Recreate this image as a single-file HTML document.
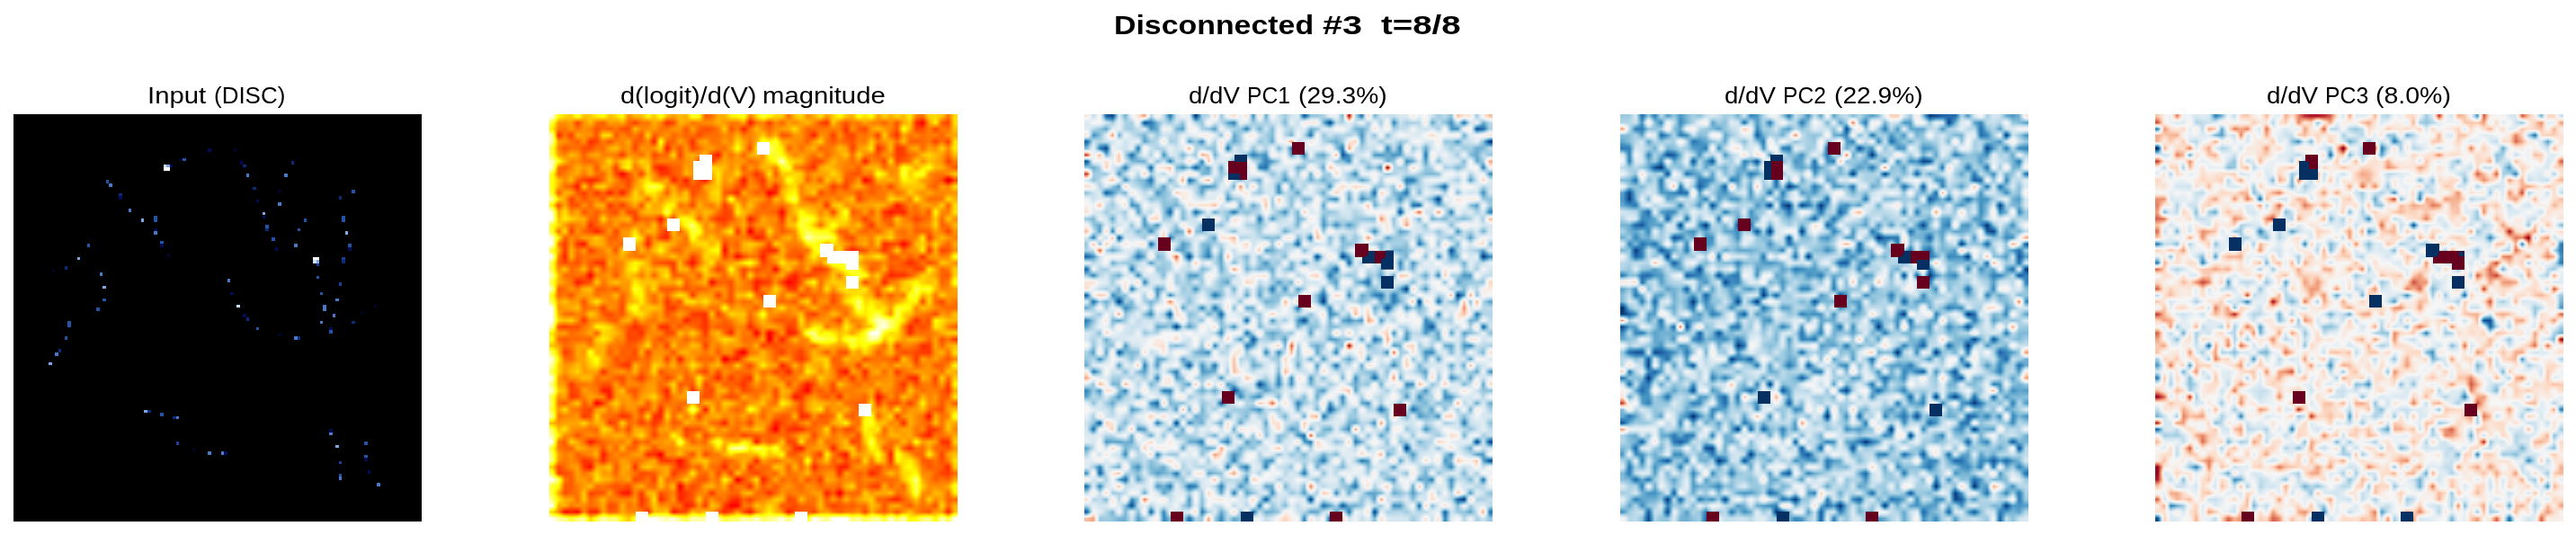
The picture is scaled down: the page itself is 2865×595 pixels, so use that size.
<!DOCTYPE html>
<html><head><meta charset="utf-8"><title>Disconnected #3 t=8/8</title>
<style>
html,body{margin:0;padding:0;background:#fff}
body{width:2865px;height:595px;position:relative;overflow:hidden;font-family:"Liberation Sans",sans-serif;color:#000}
.t{position:absolute;white-space:nowrap;text-align:center;line-height:1}
.t span{display:inline-block;transform-origin:50% 50%}
.w{top:13px;font-size:30px;font-weight:bold;text-align:left}
.w span{transform-origin:0 50%}
.v{top:93px;font-size:26px;text-align:left}
.v span{transform-origin:0 50%}
.p{position:absolute;top:127px;width:454px;height:453px;overflow:hidden}
.g{position:absolute;left:-3.5469px;top:-8.0938px;width:461.0938px}
.g i{display:block;height:7.0938px}
.o{position:absolute;border-radius:0px}
#p1{left:15px;background:#000}
#p1 i{position:absolute;width:3.5469px;height:3.5469px}
</style></head><body>
<svg width="0" height="0" style="position:absolute"><defs><filter id="c1" x="0" y="0" width="100%" height="100%" color-interpolation-filters="sRGB"><feConvolveMatrix order="1 7" kernelMatrix="1 1 1 1 1 1 1" divisor="7" edgeMode="duplicate" preserveAlpha="true"/><feComponentTransfer><feFuncR type="linear" slope="2.6252" intercept="0.0416"/><feFuncG type="linear" slope="2.62499" intercept="-0.958325"/><feFuncB type="linear" slope="3.9375" intercept="-2.9375"/></feComponentTransfer></filter><filter id="c2" x="0" y="0" width="100%" height="100%" color-interpolation-filters="sRGB"><feConvolveMatrix order="1 7" kernelMatrix="1 1 1 1 1 1 1" divisor="7" edgeMode="duplicate" preserveAlpha="true"/><feComponentTransfer><feFuncR type="table" tableValues="0.4039 0.6923 0.8392 0.9546 0.9922 0.9657 0.8196 0.5665 0.2627 0.1273 0.0196"/><feFuncG type="table" tableValues="0 0.0923 0.3765 0.6418 0.8588 0.9672 0.898 0.7687 0.5765 0.3958 0.1882"/><feFuncB type="table" tableValues="0.1216 0.1677 0.302 0.5057 0.7804 0.9681 0.9412 0.8685 0.7647 0.6687 0.3804"/></feComponentTransfer></filter><filter id="c3" x="0" y="0" width="100%" height="100%" color-interpolation-filters="sRGB"><feConvolveMatrix order="1 7" kernelMatrix="1 1 1 1 1 1 1" divisor="7" edgeMode="duplicate" preserveAlpha="true"/><feComponentTransfer><feFuncR type="table" tableValues="0.4039 0.6923 0.8392 0.9546 0.9922 0.9657 0.8196 0.5665 0.2627 0.1273 0.0196"/><feFuncG type="table" tableValues="0 0.0923 0.3765 0.6418 0.8588 0.9672 0.898 0.7687 0.5765 0.3958 0.1882"/><feFuncB type="table" tableValues="0.1216 0.1677 0.302 0.5057 0.7804 0.9681 0.9412 0.8685 0.7647 0.6687 0.3804"/></feComponentTransfer></filter><filter id="c4" x="0" y="0" width="100%" height="100%" color-interpolation-filters="sRGB"><feConvolveMatrix order="1 7" kernelMatrix="1 1 1 1 1 1 1" divisor="7" edgeMode="duplicate" preserveAlpha="true"/><feComponentTransfer><feFuncR type="table" tableValues="0.4039 0.6923 0.8392 0.9546 0.9922 0.9657 0.8196 0.5665 0.2627 0.1273 0.0196"/><feFuncG type="table" tableValues="0 0.0923 0.3765 0.6418 0.8588 0.9672 0.898 0.7687 0.5765 0.3958 0.1882"/><feFuncB type="table" tableValues="0.1216 0.1677 0.302 0.5057 0.7804 0.9681 0.9412 0.8685 0.7647 0.6687 0.3804"/></feComponentTransfer></filter></defs></svg>
<div class="t w" style="left:1238.5px"><span style="transform:scaleX(1.129)">Disconnected</span></div><div class="t w" style="left:1471.4px"><span style="transform:scaleX(1.319)">#3</span></div><div class="t w" style="left:1536.4px"><span style="transform:scaleX(1.279)">t=8/8</span></div>
<div class="t v" style="left:164.3px"><span style="transform:scaleX(1.127)">Input</span></div><div class="t v" style="left:237.8px"><span style="transform:scaleX(0.999)">(DISC)</span></div><div class="t v" style="left:689.8px"><span style="transform:scaleX(1.115)">d(logit)/d(V)</span></div><div class="t v" style="left:848.3px"><span style="transform:scaleX(1.126)">magnitude</span></div><div class="t v" style="left:1322.0px"><span style="transform:scaleX(1.062)">d/dV</span></div><div class="t v" style="left:1387.2px"><span style="transform:scaleX(0.947)">PC1</span></div><div class="t v" style="left:1443.5px"><span style="transform:scaleX(1.084)">(29.3%)</span></div><div class="t v" style="left:1918.0px"><span style="transform:scaleX(1.062)">d/dV</span></div><div class="t v" style="left:1983.2px"><span style="transform:scaleX(0.947)">PC2</span></div><div class="t v" style="left:2039.5px"><span style="transform:scaleX(1.084)">(22.9%)</span></div><div class="t v" style="left:2520.8px"><span style="transform:scaleX(1.067)">d/dV</span></div><div class="t v" style="left:2586.3px"><span style="transform:scaleX(0.953)">PC3</span></div><div class="t v" style="left:2642.3px"><span style="transform:scaleX(1.096)">(8.0%)</span></div>
<div class="p" id="p1"><i style="left:216.36px;top:38.02px;background:#000c55"></i><i style="left:187.98px;top:48.66px;background:#2454a8"></i><i style="left:184.44px;top:48.66px;background:#00062a"></i><i style="left:166.70px;top:55.75px;background:#c4e2fb"></i><i style="left:170.25px;top:55.75px;background:#7ea6e4"></i><i style="left:173.80px;top:55.75px;background:#000c55"></i><i style="left:166.70px;top:59.30px;background:#ffffff"></i><i style="left:170.25px;top:59.30px;background:#ffffff"></i><i style="left:102.86px;top:73.48px;background:#2454a8"></i><i style="left:106.41px;top:77.03px;background:#4a78c8"></i><i style="left:117.05px;top:87.67px;background:#0c2a7a"></i><i style="left:117.05px;top:91.22px;background:#000c55"></i><i style="left:127.69px;top:105.41px;background:#4a78c8"></i><i style="left:141.88px;top:116.05px;background:#7ea6e4"></i><i style="left:156.06px;top:112.50px;background:#2454a8"></i><i style="left:156.06px;top:116.05px;background:#2454a8"></i><i style="left:156.06px;top:126.69px;background:#000c55"></i><i style="left:156.06px;top:130.23px;background:#4a78c8"></i><i style="left:163.16px;top:140.88px;background:#2454a8"></i><i style="left:163.16px;top:144.42px;background:#000c55"></i><i style="left:170.25px;top:155.06px;background:#00062a"></i><i style="left:81.58px;top:144.42px;background:#2454a8"></i><i style="left:70.94px;top:158.61px;background:#7ea6e4"></i><i style="left:56.75px;top:169.25px;background:#0c2a7a"></i><i style="left:42.56px;top:172.80px;background:#00062a"></i><i style="left:95.77px;top:176.34px;background:#4a78c8"></i><i style="left:99.31px;top:190.53px;background:#7ea6e4"></i><i style="left:99.31px;top:204.72px;background:#2454a8"></i><i style="left:92.22px;top:215.36px;background:#2454a8"></i><i style="left:244.73px;top:38.02px;background:#00062a"></i><i style="left:251.83px;top:52.20px;background:#000c55"></i><i style="left:255.38px;top:55.75px;background:#0c2a7a"></i><i style="left:258.92px;top:66.39px;background:#4a78c8"></i><i style="left:266.02px;top:80.58px;background:#0c2a7a"></i><i style="left:269.56px;top:94.77px;background:#000c55"></i><i style="left:276.66px;top:108.95px;background:#7ea6e4"></i><i style="left:276.66px;top:112.50px;background:#000c55"></i><i style="left:280.20px;top:123.14px;background:#2454a8"></i><i style="left:280.20px;top:126.69px;background:#0c2a7a"></i><i style="left:287.30px;top:137.33px;background:#2454a8"></i><i style="left:290.84px;top:147.97px;background:#000c55"></i><i style="left:308.58px;top:52.20px;background:#0c2a7a"></i><i style="left:301.48px;top:66.39px;background:#4a78c8"></i><i style="left:294.39px;top:84.12px;background:#00062a"></i><i style="left:294.39px;top:98.31px;background:#4a78c8"></i><i style="left:322.77px;top:116.05px;background:#2454a8"></i><i style="left:315.67px;top:126.69px;background:#2454a8"></i><i style="left:312.12px;top:144.42px;background:#4a78c8"></i><i style="left:375.97px;top:84.12px;background:#2454a8"></i><i style="left:361.78px;top:91.22px;background:#0c2a7a"></i><i style="left:365.33px;top:112.50px;background:#2454a8"></i><i style="left:365.33px;top:116.05px;background:#2454a8"></i><i style="left:368.88px;top:130.23px;background:#7ea6e4"></i><i style="left:372.42px;top:144.42px;background:#2454a8"></i><i style="left:372.42px;top:147.97px;background:#000c55"></i><i style="left:365.33px;top:158.61px;background:#18409a"></i><i style="left:365.33px;top:162.16px;background:#0c2a7a"></i><i style="left:333.41px;top:158.61px;background:#ffffff"></i><i style="left:336.95px;top:158.61px;background:#ffffff"></i><i style="left:333.41px;top:162.16px;background:#c4e2fb"></i><i style="left:336.95px;top:162.16px;background:#7ea6e4"></i><i style="left:336.95px;top:165.70px;background:#18409a"></i><i style="left:336.95px;top:179.89px;background:#2454a8"></i><i style="left:361.78px;top:186.98px;background:#18409a"></i><i style="left:340.50px;top:197.62px;background:#2454a8"></i><i style="left:358.23px;top:204.72px;background:#4a78c8"></i><i style="left:344.05px;top:211.81px;background:#4a78c8"></i><i style="left:344.05px;top:215.36px;background:#4a78c8"></i><i style="left:354.69px;top:222.45px;background:#4a78c8"></i><i style="left:237.64px;top:183.44px;background:#4a78c8"></i><i style="left:241.19px;top:197.62px;background:#000c55"></i><i style="left:248.28px;top:211.81px;background:#c4e2fb"></i><i style="left:255.38px;top:222.45px;background:#000c55"></i><i style="left:258.92px;top:226.00px;background:#0c2a7a"></i><i style="left:400.80px;top:211.81px;background:#00062a"></i><i style="left:386.61px;top:218.91px;background:#00062a"></i><i style="left:60.30px;top:229.55px;background:#2454a8"></i><i style="left:60.30px;top:233.09px;background:#2454a8"></i><i style="left:56.75px;top:247.28px;background:#2454a8"></i><i style="left:49.66px;top:261.47px;background:#0c2a7a"></i><i style="left:46.11px;top:265.02px;background:#4a78c8"></i><i style="left:39.02px;top:275.66px;background:#7ea6e4"></i><i style="left:145.42px;top:328.86px;background:#7ea6e4"></i><i style="left:148.97px;top:328.86px;background:#0c2a7a"></i><i style="left:163.16px;top:332.41px;background:#2454a8"></i><i style="left:177.34px;top:335.95px;background:#0c2a7a"></i><i style="left:180.89px;top:335.95px;background:#4a78c8"></i><i style="left:180.89px;top:364.33px;background:#18409a"></i><i style="left:216.36px;top:374.97px;background:#4a78c8"></i><i style="left:198.62px;top:371.42px;background:#00062a"></i><i style="left:269.56px;top:236.64px;background:#2454a8"></i><i style="left:294.39px;top:243.73px;background:#00062a"></i><i style="left:312.12px;top:247.28px;background:#4a78c8"></i><i style="left:315.67px;top:247.28px;background:#0c2a7a"></i><i style="left:340.50px;top:229.55px;background:#4a78c8"></i><i style="left:351.14px;top:236.64px;background:#000c55"></i><i style="left:351.14px;top:240.19px;background:#2454a8"></i><i style="left:375.97px;top:229.55px;background:#0c2a7a"></i><i style="left:351.14px;top:350.14px;background:#000c55"></i><i style="left:351.14px;top:353.69px;background:#4a78c8"></i><i style="left:358.23px;top:367.88px;background:#7ea6e4"></i><i style="left:390.16px;top:364.33px;background:#2454a8"></i><i style="left:390.16px;top:378.52px;background:#2454a8"></i><i style="left:390.16px;top:382.06px;background:#000c55"></i><i style="left:361.78px;top:385.61px;background:#18409a"></i><i style="left:361.78px;top:399.80px;background:#2454a8"></i><i style="left:361.78px;top:403.34px;background:#4a78c8"></i><i style="left:393.70px;top:396.25px;background:#000c55"></i><i style="left:404.34px;top:410.44px;background:#4a78c8"></i><i style="left:230.55px;top:374.97px;background:#4a78c8"></i><i style="left:234.09px;top:374.97px;background:#000c55"></i></div>
<div class="p" style="left:611px"><div class="g" style="filter:url(#c1)"><i style="background:linear-gradient(90deg,#fefefe,#fefefe,#bfbfbf,#b1b1b1,#aaaaaa,#cbcbcb,#a6a6a6,#ababab,#b8b8b8,#c3c3c3,#a6a6a6,#b1b1b1,#c2c2c2,#919191,#a5a5a5,#a4a4a4,#bebebe,#a9a9a9,#c9c9c9,#a4a4a4,#999999,#a6a6a6,#9f9f9f,#cbcbcb,#c2c2c2,#808080,#888888,#a0a0a0,#a0a0a0,#b9b9b9,#bfbfbf,#c8c8c8,#8f8f8f,#b0b0b0,#cfcfcf,#bdbdbd,#afafaf,#adadad,#878787,#a7a7a7,#b3b3b3,#929292,#a0a0a0,#b6b6b6,#969696,#acacac,#c1c1c1,#a9a9a9,#a0a0a0,#c4c4c4,#b2b2b2,#c2c2c2,#9b9b9b,#afafaf,#a0a0a0,#b1b1b1,#a4a4a4,#b9b9b9,#909090,#878787,#afafaf,#b0b0b0,#a9a9a9,#898989,#b2b2b2,#b2b2b2)"></i><i style="background:linear-gradient(90deg,#fefefe,#fefefe,#bfbfbf,#b1b1b1,#aaaaaa,#cbcbcb,#a6a6a6,#ababab,#b8b8b8,#c3c3c3,#a6a6a6,#b1b1b1,#c2c2c2,#919191,#a5a5a5,#a4a4a4,#bebebe,#a9a9a9,#c9c9c9,#a4a4a4,#999999,#a6a6a6,#9f9f9f,#cbcbcb,#c2c2c2,#808080,#888888,#a0a0a0,#a0a0a0,#b9b9b9,#bfbfbf,#c8c8c8,#8f8f8f,#b0b0b0,#cfcfcf,#bdbdbd,#afafaf,#adadad,#878787,#a7a7a7,#b3b3b3,#929292,#a0a0a0,#b6b6b6,#969696,#acacac,#c1c1c1,#a9a9a9,#a0a0a0,#c4c4c4,#b2b2b2,#c2c2c2,#9b9b9b,#afafaf,#a0a0a0,#b1b1b1,#a4a4a4,#b9b9b9,#909090,#878787,#afafaf,#b0b0b0,#a9a9a9,#898989,#b2b2b2,#b2b2b2)"></i><i style="background:linear-gradient(90deg,#cfcfcf,#cfcfcf,#959595,#949494,#9a9a9a,#737373,#949494,#a5a5a5,#898989,#808080,#9b9b9b,#969696,#9f9f9f,#858585,#747474,#8a8a8a,#898989,#9f9f9f,#919191,#6e6e6e,#797979,#a1a1a1,#9c9c9c,#898989,#909090,#939393,#969696,#a0a0a0,#979797,#8c8c8c,#8c8c8c,#9e9e9e,#646464,#898989,#909090,#747474,#929292,#838383,#9b9b9b,#909090,#9c9c9c,#a3a3a3,#939393,#7a7a7a,#707070,#ababab,#8d8d8d,#7d7d7d,#8e8e8e,#8b8b8b,#9c9c9c,#909090,#8d8d8d,#828282,#939393,#7c7c7c,#9e9e9e,#acacac,#6e6e6e,#5b5b5b,#9a9a9a,#bcbcbc,#7f7f7f,#757575,#b4b4b4,#b4b4b4)"></i><i style="background:linear-gradient(90deg,#bababa,#bababa,#8c8c8c,#898989,#979797,#888888,#949494,#8e8e8e,#7c7c7c,#888888,#818181,#8b8b8b,#7a7a7a,#7a7a7a,#a6a6a6,#8f8f8f,#929292,#999999,#898989,#8a8a8a,#969696,#969696,#7d7d7d,#9c9c9c,#838383,#7a7a7a,#7d7d7d,#8a8a8a,#acacac,#7c7c7c,#8e8e8e,#686868,#8a8a8a,#a3a3a3,#929292,#848484,#949494,#999999,#9e9e9e,#b4b4b4,#959595,#838383,#878787,#8a8a8a,#8d8d8d,#8d8d8d,#8e8e8e,#6d6d6d,#979797,#818181,#787878,#999999,#a5a5a5,#9a9a9a,#8f8f8f,#7d7d7d,#c6c6c6,#a3a3a3,#777777,#7a7a7a,#8e8e8e,#777777,#8d8d8d,#888888,#a8a8a8,#a8a8a8)"></i><i style="background:linear-gradient(90deg,#ececec,#ececec,#6a6a6a,#8a8a8a,#737373,#a0a0a0,#969696,#959595,#7c7c7c,#b2b2b2,#b3b3b3,#7e7e7e,#929292,#838383,#8d8d8d,#7a7a7a,#b0b0b0,#7e7e7e,#8e8e8e,#979797,#848484,#8c8c8c,#838383,#898989,#797979,#858585,#888888,#888888,#939393,#8c8c8c,#a2a2a2,#8a8a8a,#8f8f8f,#999999,#ababab,#909090,#a1a1a1,#7c7c7c,#818181,#979797,#959595,#818181,#686868,#959595,#909090,#737373,#979797,#7b7b7b,#767676,#8b8b8b,#888888,#919191,#747474,#adadad,#848484,#6f6f6f,#9d9d9d,#8a8a8a,#909090,#878787,#8d8d8d,#8e8e8e,#828282,#979797,#9c9c9c,#9c9c9c)"></i><i style="background:linear-gradient(90deg,#eeeeee,#eeeeee,#989898,#969696,#888888,#818181,#969696,#6d6d6d,#777777,#8e8e8e,#7b7b7b,#8e8e8e,#909090,#9e9e9e,#7d7d7d,#828282,#949494,#676767,#c8c8c8,#848484,#828282,#9d9d9d,#8e8e8e,#6d6d6d,#979797,#9f9f9f,#888888,#8a8a8a,#9a9a9a,#909090,#b1b1b1,#9e9e9e,#898989,#9e9e9e,#cbcbcb,#bbbbbb,#c9c9c9,#a0a0a0,#9b9b9b,#929292,#919191,#808080,#999999,#aeaeae,#898989,#7f7f7f,#8b8b8b,#828282,#7b7b7b,#8e8e8e,#8b8b8b,#ababab,#8b8b8b,#969696,#a0a0a0,#878787,#a6a6a6,#848484,#808080,#858585,#8b8b8b,#757575,#8b8b8b,#737373,#b5b5b5,#b5b5b5)"></i><i style="background:linear-gradient(90deg,#cfcfcf,#cfcfcf,#8f8f8f,#7e7e7e,#888888,#898989,#7a7a7a,#7a7a7a,#898989,#868686,#9f9f9f,#a6a6a6,#909090,#989898,#777777,#979797,#929292,#969696,#afafaf,#676767,#929292,#7c7c7c,#989898,#767676,#868686,#969696,#999999,#8c8c8c,#888888,#9c9c9c,#c3c3c3,#9e9e9e,#797979,#b5b5b5,#c6c6c6,#dcdcdc,#c7c7c7,#b7b7b7,#848484,#969696,#878787,#999999,#a0a0a0,#848484,#898989,#8e8e8e,#a4a4a4,#9b9b9b,#767676,#979797,#9f9f9f,#b5b5b5,#6f6f6f,#848484,#a5a5a5,#727272,#767676,#969696,#a0a0a0,#868686,#9a9a9a,#949494,#acacac,#909090,#b7b7b7,#b7b7b7)"></i><i style="background:linear-gradient(90deg,#d4d4d4,#d4d4d4,#9a9a9a,#909090,#a5a5a5,#9b9b9b,#818181,#9a9a9a,#9e9e9e,#8e8e8e,#8f8f8f,#8b8b8b,#727272,#959595,#929292,#858585,#9c9c9c,#777777,#868686,#868686,#b2b2b2,#747474,#9a9a9a,#a1a1a1,#979797,#a4a4a4,#797979,#646464,#9b9b9b,#878787,#9a9a9a,#838383,#a0a0a0,#a5a5a5,#939393,#c4c4c4,#cccccc,#bfbfbf,#a1a1a1,#919191,#9a9a9a,#949494,#888888,#9b9b9b,#838383,#939393,#9a9a9a,#a9a9a9,#868686,#aeaeae,#909090,#8b8b8b,#7e7e7e,#949494,#939393,#747474,#757575,#848484,#8b8b8b,#a6a6a6,#afafaf,#a4a4a4,#999999,#868686,#a6a6a6,#a6a6a6)"></i><i style="background:linear-gradient(90deg,#f1f1f1,#f1f1f1,#c6c6c6,#a3a3a3,#8e8e8e,#929292,#858585,#828282,#8b8b8b,#979797,#b3b3b3,#939393,#acacac,#b7b7b7,#979797,#b0b0b0,#a4a4a4,#868686,#909090,#8e8e8e,#8d8d8d,#898989,#959595,#989898,#7e7e7e,#8d8d8d,#737373,#909090,#9d9d9d,#939393,#999999,#979797,#848484,#8b8b8b,#9c9c9c,#b3b3b3,#c3c3c3,#f6f6f6,#b9b9b9,#acacac,#a7a7a7,#8a8a8a,#787878,#787878,#919191,#a4a4a4,#959595,#929292,#868686,#959595,#676767,#8f8f8f,#8c8c8c,#777777,#b3b3b3,#777777,#818181,#888888,#afafaf,#919191,#a6a6a6,#a0a0a0,#959595,#757575,#8d8d8d,#8d8d8d)"></i><i style="background:linear-gradient(90deg,#f6f6f6,#f6f6f6,#888888,#808080,#8e8e8e,#a1a1a1,#969696,#9d9d9d,#7e7e7e,#a1a1a1,#9e9e9e,#747474,#acacac,#bebebe,#898989,#9b9b9b,#b4b4b4,#767676,#656565,#717171,#818181,#848484,#9d9d9d,#949494,#747474,#989898,#b3b3b3,#acacac,#a4a4a4,#929292,#a2a2a2,#7f7f7f,#989898,#8c8c8c,#a4a4a4,#a0a0a0,#8e8e8e,#c1c1c1,#d0d0d0,#919191,#888888,#7b7b7b,#707070,#9d9d9d,#a9a9a9,#a2a2a2,#949494,#8c8c8c,#8e8e8e,#808080,#9b9b9b,#a3a3a3,#a4a4a4,#868686,#939393,#949494,#c8c8c8,#b6b6b6,#9a9a9a,#b6b6b6,#c2c2c2,#a4a4a4,#a1a1a1,#8d8d8d,#7e7e7e,#7e7e7e)"></i><i style="background:linear-gradient(90deg,#c9c9c9,#c9c9c9,#828282,#8c8c8c,#999999,#9e9e9e,#8b8b8b,#9f9f9f,#878787,#848484,#a0a0a0,#7a7a7a,#5b5b5b,#7b7b7b,#949494,#757575,#a9a9a9,#929292,#727272,#707070,#7f7f7f,#858585,#a4a4a4,#969696,#6c6c6c,#7a7a7a,#a0a0a0,#b8b8b8,#9a9a9a,#989898,#b1b1b1,#8a8a8a,#868686,#707070,#848484,#b7b7b7,#7f7f7f,#aaaaaa,#aaaaaa,#b2b2b2,#ababab,#8a8a8a,#999999,#9c9c9c,#9d9d9d,#b1b1b1,#a0a0a0,#858585,#7d7d7d,#7c7c7c,#919191,#8c8c8c,#c6c6c6,#b5b5b5,#919191,#979797,#d2d2d2,#a9a9a9,#c2c2c2,#cbcbcb,#959595,#8a8a8a,#898989,#959595,#ababab,#ababab)"></i><i style="background:linear-gradient(90deg,#c3c3c3,#c3c3c3,#a8a8a8,#939393,#a4a4a4,#808080,#747474,#6a6a6a,#717171,#878787,#a5a5a5,#929292,#7f7f7f,#787878,#909090,#a7a7a7,#b6b6b6,#989898,#929292,#9e9e9e,#696969,#828282,#676767,#8d8d8d,#797979,#656565,#919191,#b5b5b5,#949494,#a4a4a4,#8c8c8c,#636363,#929292,#818181,#707070,#9e9e9e,#929292,#999999,#cacaca,#b2b2b2,#a9a9a9,#818181,#969696,#7e7e7e,#a8a8a8,#979797,#a7a7a7,#7c7c7c,#838383,#989898,#5a5a5a,#757575,#a4a4a4,#9d9d9d,#a1a1a1,#979797,#bcbcbc,#b6b6b6,#afafaf,#9a9a9a,#929292,#858585,#7d7d7d,#494949,#787878,#787878)"></i><i style="background:linear-gradient(90deg,#c6c6c6,#c6c6c6,#a0a0a0,#878787,#7f7f7f,#656565,#acacac,#7e7e7e,#ababab,#afafaf,#959595,#858585,#8b8b8b,#7a7a7a,#9b9b9b,#a8a8a8,#cccccc,#d4d4d4,#c8c8c8,#929292,#a0a0a0,#808080,#7a7a7a,#7d7d7d,#7a7a7a,#9c9c9c,#a4a4a4,#acacac,#8e8e8e,#909090,#7d7d7d,#757575,#949494,#8f8f8f,#777777,#909090,#6c6c6c,#949494,#acacac,#b3b3b3,#8f8f8f,#a1a1a1,#9e9e9e,#a1a1a1,#919191,#747474,#848484,#757575,#949494,#a4a4a4,#8f8f8f,#7f7f7f,#878787,#8f8f8f,#777777,#959595,#a6a6a6,#a8a8a8,#aaaaaa,#a7a7a7,#8a8a8a,#818181,#9a9a9a,#909090,#b2b2b2,#b2b2b2)"></i><i style="background:linear-gradient(90deg,#cccccc,#cccccc,#7e7e7e,#a1a1a1,#9f9f9f,#7e7e7e,#757575,#888888,#717171,#848484,#686868,#838383,#686868,#898989,#afafaf,#999999,#b9b9b9,#b6b6b6,#a3a3a3,#818181,#a6a6a6,#929292,#aaaaaa,#777777,#858585,#919191,#adadad,#b3b3b3,#808080,#787878,#6a6a6a,#9f9f9f,#8d8d8d,#818181,#858585,#595959,#6a6a6a,#a4a4a4,#b6b6b6,#bebebe,#909090,#9d9d9d,#acacac,#797979,#898989,#828282,#909090,#8c8c8c,#8b8b8b,#7b7b7b,#8a8a8a,#808080,#888888,#8c8c8c,#999999,#888888,#919191,#adadad,#9c9c9c,#949494,#9f9f9f,#929292,#909090,#929292,#959595,#959595)"></i><i style="background:linear-gradient(90deg,#e8e8e8,#e8e8e8,#b2b2b2,#9d9d9d,#747474,#8e8e8e,#7d7d7d,#898989,#8e8e8e,#7c7c7c,#a0a0a0,#8f8f8f,#989898,#9d9d9d,#aeaeae,#a5a5a5,#858585,#adadad,#959595,#a1a1a1,#adadad,#a5a5a5,#aaaaaa,#848484,#939393,#919191,#a8a8a8,#afafaf,#8a8a8a,#cfcfcf,#919191,#888888,#9a9a9a,#9c9c9c,#959595,#7f7f7f,#a5a5a5,#9a9a9a,#c5c5c5,#d6d6d6,#929292,#7f7f7f,#7c7c7c,#8f8f8f,#8c8c8c,#959595,#8a8a8a,#9c9c9c,#a8a8a8,#767676,#888888,#929292,#8c8c8c,#8e8e8e,#b2b2b2,#a6a6a6,#9f9f9f,#8a8a8a,#bababa,#9a9a9a,#868686,#868686,#898989,#b3b3b3,#a1a1a1,#a1a1a1)"></i><i style="background:linear-gradient(90deg,#bbbbbb,#bbbbbb,#7a7a7a,#9f9f9f,#7b7b7b,#7c7c7c,#969696,#828282,#9f9f9f,#a1a1a1,#707070,#868686,#737373,#8c8c8c,#9e9e9e,#7d7d7d,#b1b1b1,#9c9c9c,#9f9f9f,#bcbcbc,#bbbbbb,#878787,#919191,#777777,#a2a2a2,#929292,#898989,#9f9f9f,#737373,#8a8a8a,#b2b2b2,#909090,#a8a8a8,#929292,#808080,#868686,#8f8f8f,#868686,#939393,#aaaaaa,#999999,#9b9b9b,#979797,#999999,#707070,#a6a6a6,#b1b1b1,#959595,#959595,#9b9b9b,#9a9a9a,#9d9d9d,#a3a3a3,#9e9e9e,#8b8b8b,#656565,#7b7b7b,#929292,#8a8a8a,#9c9c9c,#9b9b9b,#959595,#aeaeae,#818181,#b3b3b3,#b3b3b3)"></i><i style="background:linear-gradient(90deg,#f6f6f6,#f6f6f6,#999999,#b4b4b4,#919191,#9e9e9e,#7e7e7e,#8c8c8c,#808080,#8e8e8e,#838383,#7a7a7a,#969696,#787878,#7a7a7a,#9c9c9c,#a5a5a5,#a0a0a0,#a4a4a4,#d7d7d7,#9e9e9e,#9f9f9f,#939393,#a4a4a4,#969696,#a4a4a4,#9d9d9d,#878787,#767676,#797979,#b9b9b9,#a4a4a4,#979797,#868686,#888888,#868686,#838383,#5f5f5f,#949494,#a7a7a7,#bfbfbf,#afafaf,#a7a7a7,#929292,#9d9d9d,#797979,#a9a9a9,#cacaca,#808080,#898989,#989898,#818181,#9b9b9b,#727272,#656565,#6e6e6e,#6c6c6c,#8a8a8a,#858585,#919191,#7f7f7f,#bdbdbd,#909090,#8d8d8d,#b4b4b4,#b4b4b4)"></i><i style="background:linear-gradient(90deg,#ffffff,#ffffff,#a4a4a4,#b7b7b7,#afafaf,#a2a2a2,#a1a1a1,#838383,#818181,#b3b3b3,#8d8d8d,#989898,#9f9f9f,#a5a5a5,#747474,#848484,#858585,#878787,#636363,#969696,#727272,#bbbbbb,#c4c4c4,#b3b3b3,#818181,#9e9e9e,#7f7f7f,#717171,#737373,#7a7a7a,#939393,#9c9c9c,#666666,#818181,#9e9e9e,#939393,#949494,#6f6f6f,#a3a3a3,#929292,#c8c8c8,#d0d0d0,#c0c0c0,#9d9d9d,#adadad,#a5a5a5,#b0b0b0,#b8b8b8,#919191,#8b8b8b,#747474,#8c8c8c,#9b9b9b,#7d7d7d,#818181,#aaaaaa,#919191,#878787,#767676,#808080,#898989,#ababab,#858585,#ababab,#929292,#929292)"></i><i style="background:linear-gradient(90deg,#c8c8c8,#c8c8c8,#afafaf,#9a9a9a,#848484,#909090,#969696,#6e6e6e,#848484,#8e8e8e,#898989,#999999,#868686,#898989,#909090,#999999,#8d8d8d,#a8a8a8,#7c7c7c,#a3a3a3,#8a8a8a,#a7a7a7,#c4c4c4,#dfdfdf,#b5b5b5,#909090,#a3a3a3,#868686,#7e7e7e,#969696,#8e8e8e,#a0a0a0,#7d7d7d,#939393,#9a9a9a,#979797,#8d8d8d,#7f7f7f,#a3a3a3,#aaaaaa,#d1d1d1,#c1c1c1,#a9a9a9,#878787,#aaaaaa,#c9c9c9,#adadad,#a6a6a6,#999999,#a7a7a7,#878787,#707070,#959595,#8e8e8e,#808080,#9c9c9c,#959595,#969696,#858585,#8e8e8e,#939393,#b0b0b0,#818181,#8b8b8b,#a3a3a3,#a3a3a3)"></i><i style="background:linear-gradient(90deg,#cbcbcb,#cbcbcb,#858585,#b3b3b3,#737373,#979797,#828282,#7b7b7b,#696969,#7d7d7d,#989898,#767676,#979797,#989898,#b7b7b7,#8d8d8d,#a3a3a3,#a1a1a1,#828282,#6f6f6f,#a8a8a8,#838383,#9f9f9f,#cecece,#c9c9c9,#949494,#959595,#8a8a8a,#a4a4a4,#bbbbbb,#707070,#989898,#575757,#848484,#7a7a7a,#b2b2b2,#919191,#7f7f7f,#888888,#949494,#c3c3c3,#d2d2d2,#c8c8c8,#c2c2c2,#c3c3c3,#adadad,#828282,#818181,#9f9f9f,#8b8b8b,#828282,#8c8c8c,#828282,#969696,#a5a5a5,#8b8b8b,#868686,#939393,#818181,#828282,#828282,#9a9a9a,#8d8d8d,#767676,#959595,#959595)"></i><i style="background:linear-gradient(90deg,#f6f6f6,#f6f6f6,#bcbcbc,#7f7f7f,#939393,#8b8b8b,#9b9b9b,#9b9b9b,#ababab,#9a9a9a,#848484,#818181,#949494,#9c9c9c,#c2c2c2,#aeaeae,#787878,#919191,#737373,#6b6b6b,#9c9c9c,#989898,#888888,#c9c9c9,#a6a6a6,#9b9b9b,#a7a7a7,#969696,#8a8a8a,#8f8f8f,#8d8d8d,#8d8d8d,#848484,#696969,#717171,#979797,#858585,#989898,#a4a4a4,#8f8f8f,#b2b2b2,#f1f1f1,#d7d7d7,#d6d6d6,#d9d9d9,#cccccc,#989898,#7d7d7d,#797979,#969696,#989898,#8e8e8e,#ababab,#a1a1a1,#afafaf,#909090,#898989,#8c8c8c,#909090,#bababa,#727272,#929292,#a5a5a5,#979797,#8d8d8d,#8d8d8d)"></i><i style="background:linear-gradient(90deg,#ffffff,#ffffff,#8d8d8d,#737373,#989898,#717171,#646464,#9c9c9c,#a1a1a1,#9e9e9e,#878787,#8c8c8c,#818181,#afafaf,#a3a3a3,#9d9d9d,#686868,#9c9c9c,#acacac,#a5a5a5,#9d9d9d,#8d8d8d,#8a8a8a,#a8a8a8,#b1b1b1,#b3b3b3,#a2a2a2,#b3b3b3,#757575,#8a8a8a,#838383,#a2a2a2,#acacac,#a5a5a5,#979797,#757575,#afafaf,#9c9c9c,#8e8e8e,#8d8d8d,#939393,#bbbbbb,#c8c8c8,#b6b6b6,#959595,#b3b3b3,#a5a5a5,#969696,#878787,#969696,#a0a0a0,#898989,#a9a9a9,#6d6d6d,#767676,#7b7b7b,#5c5c5c,#7a7a7a,#a6a6a6,#aeaeae,#8e8e8e,#aeaeae,#929292,#838383,#9e9e9e,#9e9e9e)"></i><i style="background:linear-gradient(90deg,#c8c8c8,#c8c8c8,#a5a5a5,#717171,#a2a2a2,#868686,#989898,#747474,#868686,#919191,#9d9d9d,#7b7b7b,#acacac,#9b9b9b,#878787,#a3a3a3,#8f8f8f,#a6a6a6,#bebebe,#a0a0a0,#868686,#848484,#989898,#989898,#969696,#aaaaaa,#bcbcbc,#c3c3c3,#5d5d5d,#959595,#868686,#9c9c9c,#a0a0a0,#8f8f8f,#767676,#6c6c6c,#6e6e6e,#a3a3a3,#898989,#818181,#868686,#888888,#bababa,#d2d2d2,#c8c8c8,#939393,#b3b3b3,#7e7e7e,#676767,#767676,#7d7d7d,#919191,#8a8a8a,#717171,#868686,#aeaeae,#818181,#939393,#969696,#bbbbbb,#707070,#a0a0a0,#757575,#7d7d7d,#939393,#939393)"></i><i style="background:linear-gradient(90deg,#ffffff,#ffffff,#8f8f8f,#696969,#a4a4a4,#7f7f7f,#8a8a8a,#8a8a8a,#8c8c8c,#898989,#969696,#959595,#a2a2a2,#919191,#8c8c8c,#868686,#999999,#8e8e8e,#999999,#989898,#a9a9a9,#949494,#989898,#767676,#888888,#b0b0b0,#aaaaaa,#aaaaaa,#747474,#898989,#5e5e5e,#787878,#8b8b8b,#878787,#676767,#8a8a8a,#9e9e9e,#9f9f9f,#828282,#808080,#767676,#9d9d9d,#bbbbbb,#a2a2a2,#989898,#b8b8b8,#bcbcbc,#727272,#979797,#b7b7b7,#a0a0a0,#a8a8a8,#b7b7b7,#a3a3a3,#7c7c7c,#7f7f7f,#919191,#808080,#8d8d8d,#6e6e6e,#949494,#9d9d9d,#8e8e8e,#929292,#c4c4c4,#c4c4c4)"></i><i style="background:linear-gradient(90deg,#d1d1d1,#d1d1d1,#868686,#787878,#858585,#7a7a7a,#8e8e8e,#7f7f7f,#717171,#6f6f6f,#a2a2a2,#8e8e8e,#929292,#adadad,#bdbdbd,#b4b4b4,#a0a0a0,#828282,#7c7c7c,#777777,#757575,#a5a5a5,#7c7c7c,#626262,#868686,#a4a4a4,#b5b5b5,#8b8b8b,#959595,#9a9a9a,#a5a5a5,#b8b8b8,#c6c6c6,#a6a6a6,#757575,#848484,#929292,#b7b7b7,#a0a0a0,#a3a3a3,#898989,#9b9b9b,#9f9f9f,#919191,#b4b4b4,#d0d0d0,#c7c7c7,#d4d4d4,#d1d1d1,#a3a3a3,#919191,#888888,#878787,#939393,#838383,#848484,#7c7c7c,#6c6c6c,#787878,#8b8b8b,#7b7b7b,#848484,#aaaaaa,#a2a2a2,#929292,#929292)"></i><i style="background:linear-gradient(90deg,#d1d1d1,#d1d1d1,#929292,#a9a9a9,#858585,#8f8f8f,#a6a6a6,#7e7e7e,#a1a1a1,#7f7f7f,#929292,#878787,#949494,#b4b4b4,#c0c0c0,#9e9e9e,#a8a8a8,#9c9c9c,#a7a7a7,#a7a7a7,#737373,#a4a4a4,#a3a3a3,#838383,#a2a2a2,#b5b5b5,#909090,#757575,#888888,#c3c3c3,#979797,#787878,#8c8c8c,#7b7b7b,#828282,#888888,#5f5f5f,#979797,#a8a8a8,#898989,#858585,#9d9d9d,#747474,#727272,#7b7b7b,#a1a1a1,#b6b6b6,#c6c6c6,#d5d5d5,#bfbfbf,#a0a0a0,#7f7f7f,#8a8a8a,#a2a2a2,#787878,#838383,#818181,#848484,#767676,#7a7a7a,#bcbcbc,#a1a1a1,#828282,#8b8b8b,#acacac,#acacac)"></i><i style="background:linear-gradient(90deg,#eaeaea,#eaeaea,#a5a5a5,#868686,#858585,#888888,#818181,#5d5d5d,#8f8f8f,#929292,#979797,#7e7e7e,#989898,#aaaaaa,#9f9f9f,#8b8b8b,#a2a2a2,#828282,#a4a4a4,#b8b8b8,#828282,#838383,#8d8d8d,#969696,#7d7d7d,#a9a9a9,#9e9e9e,#969696,#838383,#a0a0a0,#9d9d9d,#797979,#b0b0b0,#868686,#8f8f8f,#828282,#919191,#a0a0a0,#7b7b7b,#686868,#7d7d7d,#767676,#7d7d7d,#858585,#8c8c8c,#a9a9a9,#8b8b8b,#b0b0b0,#bdbdbd,#cccccc,#c5c5c5,#999999,#acacac,#828282,#6a6a6a,#707070,#6e6e6e,#7e7e7e,#929292,#aeaeae,#a8a8a8,#9b9b9b,#828282,#7d7d7d,#aeaeae,#aeaeae)"></i><i style="background:linear-gradient(90deg,#d0d0d0,#d0d0d0,#9f9f9f,#949494,#898989,#676767,#757575,#7d7d7d,#aaaaaa,#898989,#9c9c9c,#a7a7a7,#999999,#999999,#b8b8b8,#a9a9a9,#a7a7a7,#a9a9a9,#9b9b9b,#9f9f9f,#9c9c9c,#b0b0b0,#818181,#8f8f8f,#989898,#a2a2a2,#616161,#808080,#858585,#7a7a7a,#9c9c9c,#8f8f8f,#858585,#686868,#717171,#787878,#959595,#767676,#5e5e5e,#686868,#818181,#ababab,#bcbcbc,#878787,#a1a1a1,#acacac,#aaaaaa,#a4a4a4,#a7a7a7,#a9a9a9,#7c7c7c,#929292,#9a9a9a,#6b6b6b,#8b8b8b,#939393,#a9a9a9,#b3b3b3,#bdbdbd,#aeaeae,#a6a6a6,#ababab,#838383,#8c8c8c,#c7c7c7,#c7c7c7)"></i><i style="background:linear-gradient(90deg,#efefef,#efefef,#7f7f7f,#878787,#979797,#8a8a8a,#a4a4a4,#a6a6a6,#848484,#828282,#8a8a8a,#7c7c7c,#939393,#989898,#cccccc,#b8b8b8,#979797,#b2b2b2,#818181,#7f7f7f,#808080,#8a8a8a,#7b7b7b,#868686,#808080,#868686,#909090,#979797,#959595,#7c7c7c,#959595,#8d8d8d,#8b8b8b,#696969,#919191,#8e8e8e,#b0b0b0,#979797,#757575,#717171,#9b9b9b,#808080,#999999,#898989,#b4b4b4,#939393,#aeaeae,#b8b8b8,#aeaeae,#b1b1b1,#b6b6b6,#929292,#7e7e7e,#a3a3a3,#bebebe,#959595,#afafaf,#aaaaaa,#d6d6d6,#c4c4c4,#cfcfcf,#a7a7a7,#8f8f8f,#919191,#9b9b9b,#9b9b9b)"></i><i style="background:linear-gradient(90deg,#c5c5c5,#c5c5c5,#838383,#8b8b8b,#7c7c7c,#969696,#9a9a9a,#9b9b9b,#888888,#8f8f8f,#909090,#a5a5a5,#828282,#949494,#b7b7b7,#bdbdbd,#949494,#888888,#9f9f9f,#828282,#a0a0a0,#b5b5b5,#a8a8a8,#727272,#9b9b9b,#9b9b9b,#989898,#737373,#979797,#7a7a7a,#a6a6a6,#a7a7a7,#bebebe,#878787,#737373,#9e9e9e,#a2a2a2,#8a8a8a,#a5a5a5,#979797,#797979,#858585,#838383,#8a8a8a,#929292,#7d7d7d,#8c8c8c,#a7a7a7,#b1b1b1,#b7b7b7,#a8a8a8,#9f9f9f,#757575,#919191,#808080,#929292,#8a8a8a,#c7c7c7,#cacaca,#a1a1a1,#afafaf,#8b8b8b,#aeaeae,#999999,#989898,#989898)"></i><i style="background:linear-gradient(90deg,#d4d4d4,#d4d4d4,#9a9a9a,#a6a6a6,#979797,#999999,#7b7b7b,#9f9f9f,#b7b7b7,#9c9c9c,#909090,#929292,#7c7c7c,#9e9e9e,#a4a4a4,#b9b9b9,#9a9a9a,#848484,#999999,#717171,#888888,#7b7b7b,#b3b3b3,#b5b5b5,#a5a5a5,#b5b5b5,#9c9c9c,#969696,#8a8a8a,#7b7b7b,#919191,#868686,#8a8a8a,#999999,#898989,#727272,#8a8a8a,#828282,#888888,#7d7d7d,#a2a2a2,#b0b0b0,#7d7d7d,#979797,#959595,#777777,#8e8e8e,#b2b2b2,#c2c2c2,#dfdfdf,#b0b0b0,#b7b7b7,#acacac,#9d9d9d,#919191,#9a9a9a,#acacac,#bcbcbc,#bcbcbc,#787878,#b3b3b3,#868686,#767676,#939393,#8a8a8a,#8a8a8a)"></i><i style="background:linear-gradient(90deg,#ffffff,#ffffff,#949494,#9a9a9a,#9f9f9f,#a7a7a7,#848484,#8b8b8b,#8f8f8f,#747474,#959595,#8f8f8f,#777777,#b4b4b4,#cdcdcd,#a3a3a3,#aaaaaa,#a9a9a9,#a0a0a0,#777777,#717171,#888888,#878787,#8e8e8e,#8c8c8c,#979797,#878787,#8c8c8c,#c3c3c3,#929292,#9d9d9d,#959595,#8f8f8f,#808080,#9a9a9a,#8d8d8d,#a0a0a0,#b4b4b4,#949494,#999999,#7f7f7f,#919191,#a5a5a5,#8c8c8c,#808080,#8e8e8e,#898989,#8d8d8d,#a3a3a3,#dbdbdb,#b7b7b7,#c2c2c2,#afafaf,#b4b4b4,#989898,#cacaca,#c8c8c8,#bdbdbd,#909090,#a9a9a9,#9f9f9f,#939393,#898989,#848484,#848484,#848484)"></i><i style="background:linear-gradient(90deg,#ffffff,#ffffff,#a0a0a0,#888888,#858585,#909090,#8a8a8a,#acacac,#9d9d9d,#7f7f7f,#777777,#858585,#7d7d7d,#9c9c9c,#b2b2b2,#b4b4b4,#a2a2a2,#909090,#9a9a9a,#7c7c7c,#898989,#9d9d9d,#8e8e8e,#737373,#727272,#6e6e6e,#a9a9a9,#737373,#8e8e8e,#b1b1b1,#a9a9a9,#a9a9a9,#868686,#9f9f9f,#cbcbcb,#939393,#959595,#8a8a8a,#8d8d8d,#969696,#a8a8a8,#7b7b7b,#737373,#8a8a8a,#919191,#a6a6a6,#979797,#858585,#a0a0a0,#b9b9b9,#b6b6b6,#c1c1c1,#d6d6d6,#b0b0b0,#919191,#d7d7d7,#aeaeae,#a8a8a8,#919191,#8c8c8c,#868686,#787878,#989898,#909090,#a6a6a6,#a6a6a6)"></i><i style="background:linear-gradient(90deg,#ffffff,#ffffff,#afafaf,#a7a7a7,#afafaf,#939393,#707070,#929292,#949494,#929292,#838383,#7e7e7e,#9c9c9c,#a2a2a2,#828282,#9d9d9d,#8e8e8e,#898989,#999999,#8a8a8a,#848484,#8b8b8b,#686868,#7c7c7c,#7e7e7e,#6e6e6e,#919191,#8e8e8e,#808080,#8c8c8c,#9d9d9d,#a3a3a3,#7e7e7e,#959595,#a7a7a7,#909090,#808080,#7d7d7d,#828282,#7c7c7c,#b6b6b6,#888888,#969696,#959595,#979797,#868686,#757575,#aaaaaa,#909090,#959595,#a3a3a3,#d0d0d0,#eeeeee,#ededed,#d8d8d8,#cacaca,#b4b4b4,#8b8b8b,#6b6b6b,#838383,#7b7b7b,#c0c0c0,#b3b3b3,#a4a4a4,#a3a3a3,#a3a3a3)"></i><i style="background:linear-gradient(90deg,#ececec,#ececec,#7b7b7b,#747474,#7c7c7c,#797979,#8b8b8b,#969696,#bbbbbb,#b9b9b9,#b0b0b0,#999999,#8c8c8c,#7e7e7e,#6d6d6d,#7a7a7a,#878787,#999999,#6f6f6f,#707070,#8b8b8b,#7d7d7d,#8f8f8f,#868686,#7c7c7c,#6e6e6e,#898989,#808080,#7d7d7d,#7d7d7d,#929292,#8f8f8f,#6c6c6c,#858585,#989898,#9e9e9e,#9b9b9b,#909090,#737373,#7b7b7b,#a7a7a7,#999999,#b8b8b8,#b5b5b5,#898989,#999999,#919191,#bababa,#a1a1a1,#8b8b8b,#a3a3a3,#aeaeae,#ececec,#fbfbfb,#dadada,#c0c0c0,#8f8f8f,#6a6a6a,#808080,#7a7a7a,#818181,#bababa,#ababab,#8e8e8e,#818181,#818181)"></i><i style="background:linear-gradient(90deg,#b6b6b6,#b6b6b6,#999999,#9b9b9b,#858585,#8b8b8b,#919191,#9f9f9f,#818181,#b0b0b0,#ababab,#a4a4a4,#959595,#767676,#7b7b7b,#6e6e6e,#909090,#939393,#929292,#787878,#7a7a7a,#a7a7a7,#959595,#aeaeae,#949494,#717171,#9b9b9b,#a5a5a5,#858585,#6b6b6b,#989898,#8b8b8b,#8b8b8b,#5b5b5b,#909090,#575757,#7b7b7b,#979797,#686868,#6b6b6b,#979797,#d8d8d8,#e1e1e1,#b5b5b5,#c5c5c5,#b7b7b7,#a7a7a7,#adadad,#989898,#afafaf,#c8c8c8,#ffffff,#ffffff,#c0c0c0,#b0b0b0,#b3b3b3,#969696,#6b6b6b,#888888,#868686,#8a8a8a,#919191,#a1a1a1,#aaaaaa,#afafaf,#afafaf)"></i><i style="background:linear-gradient(90deg,#c4c4c4,#c4c4c4,#858585,#7e7e7e,#878787,#848484,#868686,#7f7f7f,#adadad,#b9b9b9,#acacac,#919191,#949494,#797979,#777777,#818181,#9b9b9b,#8a8a8a,#7a7a7a,#8b8b8b,#969696,#929292,#828282,#929292,#878787,#828282,#8e8e8e,#a0a0a0,#b3b3b3,#acacac,#9d9d9d,#878787,#878787,#878787,#9c9c9c,#565656,#888888,#696969,#898989,#a5a5a5,#8d8d8d,#949494,#d6d6d6,#dadada,#cccccc,#cfcfcf,#a7a7a7,#cacaca,#d3d3d3,#c0c0c0,#cbcbcb,#e9e9e9,#dfdfdf,#a8a8a8,#bebebe,#a8a8a8,#989898,#a5a5a5,#a1a1a1,#999999,#848484,#9c9c9c,#7a7a7a,#8a8a8a,#717171,#717171)"></i><i style="background:linear-gradient(90deg,#a8a8a8,#a8a8a8,#9b9b9b,#868686,#8c8c8c,#9a9a9a,#9d9d9d,#8b8b8b,#a2a2a2,#a4a4a4,#8c8c8c,#8b8b8b,#858585,#7e7e7e,#848484,#969696,#b3b3b3,#838383,#939393,#767676,#a8a8a8,#8c8c8c,#929292,#a7a7a7,#9f9f9f,#737373,#969696,#8b8b8b,#9d9d9d,#969696,#9b9b9b,#8f8f8f,#8c8c8c,#a1a1a1,#757575,#7e7e7e,#7a7a7a,#838383,#858585,#8b8b8b,#888888,#909090,#858585,#a2a2a2,#ababab,#a0a0a0,#999999,#9f9f9f,#cecece,#b6b6b6,#c1c1c1,#adadad,#999999,#878787,#aeaeae,#737373,#8f8f8f,#8e8e8e,#868686,#6d6d6d,#727272,#9e9e9e,#838383,#9d9d9d,#a6a6a6,#a6a6a6)"></i><i style="background:linear-gradient(90deg,#d5d5d5,#d5d5d5,#a7a7a7,#737373,#818181,#9e9e9e,#959595,#c8c8c8,#a0a0a0,#a1a1a1,#818181,#909090,#7f7f7f,#848484,#787878,#a0a0a0,#747474,#949494,#959595,#909090,#808080,#9d9d9d,#a2a2a2,#959595,#949494,#898989,#979797,#808080,#939393,#929292,#6e6e6e,#5b5b5b,#898989,#909090,#a4a4a4,#909090,#808080,#757575,#898989,#7f7f7f,#757575,#8b8b8b,#a3a3a3,#959595,#838383,#969696,#7f7f7f,#7c7c7c,#a4a4a4,#989898,#b2b2b2,#9d9d9d,#818181,#919191,#a7a7a7,#858585,#7b7b7b,#7e7e7e,#787878,#737373,#727272,#979797,#a1a1a1,#898989,#b2b2b2,#b2b2b2)"></i><i style="background:linear-gradient(90deg,#f6f6f6,#f6f6f6,#b9b9b9,#878787,#848484,#999999,#9d9d9d,#b5b5b5,#c5c5c5,#9e9e9e,#939393,#7b7b7b,#858585,#7c7c7c,#7e7e7e,#8a8a8a,#838383,#999999,#9d9d9d,#757575,#9b9b9b,#676767,#929292,#9d9d9d,#848484,#868686,#828282,#999999,#525252,#737373,#686868,#8c8c8c,#a6a6a6,#a8a8a8,#a3a3a3,#949494,#828282,#9f9f9f,#999999,#7d7d7d,#717171,#838383,#a5a5a5,#aaaaaa,#adadad,#808080,#858585,#a6a6a6,#989898,#9a9a9a,#7b7b7b,#868686,#8a8a8a,#878787,#848484,#727272,#a8a8a8,#909090,#717171,#9d9d9d,#909090,#9a9a9a,#8a8a8a,#7d7d7d,#909090,#909090)"></i><i style="background:linear-gradient(90deg,#e8e8e8,#e8e8e8,#ababab,#969696,#9a9a9a,#a7a7a7,#989898,#acacac,#b8b8b8,#9f9f9f,#8f8f8f,#838383,#757575,#707070,#a5a5a5,#8e8e8e,#868686,#b0b0b0,#a3a3a3,#909090,#a2a2a2,#898989,#979797,#b5b5b5,#a2a2a2,#898989,#9c9c9c,#a5a5a5,#898989,#888888,#adadad,#8a8a8a,#787878,#969696,#bcbcbc,#a0a0a0,#9c9c9c,#696969,#828282,#a3a3a3,#898989,#ababab,#9f9f9f,#9c9c9c,#b2b2b2,#868686,#828282,#8f8f8f,#939393,#737373,#9f9f9f,#959595,#8f8f8f,#999999,#8b8b8b,#a1a1a1,#969696,#9d9d9d,#808080,#8d8d8d,#969696,#808080,#818181,#919191,#bcbcbc,#bcbcbc)"></i><i style="background:linear-gradient(90deg,#d1d1d1,#d1d1d1,#adadad,#969696,#a3a3a3,#afafaf,#979797,#9c9c9c,#9b9b9b,#6e6e6e,#8c8c8c,#969696,#9a9a9a,#8b8b8b,#a2a2a2,#838383,#8e8e8e,#b0b0b0,#7b7b7b,#8a8a8a,#8d8d8d,#8f8f8f,#868686,#9c9c9c,#808080,#767676,#959595,#797979,#959595,#8d8d8d,#858585,#868686,#898989,#9a9a9a,#888888,#8b8b8b,#767676,#808080,#696969,#8c8c8c,#8b8b8b,#bababa,#aaaaaa,#929292,#a3a3a3,#929292,#727272,#606060,#9d9d9d,#919191,#6b6b6b,#989898,#9e9e9e,#858585,#999999,#717171,#888888,#8e8e8e,#999999,#999999,#959595,#949494,#878787,#a8a8a8,#9e9e9e,#9e9e9e)"></i><i style="background:linear-gradient(90deg,#fafafa,#fafafa,#9a9a9a,#888888,#959595,#999999,#a7a7a7,#a2a2a2,#858585,#919191,#8d8d8d,#7f7f7f,#787878,#919191,#848484,#727272,#8b8b8b,#969696,#8c8c8c,#777777,#868686,#a4a4a4,#7f7f7f,#8a8a8a,#bababa,#939393,#828282,#686868,#8d8d8d,#737373,#878787,#787878,#6f6f6f,#ababab,#8e8e8e,#a0a0a0,#9b9b9b,#828282,#898989,#898989,#9e9e9e,#969696,#8a8a8a,#adadad,#9b9b9b,#939393,#7f7f7f,#8d8d8d,#737373,#919191,#7a7a7a,#8f8f8f,#8c8c8c,#919191,#969696,#898989,#878787,#6f6f6f,#696969,#a4a4a4,#989898,#757575,#aeaeae,#848484,#ababab,#ababab)"></i><i style="background:linear-gradient(90deg,#e0e0e0,#e0e0e0,#9c9c9c,#959595,#717171,#878787,#8a8a8a,#8e8e8e,#858585,#7c7c7c,#7c7c7c,#9a9a9a,#808080,#929292,#929292,#8b8b8b,#979797,#999999,#848484,#919191,#b1b1b1,#7d7d7d,#858585,#7e7e7e,#b3b3b3,#757575,#898989,#9b9b9b,#808080,#858585,#7d7d7d,#6f6f6f,#868686,#979797,#868686,#939393,#9c9c9c,#a3a3a3,#7a7a7a,#959595,#7e7e7e,#646464,#7b7b7b,#999999,#929292,#7a7a7a,#a8a8a8,#979797,#898989,#848484,#929292,#8a8a8a,#a1a1a1,#979797,#9a9a9a,#858585,#707070,#939393,#797979,#8b8b8b,#8d8d8d,#7e7e7e,#9c9c9c,#737373,#bebebe,#bebebe)"></i><i style="background:linear-gradient(90deg,#f6f6f6,#f6f6f6,#aaaaaa,#a4a4a4,#767676,#7b7b7b,#9b9b9b,#929292,#8b8b8b,#676767,#676767,#989898,#a7a7a7,#828282,#7c7c7c,#919191,#9a9a9a,#9b9b9b,#828282,#696969,#a7a7a7,#878787,#a1a1a1,#6c6c6c,#929292,#7e7e7e,#787878,#a1a1a1,#a3a3a3,#828282,#939393,#787878,#7f7f7f,#878787,#878787,#979797,#797979,#a2a2a2,#9f9f9f,#868686,#6f6f6f,#5b5b5b,#868686,#808080,#8b8b8b,#777777,#8b8b8b,#8d8d8d,#8d8d8d,#929292,#949494,#9f9f9f,#7f7f7f,#999999,#929292,#838383,#7c7c7c,#a9a9a9,#919191,#868686,#8e8e8e,#8d8d8d,#828282,#707070,#a0a0a0,#a0a0a0)"></i><i style="background:linear-gradient(90deg,#d1d1d1,#d1d1d1,#939393,#9b9b9b,#727272,#797979,#8e8e8e,#9d9d9d,#959595,#929292,#646464,#979797,#999999,#999999,#828282,#999999,#a3a3a3,#afafaf,#919191,#717171,#8f8f8f,#999999,#9b9b9b,#aeaeae,#898989,#7a7a7a,#808080,#979797,#818181,#787878,#7f7f7f,#9f9f9f,#919191,#888888,#9f9f9f,#9a9a9a,#7b7b7b,#a0a0a0,#949494,#656565,#717171,#8e8e8e,#989898,#878787,#7c7c7c,#8c8c8c,#6e6e6e,#949494,#8b8b8b,#8b8b8b,#838383,#9d9d9d,#5f5f5f,#7c7c7c,#959595,#818181,#a7a7a7,#979797,#838383,#a4a4a4,#8f8f8f,#989898,#818181,#818181,#b5b5b5,#b5b5b5)"></i><i style="background:linear-gradient(90deg,#d6d6d6,#d6d6d6,#888888,#7f7f7f,#979797,#aaaaaa,#7f7f7f,#939393,#585858,#737373,#979797,#aeaeae,#939393,#9a9a9a,#959595,#9e9e9e,#7d7d7d,#9c9c9c,#848484,#858585,#8c8c8c,#888888,#868686,#a2a2a2,#848484,#a3a3a3,#9d9d9d,#898989,#acacac,#a6a6a6,#959595,#868686,#979797,#9d9d9d,#a9a9a9,#8d8d8d,#878787,#bcbcbc,#acacac,#919191,#7a7a7a,#999999,#a8a8a8,#a2a2a2,#9d9d9d,#939393,#a0a0a0,#878787,#848484,#828282,#828282,#b2b2b2,#707070,#8f8f8f,#7b7b7b,#797979,#8e8e8e,#737373,#8e8e8e,#bdbdbd,#919191,#959595,#7e7e7e,#949494,#808080,#808080)"></i><i style="background:linear-gradient(90deg,#cecece,#cecece,#979797,#b3b3b3,#8e8e8e,#888888,#7c7c7c,#757575,#999999,#a5a5a5,#8a8a8a,#9b9b9b,#868686,#949494,#959595,#737373,#808080,#999999,#6b6b6b,#9d9d9d,#8a8a8a,#7d7d7d,#9e9e9e,#dfdfdf,#a2a2a2,#626262,#a9a9a9,#898989,#a1a1a1,#8d8d8d,#828282,#8f8f8f,#cacaca,#b0b0b0,#8a8a8a,#929292,#a2a2a2,#9c9c9c,#909090,#8a8a8a,#767676,#999999,#a9a9a9,#b8b8b8,#888888,#989898,#959595,#a3a3a3,#8b8b8b,#818181,#797979,#a8a8a8,#939393,#a3a3a3,#8b8b8b,#b8b8b8,#868686,#969696,#989898,#a6a6a6,#888888,#7d7d7d,#7a7a7a,#9c9c9c,#a6a6a6,#a6a6a6)"></i><i style="background:linear-gradient(90deg,#e6e6e6,#e6e6e6,#898989,#919191,#929292,#969696,#727272,#7d7d7d,#aeaeae,#8b8b8b,#878787,#828282,#717171,#777777,#929292,#808080,#aeaeae,#707070,#6a6a6a,#b1b1b1,#858585,#a2a2a2,#8d8d8d,#a3a3a3,#787878,#959595,#9c9c9c,#a2a2a2,#909090,#969696,#8f8f8f,#9c9c9c,#898989,#989898,#838383,#989898,#868686,#7e7e7e,#818181,#a3a3a3,#6e6e6e,#727272,#969696,#7d7d7d,#808080,#898989,#b8b8b8,#898989,#7f7f7f,#8d8d8d,#b9b9b9,#c5c5c5,#838383,#9c9c9c,#b0b0b0,#757575,#939393,#9f9f9f,#939393,#888888,#626262,#a1a1a1,#878787,#8f8f8f,#c8c8c8,#c8c8c8)"></i><i style="background:linear-gradient(90deg,#a2a2a2,#a2a2a2,#949494,#9b9b9b,#9c9c9c,#9d9d9d,#b1b1b1,#949494,#a3a3a3,#9d9d9d,#737373,#7d7d7d,#b0b0b0,#878787,#8b8b8b,#747474,#868686,#6f6f6f,#808080,#9c9c9c,#7d7d7d,#858585,#a3a3a3,#979797,#949494,#9f9f9f,#868686,#828282,#676767,#969696,#888888,#8c8c8c,#787878,#999999,#999999,#8d8d8d,#686868,#787878,#868686,#7d7d7d,#8f8f8f,#9b9b9b,#808080,#868686,#848484,#9f9f9f,#a7a7a7,#bebebe,#8f8f8f,#878787,#c3c3c3,#c6c6c6,#a7a7a7,#a7a7a7,#909090,#959595,#6b6b6b,#a1a1a1,#929292,#898989,#818181,#a7a7a7,#888888,#a7a7a7,#9d9d9d,#9d9d9d)"></i><i style="background:linear-gradient(90deg,#d7d7d7,#d7d7d7,#a5a5a5,#b5b5b5,#969696,#919191,#8e8e8e,#878787,#858585,#b3b3b3,#a9a9a9,#838383,#929292,#797979,#a0a0a0,#9d9d9d,#8f8f8f,#7c7c7c,#9b9b9b,#9b9b9b,#8f8f8f,#999999,#747474,#7e7e7e,#7d7d7d,#8f8f8f,#aaaaaa,#909090,#9d9d9d,#8c8c8c,#858585,#9c9c9c,#969696,#a8a8a8,#9f9f9f,#797979,#585858,#878787,#737373,#6d6d6d,#707070,#818181,#868686,#909090,#b2b2b2,#7b7b7b,#8c8c8c,#797979,#7b7b7b,#949494,#bdbdbd,#b3b3b3,#b8b8b8,#848484,#a0a0a0,#939393,#9d9d9d,#9c9c9c,#8a8a8a,#929292,#707070,#757575,#878787,#a9a9a9,#8f8f8f,#8f8f8f)"></i><i style="background:linear-gradient(90deg,#e7e7e7,#e7e7e7,#b7b7b7,#929292,#8f8f8f,#7b7b7b,#8c8c8c,#949494,#8b8b8b,#9e9e9e,#989898,#a2a2a2,#9e9e9e,#8d8d8d,#a0a0a0,#b2b2b2,#939393,#777777,#909090,#909090,#bfbfbf,#a4a4a4,#787878,#878787,#a4a4a4,#777777,#898989,#989898,#8c8c8c,#828282,#8b8b8b,#757575,#808080,#7d7d7d,#858585,#828282,#868686,#878787,#808080,#8f8f8f,#a0a0a0,#9c9c9c,#787878,#939393,#9e9e9e,#898989,#969696,#8b8b8b,#8f8f8f,#797979,#b5b5b5,#bababa,#9a9a9a,#8c8c8c,#a2a2a2,#a1a1a1,#999999,#9f9f9f,#8a8a8a,#747474,#686868,#898989,#888888,#8e8e8e,#9e9e9e,#9e9e9e)"></i><i style="background:linear-gradient(90deg,#ffffff,#ffffff,#8a8a8a,#7f7f7f,#afafaf,#9d9d9d,#868686,#656565,#797979,#848484,#8c8c8c,#909090,#8e8e8e,#9f9f9f,#797979,#898989,#828282,#979797,#949494,#9c9c9c,#999999,#d7d7d7,#9e9e9e,#808080,#8d8d8d,#848484,#aeaeae,#d2d2d2,#a1a1a1,#a1a1a1,#9a9a9a,#bcbcbc,#aaaaaa,#626262,#8f8f8f,#7f7f7f,#8b8b8b,#a9a9a9,#777777,#797979,#b6b6b6,#898989,#888888,#a3a3a3,#878787,#8a8a8a,#969696,#a8a8a8,#747474,#7e7e7e,#a9a9a9,#d5d5d5,#a3a3a3,#989898,#868686,#8c8c8c,#a4a4a4,#8f8f8f,#c5c5c5,#989898,#a3a3a3,#9a9a9a,#6f6f6f,#6e6e6e,#aeaeae,#aeaeae)"></i><i style="background:linear-gradient(90deg,#cacaca,#cacaca,#8c8c8c,#838383,#818181,#a3a3a3,#9d9d9d,#909090,#969696,#7b7b7b,#9a9a9a,#828282,#a7a7a7,#848484,#838383,#a4a4a4,#969696,#7c7c7c,#939393,#919191,#909090,#a2a2a2,#9d9d9d,#9f9f9f,#999999,#919191,#939393,#b5b5b5,#979797,#e1e1e1,#ebebeb,#e6e6e6,#b9b9b9,#d7d7d7,#cacaca,#b5b5b5,#d0d0d0,#9d9d9d,#929292,#707070,#666666,#909090,#969696,#9b9b9b,#959595,#6a6a6a,#929292,#a5a5a5,#acacac,#818181,#999999,#c1c1c1,#b1b1b1,#818181,#818181,#afafaf,#818181,#6d6d6d,#8a8a8a,#868686,#9f9f9f,#838383,#848484,#7b7b7b,#969696,#969696)"></i><i style="background:linear-gradient(90deg,#dbdbdb,#dbdbdb,#9c9c9c,#8d8d8d,#959595,#808080,#8c8c8c,#929292,#a2a2a2,#676767,#858585,#939393,#878787,#8f8f8f,#9a9a9a,#979797,#6e6e6e,#707070,#575757,#939393,#939393,#a5a5a5,#8e8e8e,#7c7c7c,#a0a0a0,#787878,#8a8a8a,#8c8c8c,#a0a0a0,#b2b2b2,#9f9f9f,#9b9b9b,#a4a4a4,#a4a4a4,#c4c4c4,#a8a8a8,#b1b1b1,#bfbfbf,#818181,#7e7e7e,#919191,#9a9a9a,#858585,#727272,#bdbdbd,#8d8d8d,#757575,#626262,#a8a8a8,#979797,#9f9f9f,#a6a6a6,#c4c4c4,#a1a1a1,#666666,#cbcbcb,#aeaeae,#9c9c9c,#848484,#848484,#bbbbbb,#959595,#757575,#9c9c9c,#a7a7a7,#a7a7a7)"></i><i style="background:linear-gradient(90deg,#e1e1e1,#e1e1e1,#969696,#8a8a8a,#939393,#888888,#6f6f6f,#757575,#8c8c8c,#6e6e6e,#8a8a8a,#888888,#9c9c9c,#939393,#878787,#8b8b8b,#979797,#9e9e9e,#757575,#707070,#7a7a7a,#5f5f5f,#7b7b7b,#9b9b9b,#a4a4a4,#ababab,#909090,#8e8e8e,#7f7f7f,#858585,#939393,#a2a2a2,#939393,#6c6c6c,#9a9a9a,#909090,#868686,#949494,#9b9b9b,#909090,#848484,#cbcbcb,#838383,#939393,#a8a8a8,#808080,#909090,#777777,#888888,#848484,#b0b0b0,#888888,#b5b5b5,#a1a1a1,#6e6e6e,#bebebe,#b3b3b3,#b9b9b9,#a3a3a3,#7d7d7d,#7f7f7f,#8a8a8a,#7a7a7a,#8e8e8e,#b5b5b5,#b5b5b5)"></i><i style="background:linear-gradient(90deg,#acacac,#acacac,#777777,#878787,#969696,#9a9a9a,#737373,#606060,#9e9e9e,#9d9d9d,#aaaaaa,#7e7e7e,#9b9b9b,#a0a0a0,#6e6e6e,#9f9f9f,#ababab,#9d9d9d,#999999,#9c9c9c,#848484,#6c6c6c,#787878,#8c8c8c,#808080,#a0a0a0,#888888,#868686,#6b6b6b,#8d8d8d,#858585,#a6a6a6,#6e6e6e,#898989,#848484,#878787,#aaaaaa,#a1a1a1,#808080,#a4a4a4,#838383,#9f9f9f,#6b6b6b,#848484,#898989,#848484,#6a6a6a,#686868,#8b8b8b,#979797,#929292,#838383,#767676,#8b8b8b,#848484,#909090,#b5b5b5,#c0c0c0,#aeaeae,#8b8b8b,#7c7c7c,#868686,#808080,#6b6b6b,#acacac,#acacac)"></i><i style="background:linear-gradient(90deg,#d1d1d1,#d1d1d1,#747474,#7a7a7a,#818181,#9c9c9c,#898989,#969696,#afafaf,#979797,#999999,#828282,#9e9e9e,#949494,#898989,#787878,#7c7c7c,#808080,#959595,#a1a1a1,#727272,#838383,#8c8c8c,#b8b8b8,#8a8a8a,#848484,#989898,#797979,#949494,#737373,#aaaaaa,#8e8e8e,#808080,#767676,#838383,#8a8a8a,#848484,#a1a1a1,#868686,#8e8e8e,#939393,#a5a5a5,#848484,#8b8b8b,#949494,#969696,#6b6b6b,#9d9d9d,#8c8c8c,#808080,#898989,#686868,#7a7a7a,#909090,#a6a6a6,#959595,#b0b0b0,#b6b6b6,#bfbfbf,#909090,#939393,#838383,#767676,#737373,#868686,#868686)"></i><i style="background:linear-gradient(90deg,#ffffff,#ffffff,#d8d8d8,#8c8c8c,#7f7f7f,#999999,#989898,#8c8c8c,#b5b5b5,#a4a4a4,#a1a1a1,#8f8f8f,#939393,#9e9e9e,#767676,#7e7e7e,#8b8b8b,#747474,#adadad,#878787,#868686,#929292,#ababab,#919191,#7e7e7e,#7d7d7d,#939393,#868686,#bebebe,#a0a0a0,#555555,#777777,#929292,#b4b4b4,#686868,#838383,#9f9f9f,#838383,#8c8c8c,#848484,#969696,#7c7c7c,#898989,#727272,#9f9f9f,#9b9b9b,#8b8b8b,#929292,#909090,#858585,#909090,#909090,#888888,#838383,#858585,#8a8a8a,#a9a9a9,#c0c0c0,#e2e2e2,#9d9d9d,#8f8f8f,#808080,#8a8a8a,#818181,#9e9e9e,#9e9e9e)"></i><i style="background:linear-gradient(90deg,#cbcbcb,#cbcbcb,#bebebe,#7f7f7f,#808080,#8e8e8e,#999999,#a5a5a5,#878787,#8b8b8b,#828282,#7c7c7c,#808080,#787878,#959595,#9f9f9f,#888888,#838383,#a7a7a7,#8e8e8e,#a5a5a5,#595959,#868686,#797979,#838383,#9d9d9d,#a1a1a1,#8e8e8e,#a1a1a1,#7c7c7c,#8b8b8b,#888888,#717171,#9c9c9c,#7e7e7e,#8e8e8e,#7f7f7f,#8e8e8e,#979797,#8b8b8b,#848484,#959595,#919191,#848484,#8b8b8b,#8b8b8b,#838383,#a0a0a0,#adadad,#848484,#8b8b8b,#7a7a7a,#757575,#9f9f9f,#848484,#919191,#838383,#b0b0b0,#d5d5d5,#ababab,#939393,#949494,#929292,#9e9e9e,#c6c6c6,#c6c6c6)"></i><i style="background:linear-gradient(90deg,#d0d0d0,#d0d0d0,#9e9e9e,#7b7b7b,#848484,#8a8a8a,#aaaaaa,#757575,#7c7c7c,#7e7e7e,#9b9b9b,#808080,#686868,#656565,#919191,#727272,#a2a2a2,#a5a5a5,#7a7a7a,#868686,#909090,#6a6a6a,#727272,#7e7e7e,#8f8f8f,#919191,#6f6f6f,#8f8f8f,#8d8d8d,#848484,#838383,#a0a0a0,#a6a6a6,#868686,#848484,#6e6e6e,#838383,#999999,#8a8a8a,#909090,#8b8b8b,#8f8f8f,#999999,#999999,#676767,#828282,#555555,#8b8b8b,#848484,#848484,#ababab,#989898,#a0a0a0,#9d9d9d,#a8a8a8,#878787,#8c8c8c,#a6a6a6,#d7d7d7,#929292,#919191,#a6a6a6,#9e9e9e,#858585,#bbbbbb,#bbbbbb)"></i><i style="background:linear-gradient(90deg,#dfdfdf,#dfdfdf,#b9b9b9,#9f9f9f,#9d9d9d,#868686,#ababab,#838383,#919191,#a4a4a4,#8b8b8b,#8f8f8f,#8f8f8f,#909090,#999999,#6f6f6f,#888888,#b6b6b6,#6c6c6c,#828282,#9a9a9a,#6a6a6a,#767676,#7e7e7e,#ababab,#808080,#989898,#868686,#8a8a8a,#737373,#6b6b6b,#838383,#757575,#898989,#909090,#979797,#acacac,#a7a7a7,#777777,#7e7e7e,#a9a9a9,#8c8c8c,#878787,#a2a2a2,#808080,#9a9a9a,#848484,#a3a3a3,#8b8b8b,#9c9c9c,#a6a6a6,#aeaeae,#828282,#818181,#717171,#6a6a6a,#808080,#929292,#ababab,#898989,#aeaeae,#929292,#9e9e9e,#828282,#848484,#848484)"></i><i style="background:linear-gradient(90deg,#ffffff,#ffffff,#9e9e9e,#a2a2a2,#8b8b8b,#969696,#919191,#868686,#8c8c8c,#9f9f9f,#787878,#7e7e7e,#a2a2a2,#868686,#929292,#757575,#888888,#a9a9a9,#939393,#959595,#878787,#8a8a8a,#696969,#707070,#969696,#737373,#a8a8a8,#9d9d9d,#747474,#5d5d5d,#5d5d5d,#8d8d8d,#898989,#a7a7a7,#9d9d9d,#b0b0b0,#a2a2a2,#7e7e7e,#808080,#787878,#858585,#818181,#878787,#a7a7a7,#838383,#757575,#7d7d7d,#838383,#808080,#898989,#868686,#a6a6a6,#9c9c9c,#7e7e7e,#9c9c9c,#a2a2a2,#8b8b8b,#7e7e7e,#939393,#888888,#8f8f8f,#7b7b7b,#b0b0b0,#858585,#a2a2a2,#a2a2a2)"></i><i style="background:linear-gradient(90deg,#aeaeae,#aeaeae,#929292,#5d5d5d,#676767,#5c5c5c,#939393,#6b6b6b,#6a6a6a,#9c9c9c,#808080,#848484,#9e9e9e,#919191,#909090,#8f8f8f,#6a6a6a,#a5a5a5,#a6a6a6,#ababab,#636363,#747474,#7c7c7c,#a7a7a7,#999999,#a9a9a9,#959595,#7f7f7f,#6c6c6c,#7a7a7a,#9c9c9c,#787878,#646464,#8c8c8c,#a4a4a4,#bababa,#a4a4a4,#949494,#646464,#7c7c7c,#7e7e7e,#828282,#767676,#979797,#9c9c9c,#898989,#7f7f7f,#898989,#8c8c8c,#949494,#777777,#a1a1a1,#898989,#7f7f7f,#919191,#7b7b7b,#959595,#a8a8a8,#8e8e8e,#848484,#7c7c7c,#9b9b9b,#9a9a9a,#676767,#a7a7a7,#a7a7a7)"></i><i style="background:linear-gradient(90deg,#ffffff,#ffffff,#e8e8e8,#e3e3e3,#cacaca,#dedede,#e6e6e6,#acacac,#d1d1d1,#ececec,#dcdcdc,#e0e0e0,#bbbbbb,#a9a9a9,#c9c9c9,#c7c7c7,#ffffff,#fdfdfd,#f4f4f4,#ebebeb,#f8f8f8,#dfdfdf,#d0d0d0,#eeeeee,#e7e7e7,#e7e7e7,#ffffff,#ededed,#cacaca,#d7d7d7,#d7d7d7,#ededed,#e0e0e0,#f4f4f4,#d6d6d6,#dfdfdf,#e7e7e7,#fbfbfb,#dddddd,#ffffff,#f7f7f7,#c9c9c9,#ffffff,#eeeeee,#dfdfdf,#ffffff,#fefefe,#ffffff,#dddddd,#e8e8e8,#d2d2d2,#e1e1e1,#e7e7e7,#cbcbcb,#f2f2f2,#d5d5d5,#f0f0f0,#bababa,#c3c3c3,#dddddd,#e3e3e3,#bebebe,#eeeeee,#d0d0d0,#ffffff,#ffffff)"></i><i style="background:linear-gradient(90deg,#ffffff,#ffffff,#e8e8e8,#e3e3e3,#cacaca,#dedede,#e6e6e6,#acacac,#d1d1d1,#ececec,#dcdcdc,#e0e0e0,#bbbbbb,#a9a9a9,#c9c9c9,#c7c7c7,#ffffff,#fdfdfd,#f4f4f4,#ebebeb,#f8f8f8,#dfdfdf,#d0d0d0,#eeeeee,#e7e7e7,#e7e7e7,#ffffff,#ededed,#cacaca,#d7d7d7,#d7d7d7,#ededed,#e0e0e0,#f4f4f4,#d6d6d6,#dfdfdf,#e7e7e7,#fbfbfb,#dddddd,#ffffff,#f7f7f7,#c9c9c9,#ffffff,#eeeeee,#dfdfdf,#ffffff,#fefefe,#ffffff,#dddddd,#e8e8e8,#d2d2d2,#e1e1e1,#e7e7e7,#cbcbcb,#f2f2f2,#d5d5d5,#f0f0f0,#bababa,#c3c3c3,#dddddd,#e3e3e3,#bebebe,#eeeeee,#d0d0d0,#ffffff,#ffffff)"></i></div><div class="o" style="left:160px;top:52px;width:21px;height:21px;background:#fff"></div><div class="o" style="left:167px;top:45px;width:14px;height:11px;background:#fff"></div><div class="o" style="left:301px;top:144px;width:15px;height:15px;background:#fff"></div><div class="o" style="left:309px;top:152px;width:35px;height:14px;background:#fff"></div><div class="o" style="left:330px;top:162px;width:14px;height:11px;background:#fff"></div><div class="o" style="left:231px;top:31px;width:14px;height:14px;background:#fff"></div><div class="o" style="left:131px;top:116px;width:14px;height:14px;background:#fff"></div><div class="o" style="left:82px;top:137px;width:14px;height:15px;background:#fff"></div><div class="o" style="left:238px;top:201px;width:14px;height:14px;background:#fff"></div><div class="o" style="left:330px;top:180px;width:14px;height:14px;background:#fff"></div><div class="o" style="left:153px;top:308px;width:14px;height:14px;background:#fff"></div><div class="o" style="left:344px;top:322px;width:14px;height:14px;background:#fff"></div><div class="o" style="left:96px;top:442px;width:14px;height:12px;background:#fff"></div><div class="o" style="left:174px;top:442px;width:14px;height:12px;background:#fff"></div><div class="o" style="left:273px;top:442px;width:14px;height:12px;background:#fff"></div></div>
<div class="p" style="left:1206px"><div class="g" style="filter:url(#c2)"><i style="background:linear-gradient(90deg,#737373,#737373,#a0a0a0,#797979,#e6e6e6,#f3f3f3,#919191,#bcbcbc,#858585,#6e6e6e,#4c4c4c,#a8a8a8,#777777,#9f9f9f,#dadada,#969696,#848484,#8a8a8a,#ffffff,#a9a9a9,#a3a3a3,#656565,#b0b0b0,#7e7e7e,#6a6a6a,#8a8a8a,#6d6d6d,#cfcfcf,#696969,#c1c1c1,#797979,#9a9a9a,#acacac,#999999,#8f8f8f,#ebebeb,#b1b1b1,#aeaeae,#a8a8a8,#898989,#868686,#bababa,#171717,#a3a3a3,#dbdbdb,#636363,#bbbbbb,#979797,#9a9a9a,#9e9e9e,#939393,#929292,#757575,#8a8a8a,#7d7d7d,#9a9a9a,#ababab,#a1a1a1,#b5b5b5,#595959,#717171,#717171,#aeaeae,#777777,#595959,#595959)"></i><i style="background:linear-gradient(90deg,#737373,#737373,#a0a0a0,#797979,#e6e6e6,#f3f3f3,#919191,#bcbcbc,#858585,#6e6e6e,#4c4c4c,#a8a8a8,#777777,#9f9f9f,#dadada,#969696,#848484,#8a8a8a,#ffffff,#a9a9a9,#a3a3a3,#656565,#b0b0b0,#7e7e7e,#6a6a6a,#8a8a8a,#6d6d6d,#cfcfcf,#696969,#c1c1c1,#797979,#9a9a9a,#acacac,#999999,#8f8f8f,#ebebeb,#b1b1b1,#aeaeae,#a8a8a8,#898989,#868686,#bababa,#171717,#a3a3a3,#dbdbdb,#636363,#bbbbbb,#979797,#9a9a9a,#9e9e9e,#939393,#929292,#757575,#8a8a8a,#7d7d7d,#9a9a9a,#ababab,#a1a1a1,#b5b5b5,#595959,#717171,#717171,#aeaeae,#777777,#595959,#595959)"></i><i style="background:linear-gradient(90deg,#949494,#949494,#7e7e7e,#808080,#959595,#acacac,#878787,#a7a7a7,#aaaaaa,#7a7a7a,#f3f3f3,#dcdcdc,#b9b9b9,#a0a0a0,#aeaeae,#989898,#b0b0b0,#808080,#a6a6a6,#b1b1b1,#727272,#979797,#a0a0a0,#c2c2c2,#d7d7d7,#868686,#8f8f8f,#b0b0b0,#9e9e9e,#ababab,#9a9a9a,#989898,#bababa,#888888,#9f9f9f,#727272,#727272,#727272,#bebebe,#f8f8f8,#9f9f9f,#a8a8a8,#878787,#9d9d9d,#828282,#adadad,#838383,#aeaeae,#727272,#d6d6d6,#9b9b9b,#ababab,#a8a8a8,#a5a5a5,#707070,#c4c4c4,#9e9e9e,#b4b4b4,#cdcdcd,#9a9a9a,#e0e0e0,#969696,#858585,#c0c0c0,#a3a3a3,#a3a3a3)"></i><i style="background:linear-gradient(90deg,#8c8c8c,#8c8c8c,#a4a4a4,#b1b1b1,#c4c4c4,#8f8f8f,#898989,#aaaaaa,#acacac,#9d9d9d,#8f8f8f,#cccccc,#bfbfbf,#808080,#878787,#bababa,#c7c7c7,#787878,#7c7c7c,#a9a9a9,#b2b2b2,#c8c8c8,#828282,#9d9d9d,#a7a7a7,#aeaeae,#d9d9d9,#989898,#bfbfbf,#979797,#b9b9b9,#828282,#9f9f9f,#a8a8a8,#8f8f8f,#8f8f8f,#bebebe,#b2b2b2,#8b8b8b,#939393,#7c7c7c,#7c7c7c,#979797,#bababa,#c0c0c0,#aaaaaa,#6c6c6c,#939393,#757575,#ababab,#9e9e9e,#9e9e9e,#828282,#999999,#9c9c9c,#949494,#ababab,#7d7d7d,#c9c9c9,#cccccc,#7d7d7d,#767676,#f3f3f3,#e2e2e2,#a7a7a7,#a7a7a7)"></i><i style="background:linear-gradient(90deg,#6e6e6e,#6e6e6e,#cfcfcf,#b7b7b7,#8c8c8c,#4a4a4a,#c1c1c1,#838383,#9b9b9b,#ababab,#bcbcbc,#939393,#afafaf,#9a9a9a,#9f9f9f,#a3a3a3,#8a8a8a,#909090,#898989,#737373,#747474,#8a8a8a,#b7b7b7,#656565,#c2c2c2,#ababab,#7b7b7b,#727272,#989898,#ababab,#b8b8b8,#767676,#a4a4a4,#bdbdbd,#7c7c7c,#a4a4a4,#dfdfdf,#7c7c7c,#b2b2b2,#9a9a9a,#aaaaaa,#a3a3a3,#aaaaaa,#9c9c9c,#cbcbcb,#959595,#b5b5b5,#7b7b7b,#b7b7b7,#959595,#7c7c7c,#858585,#919191,#929292,#7b7b7b,#686868,#7e7e7e,#7e7e7e,#7f7f7f,#707070,#c0c0c0,#8d8d8d,#838383,#767676,#6b6b6b,#6b6b6b)"></i><i style="background:linear-gradient(90deg,#e7e7e7,#e7e7e7,#9b9b9b,#a5a5a5,#9b9b9b,#9a9a9a,#828282,#9b9b9b,#8c8c8c,#878787,#c8c8c8,#adadad,#a2a2a2,#6a6a6a,#adadad,#a6a6a6,#797979,#cbcbcb,#adadad,#d3d3d3,#848484,#a7a7a7,#6d6d6d,#a0a0a0,#c4c4c4,#aeaeae,#888888,#898989,#b3b3b3,#a4a4a4,#c2c2c2,#7e7e7e,#838383,#4b4b4b,#9e9e9e,#929292,#717171,#848484,#a4a4a4,#b6b6b6,#c0c0c0,#ababab,#737373,#5f5f5f,#c2c2c2,#939393,#959595,#afafaf,#959595,#989898,#afafaf,#a7a7a7,#818181,#808080,#959595,#959595,#747474,#b2b2b2,#aeaeae,#cccccc,#9e9e9e,#999999,#898989,#b5b5b5,#ffffff,#ffffff)"></i><i style="background:linear-gradient(90deg,#b7b7b7,#b7b7b7,#878787,#d7d7d7,#f3f3f3,#848484,#919191,#9b9b9b,#878787,#dadada,#757575,#9b9b9b,#a6a6a6,#a5a5a5,#888888,#9a9a9a,#909090,#595959,#a7a7a7,#a0a0a0,#afafaf,#b3b3b3,#6d6d6d,#dbdbdb,#969696,#a1a1a1,#868686,#b3b3b3,#8f8f8f,#a9a9a9,#838383,#b9b9b9,#929292,#d5d5d5,#b1b1b1,#8e8e8e,#8c8c8c,#8a8a8a,#8f8f8f,#717171,#b1b1b1,#dadada,#4c4c4c,#969696,#aaaaaa,#9a9a9a,#9b9b9b,#7d7d7d,#d4d4d4,#9f9f9f,#d4d4d4,#6e6e6e,#aeaeae,#959595,#c2c2c2,#949494,#808080,#9a9a9a,#aaaaaa,#9c9c9c,#adadad,#aaaaaa,#bebebe,#b9b9b9,#a0a0a0,#a0a0a0)"></i><i style="background:linear-gradient(90deg,#262626,#262626,#8e8e8e,#545454,#bdbdbd,#929292,#5d5d5d,#acacac,#e2e2e2,#aaaaaa,#888888,#a9a9a9,#737373,#cecece,#929292,#999999,#bdbdbd,#9a9a9a,#b0b0b0,#4f4f4f,#636363,#c0c0c0,#8e8e8e,#7e7e7e,#969696,#9e9e9e,#b9b9b9,#d6d6d6,#c4c4c4,#cecece,#737373,#8b8b8b,#7f7f7f,#c8c8c8,#a0a0a0,#d7d7d7,#848484,#b9b9b9,#c3c3c3,#a1a1a1,#535353,#f0f0f0,#c8c8c8,#9c9c9c,#929292,#858585,#c8c8c8,#cbcbcb,#bcbcbc,#cbcbcb,#c6c6c6,#999999,#969696,#737373,#dedede,#717171,#959595,#838383,#979797,#acacac,#838383,#b7b7b7,#c1c1c1,#9f9f9f,#b2b2b2,#b2b2b2)"></i><i style="background:linear-gradient(90deg,#f0f0f0,#f0f0f0,#838383,#858585,#6a6a6a,#888888,#616161,#969696,#b8b8b8,#bebebe,#bebebe,#848484,#b5b5b5,#999999,#d8d8d8,#9a9a9a,#9b9b9b,#696969,#878787,#d8d8d8,#5a5a5a,#989898,#8f8f8f,#9a9a9a,#c1c1c1,#939393,#707070,#9e9e9e,#b3b3b3,#d7d7d7,#c6c6c6,#a9a9a9,#7c7c7c,#828282,#848484,#a7a7a7,#acacac,#a4a4a4,#a9a9a9,#888888,#b1b1b1,#b5b5b5,#d1d1d1,#858585,#afafaf,#a3a3a3,#8a8a8a,#909090,#bfbfbf,#b1b1b1,#6c6c6c,#d1d1d1,#c1c1c1,#8d8d8d,#c8c8c8,#828282,#b9b9b9,#8f8f8f,#909090,#939393,#b8b8b8,#7d7d7d,#c3c3c3,#adadad,#4d4d4d,#4d4d4d)"></i><i style="background:linear-gradient(90deg,#acacac,#acacac,#c1c1c1,#a9a9a9,#606060,#959595,#a5a5a5,#dadada,#979797,#828282,#909090,#e9e9e9,#747474,#6e6e6e,#585858,#b7b7b7,#cecece,#b0b0b0,#ececec,#b4b4b4,#c7c7c7,#898989,#c2c2c2,#818181,#939393,#929292,#a2a2a2,#6b6b6b,#d9d9d9,#dfdfdf,#959595,#8c8c8c,#979797,#909090,#c0c0c0,#b5b5b5,#6b6b6b,#959595,#c3c3c3,#585858,#818181,#8b8b8b,#818181,#999999,#8c8c8c,#bcbcbc,#ababab,#cfcfcf,#050505,#a3a3a3,#aaaaaa,#aaaaaa,#636363,#8a8a8a,#b0b0b0,#a6a6a6,#6e6e6e,#ababab,#a4a4a4,#bbbbbb,#a7a7a7,#7f7f7f,#7a7a7a,#dadada,#7d7d7d,#7d7d7d)"></i><i style="background:linear-gradient(90deg,#262626,#262626,#acacac,#ababab,#b0b0b0,#838383,#cccccc,#9d9d9d,#7c7c7c,#a6a6a6,#5e5e5e,#acacac,#919191,#a5a5a5,#7c7c7c,#9c9c9c,#808080,#6d6d6d,#757575,#b9b9b9,#bbbbbb,#898989,#b2b2b2,#9d9d9d,#7d7d7d,#bbbbbb,#8f8f8f,#888888,#7a7a7a,#989898,#b3b3b3,#9d9d9d,#bababa,#828282,#acacac,#6d6d6d,#c2c2c2,#676767,#a9a9a9,#acacac,#656565,#969696,#adadad,#d3d3d3,#888888,#858585,#797979,#989898,#b4b4b4,#a7a7a7,#9a9a9a,#a3a3a3,#9c9c9c,#aaaaaa,#b7b7b7,#bababa,#b6b6b6,#838383,#7f7f7f,#909090,#7c7c7c,#a8a8a8,#8a8a8a,#828282,#d0d0d0,#d0d0d0)"></i><i style="background:linear-gradient(90deg,#969696,#969696,#b4b4b4,#a0a0a0,#787878,#5d5d5d,#878787,#d1d1d1,#a1a1a1,#b4b4b4,#b9b9b9,#e0e0e0,#8f8f8f,#787878,#bdbdbd,#999999,#4c4c4c,#e6e6e6,#bababa,#777777,#515151,#a7a7a7,#a6a6a6,#6d6d6d,#9c9c9c,#bdbdbd,#989898,#aeaeae,#c2c2c2,#7f7f7f,#979797,#a5a5a5,#cbcbcb,#ababab,#9c9c9c,#9f9f9f,#bfbfbf,#a9a9a9,#bfbfbf,#ababab,#aaaaaa,#929292,#a6a6a6,#a3a3a3,#c6c6c6,#b2b2b2,#787878,#aaaaaa,#7a7a7a,#757575,#949494,#dadada,#dcdcdc,#adadad,#8b8b8b,#828282,#858585,#888888,#9c9c9c,#aaaaaa,#898989,#c8c8c8,#9a9a9a,#646464,#919191,#919191)"></i><i style="background:linear-gradient(90deg,#676767,#676767,#777777,#a9a9a9,#8f8f8f,#b1b1b1,#c9c9c9,#5e5e5e,#9b9b9b,#a4a4a4,#b9b9b9,#bdbdbd,#a0a0a0,#c8c8c8,#949494,#a9a9a9,#919191,#9f9f9f,#a1a1a1,#c8c8c8,#cecece,#c0c0c0,#8e8e8e,#8d8d8d,#bfbfbf,#404040,#adadad,#606060,#a9a9a9,#919191,#979797,#d0d0d0,#6e6e6e,#c5c5c5,#969696,#a7a7a7,#848484,#9b9b9b,#999999,#cfcfcf,#828282,#696969,#797979,#666666,#6e6e6e,#7b7b7b,#b2b2b2,#afafaf,#9b9b9b,#b0b0b0,#595959,#bcbcbc,#a1a1a1,#a9a9a9,#979797,#a7a7a7,#bfbfbf,#e6e6e6,#898989,#8f8f8f,#7d7d7d,#7d7d7d,#8a8a8a,#a8a8a8,#989898,#989898)"></i><i style="background:linear-gradient(90deg,#b3b3b3,#b3b3b3,#9c9c9c,#919191,#ececec,#cbcbcb,#ababab,#bebebe,#6c6c6c,#8a8a8a,#a1a1a1,#8d8d8d,#cdcdcd,#b7b7b7,#a8a8a8,#5e5e5e,#777777,#797979,#a2a2a2,#c3c3c3,#898989,#919191,#8a8a8a,#b5b5b5,#898989,#7d7d7d,#717171,#a4a4a4,#b2b2b2,#989898,#929292,#cecece,#a0a0a0,#a8a8a8,#c6c6c6,#8d8d8d,#898989,#a2a2a2,#c2c2c2,#8a8a8a,#606060,#888888,#b8b8b8,#858585,#b0b0b0,#9f9f9f,#e4e4e4,#616161,#858585,#b9b9b9,#bebebe,#dedede,#8c8c8c,#b9b9b9,#838383,#909090,#888888,#aaaaaa,#757575,#bbbbbb,#8e8e8e,#999999,#969696,#d0d0d0,#959595,#959595)"></i><i style="background:linear-gradient(90deg,#848484,#848484,#9c9c9c,#8f8f8f,#8b8b8b,#a4a4a4,#747474,#888888,#b8b8b8,#7b7b7b,#969696,#b2b2b2,#aaaaaa,#b4b4b4,#a7a7a7,#b1b1b1,#717171,#7f7f7f,#8e8e8e,#9c9c9c,#8d8d8d,#8f8f8f,#6b6b6b,#cecece,#aeaeae,#a8a8a8,#808080,#828282,#797979,#676767,#acacac,#5b5b5b,#969696,#b4b4b4,#969696,#bcbcbc,#b4b4b4,#757575,#a4a4a4,#c5c5c5,#d3d3d3,#7b7b7b,#c6c6c6,#8d8d8d,#d2d2d2,#b8b8b8,#b6b6b6,#818181,#acacac,#a8a8a8,#d0d0d0,#a6a6a6,#a9a9a9,#858585,#a3a3a3,#bcbcbc,#fdfdfd,#828282,#8b8b8b,#6d6d6d,#7e7e7e,#737373,#767676,#afafaf,#b3b3b3,#b3b3b3)"></i><i style="background:linear-gradient(90deg,#7b7b7b,#7b7b7b,#888888,#585858,#9f9f9f,#aeaeae,#939393,#6b6b6b,#d0d0d0,#c3c3c3,#7a7a7a,#8f8f8f,#8d8d8d,#b3b3b3,#b5b5b5,#bbbbbb,#a2a2a2,#6e6e6e,#767676,#666666,#6f6f6f,#555555,#9a9a9a,#7f7f7f,#707070,#c3c3c3,#939393,#c3c3c3,#a4a4a4,#595959,#aeaeae,#7d7d7d,#919191,#b4b4b4,#767676,#a4a4a4,#8c8c8c,#757575,#c7c7c7,#757575,#818181,#8d8d8d,#9d9d9d,#939393,#898989,#595959,#c2c2c2,#9b9b9b,#a1a1a1,#919191,#aaaaaa,#7f7f7f,#dddddd,#e6e6e6,#7f7f7f,#969696,#c0c0c0,#a8a8a8,#868686,#878787,#828282,#b5b5b5,#c8c8c8,#7e7e7e,#adadad,#adadad)"></i><i style="background:linear-gradient(90deg,#6f6f6f,#6f6f6f,#8f8f8f,#949494,#ababab,#9c9c9c,#9d9d9d,#acacac,#757575,#c6c6c6,#949494,#a2a2a2,#787878,#b0b0b0,#e6e6e6,#7d7d7d,#b7b7b7,#929292,#dfdfdf,#b6b6b6,#8c8c8c,#bfbfbf,#a3a3a3,#b2b2b2,#d7d7d7,#acacac,#b4b4b4,#a7a7a7,#a2a2a2,#797979,#9b9b9b,#b2b2b2,#cccccc,#9a9a9a,#bbbbbb,#626262,#939393,#878787,#aeaeae,#b0b0b0,#a7a7a7,#959595,#979797,#a6a6a6,#9c9c9c,#7f7f7f,#7d7d7d,#7e7e7e,#818181,#7b7b7b,#efefef,#8c8c8c,#7c7c7c,#3d3d3d,#999999,#999999,#4e4e4e,#9b9b9b,#d4d4d4,#838383,#9a9a9a,#919191,#a8a8a8,#969696,#d3d3d3,#d3d3d3)"></i><i style="background:linear-gradient(90deg,#b0b0b0,#b0b0b0,#bbbbbb,#858585,#939393,#c4c4c4,#8b8b8b,#a1a1a1,#878787,#808080,#cacaca,#666666,#626262,#adadad,#a9a9a9,#7f7f7f,#bababa,#9a9a9a,#9a9a9a,#747474,#b2b2b2,#676767,#969696,#b4b4b4,#6d6d6d,#7a7a7a,#969696,#838383,#dfdfdf,#949494,#cbcbcb,#a3a3a3,#9b9b9b,#8d8d8d,#bdbdbd,#afafaf,#727272,#888888,#c4c4c4,#979797,#a3a3a3,#a2a2a2,#9b9b9b,#acacac,#b0b0b0,#b4b4b4,#b6b6b6,#434343,#7a7a7a,#b4b4b4,#7d7d7d,#626262,#949494,#bdbdbd,#6d6d6d,#bfbfbf,#b1b1b1,#bbbbbb,#9d9d9d,#b1b1b1,#b8b8b8,#a9a9a9,#898989,#adadad,#575757,#575757)"></i><i style="background:linear-gradient(90deg,#7d7d7d,#7d7d7d,#b2b2b2,#c3c3c3,#8b8b8b,#a0a0a0,#979797,#878787,#b2b2b2,#858585,#cbcbcb,#aeaeae,#cdcdcd,#8e8e8e,#959595,#afafaf,#6b6b6b,#8f8f8f,#989898,#c1c1c1,#b9b9b9,#a8a8a8,#b5b5b5,#8e8e8e,#7c7c7c,#888888,#a7a7a7,#a9a9a9,#b8b8b8,#a0a0a0,#727272,#979797,#979797,#9c9c9c,#bcbcbc,#787878,#8f8f8f,#848484,#cccccc,#aaaaaa,#d0d0d0,#afafaf,#c9c9c9,#b1b1b1,#929292,#909090,#989898,#888888,#6f6f6f,#acacac,#8b8b8b,#4b4b4b,#8c8c8c,#999999,#b1b1b1,#777777,#808080,#878787,#b7b7b7,#8c8c8c,#717171,#828282,#858585,#999999,#959595,#959595)"></i><i style="background:linear-gradient(90deg,#595959,#595959,#9a9a9a,#c9c9c9,#616161,#d9d9d9,#666666,#9b9b9b,#9d9d9d,#bcbcbc,#a7a7a7,#d2d2d2,#9d9d9d,#6e6e6e,#a1a1a1,#c3c3c3,#bababa,#343434,#b3b3b3,#bebebe,#a0a0a0,#8e8e8e,#848484,#9d9d9d,#b9b9b9,#8f8f8f,#919191,#9a9a9a,#aeaeae,#878787,#878787,#939393,#c2c2c2,#a5a5a5,#949494,#969696,#959595,#626262,#b4b4b4,#6e6e6e,#939393,#929292,#9d9d9d,#a0a0a0,#777777,#a1a1a1,#d3d3d3,#969696,#6f6f6f,#969696,#c4c4c4,#bcbcbc,#939393,#969696,#a1a1a1,#9b9b9b,#b3b3b3,#999999,#848484,#cfcfcf,#9c9c9c,#a9a9a9,#959595,#bfbfbf,#929292,#929292)"></i><i style="background:linear-gradient(90deg,#979797,#979797,#dadada,#808080,#a1a1a1,#595959,#f4f4f4,#929292,#969696,#999999,#afafaf,#797979,#a4a4a4,#595959,#d9d9d9,#a8a8a8,#a1a1a1,#979797,#959595,#838383,#a9a9a9,#c7c7c7,#6c6c6c,#6f6f6f,#535353,#a6a6a6,#a3a3a3,#9a9a9a,#a1a1a1,#b9b9b9,#b4b4b4,#b8b8b8,#727272,#727272,#b8b8b8,#999999,#dddddd,#565656,#7c7c7c,#b8b8b8,#909090,#c1c1c1,#9a9a9a,#b0b0b0,#9a9a9a,#474747,#929292,#8f8f8f,#c9c9c9,#aeaeae,#acacac,#9c9c9c,#969696,#bbbbbb,#878787,#7d7d7d,#a3a3a3,#a6a6a6,#b9b9b9,#959595,#9e9e9e,#c8c8c8,#989898,#7c7c7c,#8a8a8a,#8a8a8a)"></i><i style="background:linear-gradient(90deg,#aeaeae,#aeaeae,#575757,#b9b9b9,#5c5c5c,#939393,#909090,#707070,#828282,#747474,#6d6d6d,#e9e9e9,#9d9d9d,#8f8f8f,#818181,#9c9c9c,#c9c9c9,#b6b6b6,#868686,#b6b6b6,#bababa,#a8a8a8,#a5a5a5,#8c8c8c,#727272,#818181,#646464,#9c9c9c,#838383,#6c6c6c,#b0b0b0,#646464,#a5a5a5,#a6a6a6,#e9e9e9,#7f7f7f,#989898,#9e9e9e,#909090,#ababab,#878787,#b5b5b5,#b4b4b4,#aaaaaa,#909090,#9c9c9c,#a4a4a4,#bdbdbd,#a0a0a0,#aaaaaa,#a8a8a8,#b4b4b4,#7a7a7a,#dedede,#adadad,#767676,#b5b5b5,#696969,#929292,#bcbcbc,#7a7a7a,#999999,#767676,#676767,#b2b2b2,#b2b2b2)"></i><i style="background:linear-gradient(90deg,#a5a5a5,#a5a5a5,#9f9f9f,#323232,#a9a9a9,#c3c3c3,#acacac,#909090,#909090,#b5b5b5,#a6a6a6,#959595,#a2a2a2,#9e9e9e,#767676,#c1c1c1,#c6c6c6,#adadad,#8b8b8b,#b2b2b2,#cecece,#828282,#b9b9b9,#828282,#9e9e9e,#7e7e7e,#7f7f7f,#919191,#5e5e5e,#c9c9c9,#bfbfbf,#ababab,#a5a5a5,#999999,#808080,#b8b8b8,#959595,#707070,#7d7d7d,#8e8e8e,#9e9e9e,#b7b7b7,#939393,#7d7d7d,#969696,#6e6e6e,#6c6c6c,#b6b6b6,#969696,#b7b7b7,#bebebe,#b7b7b7,#a7a7a7,#6d6d6d,#9a9a9a,#979797,#909090,#898989,#f5f5f5,#aaaaaa,#959595,#a0a0a0,#adadad,#c4c4c4,#8b8b8b,#8b8b8b)"></i><i style="background:linear-gradient(90deg,#e6e6e6,#e6e6e6,#cecece,#9a9a9a,#7f7f7f,#7b7b7b,#7c7c7c,#888888,#acacac,#dcdcdc,#bfbfbf,#696969,#bababa,#acacac,#838383,#303030,#a5a5a5,#fafafa,#929292,#bababa,#d9d9d9,#a1a1a1,#c6c6c6,#585858,#9b9b9b,#a1a1a1,#bcbcbc,#8b8b8b,#b7b7b7,#8c8c8c,#a5a5a5,#9e9e9e,#b9b9b9,#7a7a7a,#818181,#848484,#848484,#f9f9f9,#9d9d9d,#707070,#858585,#f8f8f8,#c5c5c5,#969696,#7b7b7b,#696969,#b2b2b2,#b0b0b0,#8a8a8a,#8b8b8b,#a9a9a9,#bababa,#747474,#828282,#b6b6b6,#777777,#d6d6d6,#8d8d8d,#cbcbcb,#bebebe,#7d7d7d,#949494,#898989,#ffffff,#d1d1d1,#d1d1d1)"></i><i style="background:linear-gradient(90deg,#898989,#898989,#a3a3a3,#959595,#767676,#c0c0c0,#a8a8a8,#afafaf,#adadad,#a1a1a1,#939393,#cacaca,#a2a2a2,#adadad,#a7a7a7,#6e6e6e,#898989,#a7a7a7,#616161,#949494,#7f7f7f,#a5a5a5,#c0c0c0,#878787,#b8b8b8,#949494,#b1b1b1,#8b8b8b,#b1b1b1,#cdcdcd,#a8a8a8,#aeaeae,#7d7d7d,#bcbcbc,#989898,#d0d0d0,#9a9a9a,#a6a6a6,#878787,#a3a3a3,#9c9c9c,#777777,#e7e7e7,#8d8d8d,#ababab,#696969,#9e9e9e,#919191,#565656,#848484,#d4d4d4,#919191,#cdcdcd,#a3a3a3,#898989,#939393,#757575,#9d9d9d,#a2a2a2,#9c9c9c,#bebebe,#8c8c8c,#a1a1a1,#a0a0a0,#898989,#898989)"></i><i style="background:linear-gradient(90deg,#e4e4e4,#e4e4e4,#7f7f7f,#a6a6a6,#ababab,#8f8f8f,#919191,#7e7e7e,#dedede,#969696,#8d8d8d,#727272,#b3b3b3,#b2b2b2,#a6a6a6,#858585,#9d9d9d,#9d9d9d,#8a8a8a,#b9b9b9,#ababab,#848484,#c1c1c1,#9b9b9b,#4b4b4b,#838383,#bebebe,#a8a8a8,#bcbcbc,#b1b1b1,#c1c1c1,#8f8f8f,#acacac,#c0c0c0,#919191,#6f6f6f,#949494,#969696,#a7a7a7,#bbbbbb,#e8e8e8,#808080,#909090,#a1a1a1,#858585,#9d9d9d,#9b9b9b,#b5b5b5,#828282,#7c7c7c,#c6c6c6,#9d9d9d,#bababa,#878787,#979797,#8c8c8c,#9d9d9d,#757575,#808080,#797979,#afafaf,#949494,#ababab,#7e7e7e,#979797,#979797)"></i><i style="background:linear-gradient(90deg,#aeaeae,#aeaeae,#d5d5d5,#a5a5a5,#959595,#afafaf,#c0c0c0,#949494,#8d8d8d,#d5d5d5,#929292,#959595,#989898,#b7b7b7,#7c7c7c,#ababab,#9a9a9a,#c6c6c6,#cbcbcb,#a9a9a9,#727272,#868686,#aaaaaa,#a6a6a6,#a9a9a9,#838383,#929292,#7a7a7a,#727272,#6d6d6d,#b6b6b6,#898989,#989898,#777777,#a5a5a5,#9a9a9a,#6e6e6e,#616161,#959595,#dcdcdc,#b1b1b1,#a2a2a2,#b2b2b2,#a8a8a8,#7c7c7c,#b3b3b3,#a6a6a6,#c5c5c5,#979797,#c4c4c4,#5c5c5c,#646464,#919191,#a4a4a4,#c3c3c3,#929292,#d6d6d6,#5a5a5a,#a7a7a7,#acacac,#c9c9c9,#c9c9c9,#747474,#9e9e9e,#a0a0a0,#a0a0a0)"></i><i style="background:linear-gradient(90deg,#6f6f6f,#6f6f6f,#6e6e6e,#888888,#8f8f8f,#acacac,#878787,#737373,#8b8b8b,#686868,#d4d4d4,#969696,#8f8f8f,#979797,#767676,#adadad,#a2a2a2,#b1b1b1,#969696,#aeaeae,#7f7f7f,#a1a1a1,#b5b5b5,#c3c3c3,#8e8e8e,#919191,#646464,#737373,#a2a2a2,#8f8f8f,#ababab,#c6c6c6,#ababab,#bbbbbb,#686868,#9d9d9d,#949494,#949494,#838383,#b1b1b1,#c6c6c6,#7f7f7f,#7b7b7b,#b4b4b4,#c5c5c5,#dfdfdf,#929292,#b0b0b0,#d0d0d0,#8d8d8d,#939393,#9b9b9b,#b5b5b5,#909090,#a1a1a1,#848484,#7c7c7c,#b3b3b3,#747474,#c4c4c4,#b3b3b3,#b0b0b0,#ababab,#b2b2b2,#636363,#636363)"></i><i style="background:linear-gradient(90deg,#6e6e6e,#6e6e6e,#8b8b8b,#a1a1a1,#aaaaaa,#9a9a9a,#bebebe,#646464,#dbdbdb,#9b9b9b,#878787,#929292,#cccccc,#b5b5b5,#717171,#8c8c8c,#afafaf,#a3a3a3,#d0d0d0,#a1a1a1,#a8a8a8,#a5a5a5,#afafaf,#8e8e8e,#bebebe,#818181,#a9a9a9,#898989,#bababa,#a4a4a4,#dcdcdc,#9d9d9d,#cecece,#8f8f8f,#cacaca,#a5a5a5,#7c7c7c,#848484,#c0c0c0,#717171,#b3b3b3,#8d8d8d,#aaaaaa,#989898,#7e7e7e,#b1b1b1,#b8b8b8,#9e9e9e,#a3a3a3,#a0a0a0,#c1c1c1,#ffffff,#5f5f5f,#a5a5a5,#cccccc,#919191,#818181,#757575,#ababab,#989898,#b7b7b7,#8e8e8e,#a3a3a3,#787878,#767676,#767676)"></i><i style="background:linear-gradient(90deg,#e6e6e6,#e6e6e6,#7c7c7c,#5f5f5f,#686868,#d0d0d0,#b7b7b7,#b6b6b6,#7e7e7e,#7e7e7e,#aaaaaa,#696969,#cbcbcb,#818181,#d5d5d5,#9d9d9d,#a5a5a5,#a9a9a9,#9e9e9e,#8a8a8a,#a8a8a8,#dedede,#b9b9b9,#929292,#a0a0a0,#898989,#c7c7c7,#8b8b8b,#c6c6c6,#969696,#b3b3b3,#b4b4b4,#a7a7a7,#b0b0b0,#a2a2a2,#717171,#929292,#b8b8b8,#e1e1e1,#969696,#626262,#7a7a7a,#d2d2d2,#898989,#c1c1c1,#b4b4b4,#d3d3d3,#dfdfdf,#a8a8a8,#dddddd,#afafaf,#9e9e9e,#a9a9a9,#7b7b7b,#8c8c8c,#868686,#ababab,#9d9d9d,#545454,#ffffff,#cbcbcb,#4e4e4e,#b8b8b8,#777777,#808080,#808080)"></i><i style="background:linear-gradient(90deg,#919191,#919191,#e1e1e1,#a9a9a9,#bebebe,#a4a4a4,#ffffff,#aaaaaa,#b9b9b9,#848484,#aaaaaa,#bbbbbb,#aaaaaa,#898989,#404040,#8a8a8a,#989898,#b7b7b7,#999999,#7b7b7b,#979797,#959595,#979797,#7b7b7b,#8c8c8c,#b4b4b4,#787878,#777777,#9d9d9d,#bebebe,#b8b8b8,#afafaf,#555555,#8d8d8d,#5e5e5e,#737373,#939393,#b2b2b2,#ffffff,#8a8a8a,#969696,#969696,#9c9c9c,#a6a6a6,#b8b8b8,#a7a7a7,#888888,#c0c0c0,#ababab,#dbdbdb,#bcbcbc,#9b9b9b,#575757,#ffffff,#676767,#818181,#e2e2e2,#999999,#b2b2b2,#bfbfbf,#5b5b5b,#b7b7b7,#515151,#a8a8a8,#c5c5c5,#c5c5c5)"></i><i style="background:linear-gradient(90deg,#c0c0c0,#c0c0c0,#a9a9a9,#777777,#aeaeae,#898989,#9a9a9a,#d0d0d0,#bbbbbb,#a3a3a3,#838383,#b2b2b2,#7a7a7a,#7f7f7f,#959595,#646464,#c7c7c7,#999999,#a0a0a0,#d6d6d6,#9c9c9c,#dedede,#a9a9a9,#6b6b6b,#b9b9b9,#717171,#c2c2c2,#bfbfbf,#767676,#a2a2a2,#a8a8a8,#929292,#797979,#979797,#e1e1e1,#878787,#656565,#888888,#9a9a9a,#d2d2d2,#858585,#ababab,#757575,#666666,#909090,#707070,#c2c2c2,#a8a8a8,#f2f2f2,#afafaf,#8a8a8a,#cfcfcf,#ababab,#c0c0c0,#a5a5a5,#777777,#818181,#9b9b9b,#8d8d8d,#979797,#454545,#939393,#7a7a7a,#a3a3a3,#a0a0a0,#a0a0a0)"></i><i style="background:linear-gradient(90deg,#858585,#858585,#9e9e9e,#b0b0b0,#838383,#9d9d9d,#4f4f4f,#b4b4b4,#9d9d9d,#8a8a8a,#b5b5b5,#d2d2d2,#909090,#a8a8a8,#f2f2f2,#686868,#7d7d7d,#b6b6b6,#ababab,#8a8a8a,#c1c1c1,#a6a6a6,#e7e7e7,#898989,#8b8b8b,#9a9a9a,#8d8d8d,#a4a4a4,#b1b1b1,#828282,#606060,#878787,#858585,#949494,#a3a3a3,#989898,#b5b5b5,#8f8f8f,#6a6a6a,#d1d1d1,#c2c2c2,#949494,#b0b0b0,#545454,#909090,#5f5f5f,#acacac,#8d8d8d,#a9a9a9,#919191,#757575,#979797,#797979,#a9a9a9,#a1a1a1,#7b7b7b,#dbdbdb,#808080,#9c9c9c,#747474,#595959,#848484,#dddddd,#a6a6a6,#a6a6a6,#a6a6a6)"></i><i style="background:linear-gradient(90deg,#d6d6d6,#d6d6d6,#b4b4b4,#909090,#6f6f6f,#bababa,#c7c7c7,#acacac,#8d8d8d,#a0a0a0,#979797,#9a9a9a,#9c9c9c,#939393,#afafaf,#8b8b8b,#717171,#ababab,#a0a0a0,#b5b5b5,#747474,#9f9f9f,#b9b9b9,#898989,#808080,#8b8b8b,#e8e8e8,#797979,#b1b1b1,#828282,#cccccc,#9b9b9b,#adadad,#8c8c8c,#c8c8c8,#f6f6f6,#a5a5a5,#ababab,#7f7f7f,#bababa,#7f7f7f,#c2c2c2,#cfcfcf,#bdbdbd,#cccccc,#494949,#6b6b6b,#cccccc,#959595,#a4a4a4,#7e7e7e,#848484,#848484,#747474,#d4d4d4,#b5b5b5,#a3a3a3,#a4a4a4,#ababab,#747474,#8a8a8a,#bdbdbd,#b9b9b9,#808080,#9f9f9f,#9f9f9f)"></i><i style="background:linear-gradient(90deg,#c0c0c0,#c0c0c0,#a3a3a3,#878787,#878787,#a7a7a7,#707070,#939393,#9d9d9d,#9b9b9b,#969696,#8a8a8a,#c1c1c1,#bdbdbd,#b1b1b1,#ffffff,#a2a2a2,#c9c9c9,#acacac,#717171,#8e8e8e,#686868,#b5b5b5,#a8a8a8,#cecece,#929292,#858585,#737373,#bbbbbb,#9b9b9b,#969696,#a0a0a0,#7d7d7d,#7c7c7c,#bdbdbd,#9d9d9d,#b7b7b7,#b1b1b1,#969696,#b8b8b8,#b7b7b7,#a1a1a1,#a5a5a5,#a1a1a1,#919191,#8c8c8c,#959595,#969696,#767676,#7b7b7b,#a5a5a5,#a4a4a4,#878787,#8e8e8e,#d2d2d2,#efefef,#999999,#868686,#979797,#a2a2a2,#7a7a7a,#aaaaaa,#656565,#e9e9e9,#999999,#999999)"></i><i style="background:linear-gradient(90deg,#939393,#939393,#9c9c9c,#b6b6b6,#656565,#838383,#8f8f8f,#999999,#9c9c9c,#848484,#b1b1b1,#a3a3a3,#a6a6a6,#7e7e7e,#818181,#808080,#8a8a8a,#797979,#8e8e8e,#848484,#929292,#a4a4a4,#d4d4d4,#818181,#818181,#7d7d7d,#e2e2e2,#a5a5a5,#696969,#b7b7b7,#c2c2c2,#b6b6b6,#a7a7a7,#b2b2b2,#7f7f7f,#898989,#c7c7c7,#868686,#9d9d9d,#b0b0b0,#626262,#999999,#616161,#9b9b9b,#7e7e7e,#8f8f8f,#9b9b9b,#777777,#5f5f5f,#d1d1d1,#7b7b7b,#c7c7c7,#a2a2a2,#a1a1a1,#cccccc,#ababab,#c5c5c5,#696969,#c8c8c8,#8a8a8a,#c6c6c6,#b5b5b5,#a7a7a7,#898989,#b4b4b4,#b4b4b4)"></i><i style="background:linear-gradient(90deg,#969696,#969696,#a8a8a8,#959595,#c0c0c0,#9d9d9d,#989898,#929292,#8b8b8b,#8d8d8d,#8c8c8c,#818181,#737373,#7e7e7e,#838383,#656565,#8f8f8f,#9b9b9b,#787878,#9e9e9e,#909090,#747474,#a2a2a2,#636363,#a2a2a2,#cacaca,#8f8f8f,#f3f3f3,#a7a7a7,#a6a6a6,#b8b8b8,#a5a5a5,#c9c9c9,#7c7c7c,#808080,#939393,#9c9c9c,#989898,#9e9e9e,#c7c7c7,#c5c5c5,#aeaeae,#b5b5b5,#848484,#c9c9c9,#7a7a7a,#e0e0e0,#c2c2c2,#4f4f4f,#969696,#9c9c9c,#cccccc,#949494,#999999,#848484,#a3a3a3,#c0c0c0,#8a8a8a,#848484,#969696,#adadad,#6b6b6b,#737373,#989898,#8d8d8d,#8d8d8d)"></i><i style="background:linear-gradient(90deg,#7b7b7b,#7b7b7b,#b1b1b1,#8c8c8c,#afafaf,#b5b5b5,#6c6c6c,#cccccc,#9a9a9a,#969696,#878787,#7a7a7a,#727272,#686868,#aeaeae,#bbbbbb,#aeaeae,#989898,#7f7f7f,#b3b3b3,#5d5d5d,#dadada,#8c8c8c,#acacac,#949494,#787878,#dcdcdc,#c5c5c5,#8f8f8f,#999999,#7b7b7b,#636363,#bcbcbc,#303030,#acacac,#757575,#b1b1b1,#c0c0c0,#aeaeae,#6e6e6e,#ababab,#b7b7b7,#0d0d0d,#8e8e8e,#757575,#c1c1c1,#aaaaaa,#9c9c9c,#6f6f6f,#c8c8c8,#bdbdbd,#6a6a6a,#626262,#ababab,#949494,#a9a9a9,#757575,#bfbfbf,#c4c4c4,#929292,#c9c9c9,#d4d4d4,#9d9d9d,#a2a2a2,#a9a9a9,#a9a9a9)"></i><i style="background:linear-gradient(90deg,#a8a8a8,#a8a8a8,#c7c7c7,#6d6d6d,#c5c5c5,#717171,#ececec,#b6b6b6,#b8b8b8,#b3b3b3,#6a6a6a,#9e9e9e,#959595,#707070,#989898,#7a7a7a,#7d7d7d,#999999,#b9b9b9,#c1c1c1,#cdcdcd,#7c7c7c,#a5a5a5,#a0a0a0,#737373,#727272,#b1b1b1,#8a8a8a,#7c7c7c,#d2d2d2,#949494,#d0d0d0,#9c9c9c,#565656,#b6b6b6,#7a7a7a,#747474,#c3c3c3,#9a9a9a,#929292,#d5d5d5,#7a7a7a,#949494,#808080,#6f6f6f,#a0a0a0,#a5a5a5,#a2a2a2,#cecece,#3e3e3e,#adadad,#a4a4a4,#6d6d6d,#9d9d9d,#cccccc,#cfcfcf,#979797,#909090,#b9b9b9,#909090,#b4b4b4,#828282,#9f9f9f,#bababa,#6e6e6e,#6e6e6e)"></i><i style="background:linear-gradient(90deg,#afafaf,#afafaf,#a3a3a3,#d1d1d1,#a5a5a5,#7e7e7e,#8c8c8c,#9a9a9a,#b4b4b4,#999999,#aeaeae,#858585,#c3c3c3,#bebebe,#9a9a9a,#8c8c8c,#c8c8c8,#a6a6a6,#a3a3a3,#a0a0a0,#949494,#868686,#878787,#939393,#5a5a5a,#a6a6a6,#9f9f9f,#b4b4b4,#8b8b8b,#909090,#aaaaaa,#aeaeae,#626262,#949494,#aeaeae,#989898,#c1c1c1,#898989,#cccccc,#949494,#737373,#aaaaaa,#c4c4c4,#a1a1a1,#6e6e6e,#d1d1d1,#808080,#959595,#7e7e7e,#aaaaaa,#a6a6a6,#646464,#b3b3b3,#8c8c8c,#bfbfbf,#868686,#c8c8c8,#8a8a8a,#797979,#989898,#969696,#c8c8c8,#7d7d7d,#818181,#919191,#919191)"></i><i style="background:linear-gradient(90deg,#bfbfbf,#bfbfbf,#919191,#898989,#868686,#838383,#c9c9c9,#8b8b8b,#979797,#5f5f5f,#d7d7d7,#949494,#cacaca,#838383,#888888,#7c7c7c,#b0b0b0,#f2f2f2,#909090,#cdcdcd,#a4a4a4,#dfdfdf,#878787,#9d9d9d,#575757,#979797,#8a8a8a,#c1c1c1,#b6b6b6,#959595,#858585,#acacac,#757575,#848484,#c3c3c3,#8f8f8f,#747474,#cacaca,#7e7e7e,#a1a1a1,#e1e1e1,#969696,#a2a2a2,#7d7d7d,#c5c5c5,#686868,#7e7e7e,#a1a1a1,#a1a1a1,#d4d4d4,#a5a5a5,#616161,#878787,#bcbcbc,#999999,#989898,#8f8f8f,#919191,#c6c6c6,#949494,#c1c1c1,#545454,#a5a5a5,#999999,#838383,#838383)"></i><i style="background:linear-gradient(90deg,#767676,#767676,#dbdbdb,#b5b5b5,#777777,#9a9a9a,#949494,#b7b7b7,#919191,#b7b7b7,#c5c5c5,#939393,#a4a4a4,#8e8e8e,#b9b9b9,#d8d8d8,#898989,#909090,#717171,#c9c9c9,#c3c3c3,#bdbdbd,#787878,#adadad,#585858,#727272,#929292,#a1a1a1,#8d8d8d,#909090,#848484,#bababa,#545454,#828282,#989898,#9e9e9e,#8f8f8f,#afafaf,#676767,#8e8e8e,#a0a0a0,#a4a4a4,#7e7e7e,#9d9d9d,#adadad,#b3b3b3,#b7b7b7,#909090,#b5b5b5,#757575,#a5a5a5,#909090,#9d9d9d,#b3b3b3,#c6c6c6,#747474,#a0a0a0,#828282,#a7a7a7,#8b8b8b,#9e9e9e,#a9a9a9,#c3c3c3,#858585,#cccccc,#cccccc)"></i><i style="background:linear-gradient(90deg,#515151,#515151,#7e7e7e,#8f8f8f,#8d8d8d,#a9a9a9,#acacac,#989898,#a5a5a5,#979797,#acacac,#919191,#d6d6d6,#7b7b7b,#707070,#c8c8c8,#b4b4b4,#707070,#a4a4a4,#b1b1b1,#a5a5a5,#8f8f8f,#cfcfcf,#878787,#989898,#949494,#5a5a5a,#7d7d7d,#989898,#aaaaaa,#8d8d8d,#d0d0d0,#818181,#d0d0d0,#717171,#7e7e7e,#cdcdcd,#959595,#b5b5b5,#8f8f8f,#747474,#bcbcbc,#757575,#d0d0d0,#9e9e9e,#a7a7a7,#e4e4e4,#a1a1a1,#a3a3a3,#494949,#c2c2c2,#848484,#848484,#8b8b8b,#b5b5b5,#656565,#b2b2b2,#7c7c7c,#d2d2d2,#b6b6b6,#939393,#c5c5c5,#848484,#9e9e9e,#858585,#858585)"></i><i style="background:linear-gradient(90deg,#939393,#939393,#b1b1b1,#535353,#7c7c7c,#bbbbbb,#b9b9b9,#535353,#838383,#a4a4a4,#838383,#bdbdbd,#a0a0a0,#787878,#757575,#989898,#b3b3b3,#c7c7c7,#5b5b5b,#a8a8a8,#5d5d5d,#949494,#636363,#c9c9c9,#b8b8b8,#919191,#919191,#949494,#f8f8f8,#c3c3c3,#a0a0a0,#d5d5d5,#959595,#cdcdcd,#858585,#8f8f8f,#bdbdbd,#9d9d9d,#919191,#adadad,#9c9c9c,#7c7c7c,#a9a9a9,#c0c0c0,#a8a8a8,#b3b3b3,#737373,#c1c1c1,#818181,#8f8f8f,#6f6f6f,#d2d2d2,#cdcdcd,#555555,#828282,#b4b4b4,#9c9c9c,#5f5f5f,#929292,#8f8f8f,#bbbbbb,#9d9d9d,#686868,#c4c4c4,#676767,#676767)"></i><i style="background:linear-gradient(90deg,#d3d3d3,#d3d3d3,#acacac,#cfcfcf,#6d6d6d,#6f6f6f,#b2b2b2,#d7d7d7,#878787,#9a9a9a,#717171,#9a9a9a,#9c9c9c,#d8d8d8,#d7d7d7,#858585,#adadad,#7a7a7a,#a8a8a8,#c0c0c0,#ababab,#c1c1c1,#9c9c9c,#979797,#fafafa,#bfbfbf,#a6a6a6,#939393,#adadad,#c7c7c7,#b3b3b3,#a7a7a7,#909090,#959595,#7f7f7f,#8d8d8d,#808080,#b6b6b6,#cbcbcb,#949494,#7e7e7e,#707070,#575757,#c6c6c6,#919191,#838383,#828282,#999999,#ababab,#898989,#a9a9a9,#b1b1b1,#969696,#a6a6a6,#cccccc,#9a9a9a,#818181,#c2c2c2,#929292,#8d8d8d,#6d6d6d,#848484,#9b9b9b,#b2b2b2,#b5b5b5,#b5b5b5)"></i><i style="background:linear-gradient(90deg,#c2c2c2,#c2c2c2,#a2a2a2,#aeaeae,#919191,#adadad,#cbcbcb,#a8a8a8,#9a9a9a,#c6c6c6,#999999,#7e7e7e,#919191,#909090,#b5b5b5,#7e7e7e,#6d6d6d,#aeaeae,#9d9d9d,#a2a2a2,#8d8d8d,#9e9e9e,#8d8d8d,#f2f2f2,#979797,#d4d4d4,#aaaaaa,#c3c3c3,#cfcfcf,#8b8b8b,#939393,#bcbcbc,#808080,#a4a4a4,#999999,#b8b8b8,#838383,#c1c1c1,#919191,#727272,#8f8f8f,#d2d2d2,#7e7e7e,#878787,#ababab,#707070,#9c9c9c,#a4a4a4,#919191,#747474,#979797,#cacaca,#959595,#d1d1d1,#ababab,#a6a6a6,#6e6e6e,#d0d0d0,#cacaca,#a6a6a6,#909090,#979797,#858585,#a4a4a4,#7d7d7d,#7d7d7d)"></i><i style="background:linear-gradient(90deg,#8b8b8b,#8b8b8b,#b3b3b3,#939393,#acacac,#c1c1c1,#a0a0a0,#999999,#9a9a9a,#707070,#7d7d7d,#cecece,#e7e7e7,#5d5d5d,#bababa,#b3b3b3,#b5b5b5,#949494,#898989,#b0b0b0,#a4a4a4,#989898,#ebebeb,#aaaaaa,#949494,#797979,#a5a5a5,#a4a4a4,#595959,#7a7a7a,#363636,#8e8e8e,#707070,#969696,#d7d7d7,#afafaf,#9d9d9d,#a9a9a9,#6a6a6a,#cdcdcd,#8e8e8e,#c6c6c6,#929292,#747474,#c2c2c2,#d0d0d0,#848484,#aaaaaa,#808080,#989898,#b1b1b1,#808080,#aaaaaa,#b3b3b3,#bababa,#a0a0a0,#b7b7b7,#aeaeae,#b2b2b2,#525252,#a3a3a3,#919191,#c2c2c2,#939393,#bfbfbf,#bfbfbf)"></i><i style="background:linear-gradient(90deg,#7b7b7b,#7b7b7b,#8b8b8b,#979797,#9a9a9a,#a9a9a9,#7c7c7c,#7d7d7d,#cacaca,#bababa,#999999,#aaaaaa,#b4b4b4,#bbbbbb,#9d9d9d,#c7c7c7,#555555,#c3c3c3,#656565,#bdbdbd,#9b9b9b,#acacac,#8b8b8b,#9f9f9f,#adadad,#acacac,#afafaf,#c1c1c1,#cfcfcf,#9e9e9e,#a5a5a5,#aeaeae,#8f8f8f,#878787,#c1c1c1,#888888,#888888,#bcbcbc,#838383,#ededed,#bcbcbc,#9c9c9c,#9b9b9b,#b5b5b5,#787878,#a6a6a6,#a3a3a3,#e2e2e2,#b2b2b2,#6f6f6f,#9e9e9e,#999999,#e2e2e2,#bcbcbc,#a9a9a9,#c6c6c6,#7e7e7e,#b5b5b5,#868686,#acacac,#7d7d7d,#bfbfbf,#717171,#8b8b8b,#a8a8a8,#a8a8a8)"></i><i style="background:linear-gradient(90deg,#8a8a8a,#8a8a8a,#aaaaaa,#6b6b6b,#979797,#a0a0a0,#8e8e8e,#a2a2a2,#a7a7a7,#8a8a8a,#878787,#636363,#808080,#6c6c6c,#8b8b8b,#828282,#b6b6b6,#858585,#bfbfbf,#b7b7b7,#a5a5a5,#737373,#959595,#c8c8c8,#979797,#a9a9a9,#b9b9b9,#8b8b8b,#a6a6a6,#a4a4a4,#6d6d6d,#9e9e9e,#bababa,#8d8d8d,#838383,#c0c0c0,#646464,#585858,#dbdbdb,#ababab,#969696,#828282,#acacac,#aeaeae,#919191,#8f8f8f,#8f8f8f,#9e9e9e,#b4b4b4,#636363,#9e9e9e,#b9b9b9,#8f8f8f,#c8c8c8,#bbbbbb,#b2b2b2,#cdcdcd,#686868,#636363,#9c9c9c,#b5b5b5,#999999,#848484,#969696,#979797,#979797)"></i><i style="background:linear-gradient(90deg,#9a9a9a,#9a9a9a,#b0b0b0,#f2f2f2,#5f5f5f,#717171,#9e9e9e,#b8b8b8,#969696,#a2a2a2,#8f8f8f,#818181,#dbdbdb,#a7a7a7,#808080,#fafafa,#777777,#d3d3d3,#b1b1b1,#bfbfbf,#8f8f8f,#a7a7a7,#c1c1c1,#6a6a6a,#939393,#c5c5c5,#979797,#8e8e8e,#898989,#c5c5c5,#6c6c6c,#6a6a6a,#9a9a9a,#a2a2a2,#aeaeae,#5c5c5c,#929292,#9f9f9f,#9a9a9a,#969696,#8c8c8c,#979797,#bdbdbd,#c2c2c2,#a1a1a1,#a6a6a6,#d1d1d1,#464646,#b5b5b5,#949494,#8e8e8e,#969696,#989898,#7d7d7d,#a6a6a6,#9c9c9c,#808080,#acacac,#a5a5a5,#979797,#dadada,#9b9b9b,#969696,#8e8e8e,#b3b3b3,#b3b3b3)"></i><i style="background:linear-gradient(90deg,#979797,#979797,#e3e3e3,#7d7d7d,#858585,#626262,#bfbfbf,#9f9f9f,#5b5b5b,#cecece,#c8c8c8,#888888,#838383,#949494,#bebebe,#979797,#c3c3c3,#696969,#a2a2a2,#898989,#929292,#717171,#9b9b9b,#6e6e6e,#c3c3c3,#696969,#7c7c7c,#747474,#8c8c8c,#b3b3b3,#8c8c8c,#636363,#a4a4a4,#c9c9c9,#b8b8b8,#6b6b6b,#c0c0c0,#8d8d8d,#b9b9b9,#c1c1c1,#8e8e8e,#b9b9b9,#cfcfcf,#4a4a4a,#acacac,#7a7a7a,#9d9d9d,#929292,#c9c9c9,#787878,#777777,#b0b0b0,#9d9d9d,#969696,#cfcfcf,#adadad,#9b9b9b,#7c7c7c,#868686,#939393,#a3a3a3,#b2b2b2,#9e9e9e,#8b8b8b,#9f9f9f,#9f9f9f)"></i><i style="background:linear-gradient(90deg,#8e8e8e,#8e8e8e,#939393,#8b8b8b,#a6a6a6,#a3a3a3,#898989,#808080,#c1c1c1,#707070,#9c9c9c,#c3c3c3,#8a8a8a,#b1b1b1,#808080,#bbbbbb,#aeaeae,#a9a9a9,#a4a4a4,#919191,#a6a6a6,#bfbfbf,#898989,#ababab,#939393,#cccccc,#7a7a7a,#b4b4b4,#606060,#b7b7b7,#8c8c8c,#b8b8b8,#adadad,#919191,#c9c9c9,#e2e2e2,#2d2d2d,#b5b5b5,#afafaf,#939393,#8b8b8b,#818181,#9a9a9a,#b7b7b7,#828282,#b5b5b5,#898989,#c8c8c8,#a0a0a0,#878787,#9f9f9f,#878787,#afafaf,#838383,#8d8d8d,#a0a0a0,#aeaeae,#959595,#696969,#717171,#bebebe,#858585,#828282,#acacac,#9a9a9a,#9a9a9a)"></i><i style="background:linear-gradient(90deg,#8c8c8c,#8c8c8c,#959595,#7d7d7d,#cacaca,#c3c3c3,#c6c6c6,#bbbbbb,#c2c2c2,#8e8e8e,#868686,#636363,#929292,#8e8e8e,#737373,#8a8a8a,#9c9c9c,#bfbfbf,#c3c3c3,#dadada,#717171,#737373,#bebebe,#d7d7d7,#8f8f8f,#898989,#c8c8c8,#afafaf,#bebebe,#7e7e7e,#8e8e8e,#bbbbbb,#949494,#8f8f8f,#666666,#cacaca,#dadada,#646464,#818181,#969696,#b3b3b3,#a6a6a6,#626262,#dbdbdb,#bdbdbd,#8e8e8e,#777777,#8d8d8d,#b5b5b5,#737373,#b3b3b3,#acacac,#8f8f8f,#bcbcbc,#a8a8a8,#a3a3a3,#606060,#747474,#8a8a8a,#909090,#8b8b8b,#8c8c8c,#fbfbfb,#979797,#f5f5f5,#f5f5f5)"></i><i style="background:linear-gradient(90deg,#c3c3c3,#c3c3c3,#a1a1a1,#737373,#999999,#686868,#888888,#bcbcbc,#a9a9a9,#ababab,#5e5e5e,#979797,#737373,#777777,#818181,#808080,#c3c3c3,#898989,#909090,#b2b2b2,#c1c1c1,#b7b7b7,#4e4e4e,#8d8d8d,#939393,#bdbdbd,#a9a9a9,#b3b3b3,#909090,#9a9a9a,#7a7a7a,#595959,#9c9c9c,#858585,#c0c0c0,#747474,#ababab,#737373,#7a7a7a,#858585,#8f8f8f,#888888,#8e8e8e,#a0a0a0,#7b7b7b,#b2b2b2,#939393,#a0a0a0,#a1a1a1,#ababab,#828282,#ffffff,#999999,#9f9f9f,#a8a8a8,#929292,#b5b5b5,#898989,#6c6c6c,#919191,#a7a7a7,#c1c1c1,#777777,#9a9a9a,#989898,#989898)"></i><i style="background:linear-gradient(90deg,#a8a8a8,#a8a8a8,#7b7b7b,#9b9b9b,#6f6f6f,#959595,#999999,#d2d2d2,#7c7c7c,#a4a4a4,#9c9c9c,#656565,#d7d7d7,#9e9e9e,#afafaf,#b0b0b0,#808080,#909090,#808080,#b4b4b4,#8e8e8e,#4a4a4a,#686868,#a6a6a6,#cbcbcb,#b5b5b5,#848484,#767676,#a9a9a9,#868686,#949494,#b6b6b6,#969696,#b1b1b1,#a2a2a2,#bcbcbc,#949494,#9e9e9e,#bdbdbd,#a6a6a6,#bababa,#8d8d8d,#8f8f8f,#8e8e8e,#686868,#828282,#8d8d8d,#515151,#c3c3c3,#a7a7a7,#8a8a8a,#a5a5a5,#cbcbcb,#9c9c9c,#919191,#919191,#7d7d7d,#afafaf,#cfcfcf,#848484,#989898,#a2a2a2,#c7c7c7,#c8c8c8,#777777,#777777)"></i><i style="background:linear-gradient(90deg,#8d8d8d,#8d8d8d,#8d8d8d,#727272,#969696,#7a7a7a,#939393,#9a9a9a,#a9a9a9,#a9a9a9,#9d9d9d,#b4b4b4,#a4a4a4,#7d7d7d,#666666,#8a8a8a,#9d9d9d,#979797,#9e9e9e,#7f7f7f,#acacac,#777777,#898989,#a6a6a6,#d7d7d7,#a1a1a1,#7f7f7f,#8d8d8d,#a3a3a3,#c8c8c8,#cccccc,#797979,#919191,#959595,#a0a0a0,#a5a5a5,#9d9d9d,#b7b7b7,#dcdcdc,#a1a1a1,#6d6d6d,#acacac,#878787,#aaaaaa,#dcdcdc,#c8c8c8,#747474,#a1a1a1,#979797,#686868,#c5c5c5,#919191,#b0b0b0,#979797,#6a6a6a,#8d8d8d,#707070,#cccccc,#b7b7b7,#5e5e5e,#727272,#7b7b7b,#595959,#c4c4c4,#f2f2f2,#f2f2f2)"></i><i style="background:linear-gradient(90deg,#909090,#909090,#aaaaaa,#d8d8d8,#8d8d8d,#adadad,#c0c0c0,#6c6c6c,#b8b8b8,#cecece,#a0a0a0,#bababa,#b3b3b3,#c1c1c1,#9b9b9b,#696969,#a9a9a9,#969696,#a0a0a0,#a6a6a6,#9a9a9a,#a1a1a1,#848484,#dadada,#828282,#bfbfbf,#dbdbdb,#8b8b8b,#929292,#dadada,#7d7d7d,#9d9d9d,#9f9f9f,#b1b1b1,#6f6f6f,#b7b7b7,#7c7c7c,#bfbfbf,#949494,#939393,#a3a3a3,#bbbbbb,#969696,#888888,#858585,#b8b8b8,#969696,#8d8d8d,#9b9b9b,#cbcbcb,#8d8d8d,#828282,#7d7d7d,#a2a2a2,#b2b2b2,#ababab,#949494,#b5b5b5,#d4d4d4,#8e8e8e,#9e9e9e,#949494,#777777,#9c9c9c,#7c7c7c,#7c7c7c)"></i><i style="background:linear-gradient(90deg,#cccccc,#cccccc,#6f6f6f,#eaeaea,#9f9f9f,#747474,#585858,#a9a9a9,#a8a8a8,#b5b5b5,#929292,#b4b4b4,#c7c7c7,#bcbcbc,#b3b3b3,#dedede,#999999,#acacac,#727272,#6f6f6f,#c4c4c4,#b9b9b9,#b3b3b3,#757575,#4c4c4c,#8e8e8e,#afafaf,#8f8f8f,#a7a7a7,#7c7c7c,#858585,#7e7e7e,#a3a3a3,#929292,#a2a2a2,#dcdcdc,#8d8d8d,#818181,#b5b5b5,#8f8f8f,#a2a2a2,#7e7e7e,#898989,#858585,#8d8d8d,#ababab,#707070,#b2b2b2,#a9a9a9,#8e8e8e,#9e9e9e,#b4b4b4,#6e6e6e,#9f9f9f,#bdbdbd,#828282,#b1b1b1,#9c9c9c,#8f8f8f,#949494,#b9b9b9,#909090,#aaaaaa,#787878,#898989,#898989)"></i><i style="background:linear-gradient(90deg,#727272,#727272,#9c9c9c,#898989,#a9a9a9,#7f7f7f,#c5c5c5,#e6e6e6,#8e8e8e,#c8c8c8,#a5a5a5,#818181,#9f9f9f,#919191,#999999,#a7a7a7,#b0b0b0,#858585,#a0a0a0,#949494,#8b8b8b,#5a5a5a,#a1a1a1,#a2a2a2,#a0a0a0,#a1a1a1,#d4d4d4,#5d5d5d,#7c7c7c,#848484,#888888,#acacac,#969696,#969696,#7e7e7e,#878787,#9e9e9e,#b4b4b4,#929292,#8b8b8b,#8f8f8f,#bbbbbb,#717171,#bdbdbd,#7d7d7d,#7b7b7b,#8a8a8a,#979797,#bababa,#cbcbcb,#808080,#868686,#828282,#c6c6c6,#bcbcbc,#d9d9d9,#6e6e6e,#9a9a9a,#cdcdcd,#9d9d9d,#a0a0a0,#bababa,#8d8d8d,#dfdfdf,#767676,#767676)"></i><i style="background:linear-gradient(90deg,#dbdbdb,#dbdbdb,#919191,#d1d1d1,#989898,#888888,#606060,#9e9e9e,#989898,#8d8d8d,#989898,#878787,#c7c7c7,#bcbcbc,#d8d8d8,#8b8b8b,#a8a8a8,#dedede,#d1d1d1,#949494,#8c8c8c,#a1a1a1,#d5d5d5,#979797,#999999,#cacaca,#aeaeae,#969696,#8d8d8d,#c1c1c1,#bfbfbf,#666666,#bababa,#999999,#939393,#b8b8b8,#414141,#959595,#a2a2a2,#979797,#969696,#adadad,#b7b7b7,#dcdcdc,#8f8f8f,#6d6d6d,#a8a8a8,#858585,#636363,#a8a8a8,#9c9c9c,#757575,#bebebe,#606060,#bbbbbb,#979797,#919191,#8e8e8e,#c8c8c8,#808080,#989898,#959595,#a3a3a3,#a3a3a3,#878787,#878787)"></i><i style="background:linear-gradient(90deg,#a1a1a1,#a1a1a1,#6f6f6f,#a0a0a0,#646464,#aeaeae,#a9a9a9,#9f9f9f,#797979,#868686,#c2c2c2,#828282,#909090,#c5c5c5,#a5a5a5,#8c8c8c,#8e8e8e,#ababab,#808080,#afafaf,#656565,#8c8c8c,#c2c2c2,#848484,#dadada,#848484,#c6c6c6,#b2b2b2,#989898,#8d8d8d,#d0d0d0,#919191,#949494,#b1b1b1,#a2a2a2,#c8c8c8,#8d8d8d,#aaaaaa,#5c5c5c,#747474,#d5d5d5,#8a8a8a,#c1c1c1,#898989,#a1a1a1,#c4c4c4,#c2c2c2,#bababa,#898989,#c1c1c1,#b4b4b4,#a5a5a5,#c7c7c7,#a6a6a6,#989898,#6c6c6c,#a8a8a8,#7f7f7f,#a7a7a7,#5e5e5e,#898989,#cacaca,#8a8a8a,#9b9b9b,#b4b4b4,#b4b4b4)"></i><i style="background:linear-gradient(90deg,#686868,#686868,#a7a7a7,#9e9e9e,#bababa,#6d6d6d,#a5a5a5,#6c6c6c,#d0d0d0,#afafaf,#3c3c3c,#838383,#828282,#717171,#9e9e9e,#8c8c8c,#808080,#cacaca,#7c7c7c,#b5b5b5,#838383,#757575,#6e6e6e,#888888,#7e7e7e,#949494,#9a9a9a,#636363,#a2a2a2,#f1f1f1,#9e9e9e,#959595,#a1a1a1,#7d7d7d,#8d8d8d,#8d8d8d,#ffffff,#7b7b7b,#9e9e9e,#8c8c8c,#797979,#909090,#868686,#8c8c8c,#b2b2b2,#9c9c9c,#c6c6c6,#4a4a4a,#9a9a9a,#949494,#9f9f9f,#909090,#b5b5b5,#8e8e8e,#979797,#676767,#828282,#969696,#a0a0a0,#e5e5e5,#ffffff,#606060,#a8a8a8,#a8a8a8,#9d9d9d,#9d9d9d)"></i><i style="background:linear-gradient(90deg,#a3a3a3,#a3a3a3,#8a8a8a,#9a9a9a,#949494,#7b7b7b,#919191,#b8b8b8,#f6f6f6,#9b9b9b,#8a8a8a,#a7a7a7,#8a8a8a,#959595,#939393,#838383,#aaaaaa,#c3c3c3,#888888,#b8b8b8,#7c7c7c,#9c9c9c,#9d9d9d,#7b7b7b,#a3a3a3,#8a8a8a,#a4a4a4,#808080,#dcdcdc,#7b7b7b,#b0b0b0,#9a9a9a,#b9b9b9,#8a8a8a,#a1a1a1,#8a8a8a,#939393,#969696,#e1e1e1,#c6c6c6,#a7a7a7,#eeeeee,#bcbcbc,#bfbfbf,#b1b1b1,#848484,#9e9e9e,#afafaf,#818181,#cecece,#cbcbcb,#9e9e9e,#7b7b7b,#e4e4e4,#5f5f5f,#b9b9b9,#919191,#6b6b6b,#8b8b8b,#b6b6b6,#7f7f7f,#acacac,#929292,#8f8f8f,#a2a2a2,#a2a2a2)"></i><i style="background:linear-gradient(90deg,#eaeaea,#eaeaea,#808080,#8c8c8c,#a3a3a3,#bcbcbc,#7e7e7e,#bababa,#868686,#b6b6b6,#717171,#e8e8e8,#888888,#d3d3d3,#858585,#969696,#989898,#8a8a8a,#696969,#d9d9d9,#a9a9a9,#909090,#c1c1c1,#9e9e9e,#626262,#b4b4b4,#737373,#e3e3e3,#9a9a9a,#bfbfbf,#bbbbbb,#afafaf,#787878,#828282,#9b9b9b,#a5a5a5,#c4c4c4,#c2c2c2,#9d9d9d,#8e8e8e,#c5c5c5,#939393,#dbdbdb,#848484,#909090,#686868,#fcfcfc,#898989,#a8a8a8,#a5a5a5,#a2a2a2,#acacac,#9b9b9b,#a4a4a4,#a4a4a4,#8d8d8d,#858585,#e8e8e8,#989898,#aeaeae,#b2b2b2,#c4c4c4,#9a9a9a,#4d4d4d,#dedede,#dedede)"></i><i style="background:linear-gradient(90deg,#595959,#595959,#4c4c4c,#b0b0b0,#ababab,#b1b1b1,#bbbbbb,#bcbcbc,#979797,#c7c7c7,#acacac,#888888,#777777,#d4d4d4,#b5b5b5,#838383,#9e9e9e,#e3e3e3,#a5a5a5,#aeaeae,#4e4e4e,#aaaaaa,#d1d1d1,#a0a0a0,#c1c1c1,#b3b3b3,#c0c0c0,#868686,#868686,#9f9f9f,#929292,#777777,#616161,#787878,#808080,#d5d5d5,#6c6c6c,#939393,#7d7d7d,#e8e8e8,#cdcdcd,#636363,#989898,#848484,#9f9f9f,#8c8c8c,#b9b9b9,#6a6a6a,#919191,#979797,#959595,#969696,#adadad,#9b9b9b,#6f6f6f,#9c9c9c,#6c6c6c,#d6d6d6,#909090,#7a7a7a,#a5a5a5,#828282,#aaaaaa,#999999,#b0b0b0,#b0b0b0)"></i><i style="background:linear-gradient(90deg,#595959,#595959,#4c4c4c,#b0b0b0,#ababab,#b1b1b1,#bbbbbb,#bcbcbc,#979797,#c7c7c7,#acacac,#888888,#777777,#d4d4d4,#b5b5b5,#838383,#9e9e9e,#e3e3e3,#a5a5a5,#aeaeae,#4e4e4e,#aaaaaa,#d1d1d1,#a0a0a0,#c1c1c1,#b3b3b3,#c0c0c0,#868686,#868686,#9f9f9f,#929292,#777777,#616161,#787878,#808080,#d5d5d5,#6c6c6c,#939393,#7d7d7d,#e8e8e8,#cdcdcd,#636363,#989898,#848484,#9f9f9f,#8c8c8c,#b9b9b9,#6a6a6a,#919191,#979797,#959595,#969696,#adadad,#9b9b9b,#6f6f6f,#9c9c9c,#6c6c6c,#d6d6d6,#909090,#7a7a7a,#a5a5a5,#828282,#aaaaaa,#999999,#b0b0b0,#b0b0b0)"></i></div><div class="o" style="left:160px;top:52px;width:21px;height:14px;background:#67001f"></div><div class="o" style="left:173px;top:66px;width:8px;height:7px;background:#67001f"></div><div class="o" style="left:160px;top:66px;width:13px;height:7px;background:#053061"></div><div class="o" style="left:167px;top:45px;width:14px;height:8px;background:#053061"></div><div class="o" style="left:309px;top:152px;width:14px;height:14px;background:#053061"></div><div class="o" style="left:301px;top:144px;width:15px;height:15px;background:#67001f;border-radius:0 0 6px 0"></div><div class="o" style="left:323px;top:152px;width:13px;height:14px;background:#67001f"></div><div class="o" style="left:329px;top:151px;width:16px;height:22px;background:#053061;clip-path:polygon(6.0px 0.5px,15.0px 0.5px,15.0px 21.8px,0.9px 21.8px,0.9px 11.2px,6.0px 7.8px)"></div><div class="o" style="left:231px;top:31px;width:14px;height:14px;background:#67001f"></div><div class="o" style="left:131px;top:116px;width:14px;height:14px;background:#053061"></div><div class="o" style="left:82px;top:137px;width:14px;height:15px;background:#67001f"></div><div class="o" style="left:238px;top:201px;width:14px;height:14px;background:#67001f"></div><div class="o" style="left:330px;top:180px;width:14px;height:14px;background:#053061"></div><div class="o" style="left:153px;top:308px;width:14px;height:14px;background:#67001f"></div><div class="o" style="left:344px;top:322px;width:14px;height:14px;background:#67001f"></div><div class="o" style="left:96px;top:442px;width:14px;height:12px;background:#67001f"></div><div class="o" style="left:174px;top:442px;width:14px;height:12px;background:#053061"></div><div class="o" style="left:273px;top:442px;width:14px;height:12px;background:#67001f"></div></div>
<div class="p" style="left:1802px"><div class="g" style="filter:url(#c3)"><i style="background:linear-gradient(90deg,#aeaeae,#aeaeae,#acacac,#949494,#e1e1e1,#aeaeae,#d7d7d7,#a2a2a2,#c7c7c7,#b0b0b0,#cacaca,#b8b8b8,#aaaaaa,#b3b3b3,#9d9d9d,#959595,#9d9d9d,#ababab,#a6a6a6,#bcbcbc,#999999,#d1d1d1,#c9c9c9,#a5a5a5,#878787,#848484,#adadad,#d7d7d7,#9b9b9b,#adadad,#cdcdcd,#9d9d9d,#c2c2c2,#7e7e7e,#c4c4c4,#a5a5a5,#9d9d9d,#b6b6b6,#a4a4a4,#b9b9b9,#c4c4c4,#b4b4b4,#8a8a8a,#626262,#626262,#949494,#aeaeae,#707070,#b4b4b4,#f7f7f7,#eeeeee,#e5e5e5,#e1e1e1,#e2e2e2,#a5a5a5,#c8c8c8,#949494,#7b7b7b,#aaaaaa,#959595,#9c9c9c,#bebebe,#c7c7c7,#bcbcbc,#717171,#717171)"></i><i style="background:linear-gradient(90deg,#aeaeae,#aeaeae,#acacac,#949494,#e1e1e1,#aeaeae,#d7d7d7,#a2a2a2,#c7c7c7,#b0b0b0,#cacaca,#b8b8b8,#aaaaaa,#b3b3b3,#9d9d9d,#959595,#9d9d9d,#ababab,#a6a6a6,#bcbcbc,#999999,#d1d1d1,#c9c9c9,#a5a5a5,#878787,#848484,#adadad,#d7d7d7,#9b9b9b,#adadad,#cdcdcd,#9d9d9d,#c2c2c2,#7e7e7e,#c4c4c4,#a5a5a5,#9d9d9d,#b6b6b6,#a4a4a4,#b9b9b9,#c4c4c4,#b4b4b4,#8a8a8a,#626262,#626262,#949494,#aeaeae,#707070,#b4b4b4,#f7f7f7,#eeeeee,#e5e5e5,#e1e1e1,#e2e2e2,#a5a5a5,#c8c8c8,#949494,#7b7b7b,#aaaaaa,#959595,#9c9c9c,#bebebe,#c7c7c7,#bcbcbc,#717171,#717171)"></i><i style="background:linear-gradient(90deg,#a6a6a6,#a6a6a6,#a4a4a4,#9a9a9a,#cbcbcb,#6d6d6d,#b5b5b5,#d4d4d4,#7b7b7b,#9c9c9c,#d1d1d1,#bbbbbb,#a5a5a5,#858585,#747474,#c5c5c5,#ababab,#b4b4b4,#8e8e8e,#959595,#e4e4e4,#999999,#c7c7c7,#a8a8a8,#dbdbdb,#9a9a9a,#797979,#9b9b9b,#a4a4a4,#dadada,#b1b1b1,#7c7c7c,#8f8f8f,#bcbcbc,#898989,#c7c7c7,#a9a9a9,#3d3d3d,#b0b0b0,#dbdbdb,#767676,#7f7f7f,#bcbcbc,#969696,#9e9e9e,#cacaca,#c8c8c8,#7d7d7d,#818181,#b0b0b0,#8b8b8b,#929292,#f8f8f8,#bebebe,#909090,#818181,#c4c4c4,#d4d4d4,#9f9f9f,#9d9d9d,#a4a4a4,#7d7d7d,#b0b0b0,#b6b6b6,#c6c6c6,#c6c6c6)"></i><i style="background:linear-gradient(90deg,#4c4c4c,#4c4c4c,#9f9f9f,#d8d8d8,#d9d9d9,#b1b1b1,#b1b1b1,#aaaaaa,#727272,#b5b5b5,#c3c3c3,#7f7f7f,#787878,#a5a5a5,#afafaf,#b7b7b7,#c5c5c5,#b0b0b0,#9f9f9f,#999999,#5d5d5d,#7c7c7c,#d1d1d1,#aaaaaa,#acacac,#979797,#bababa,#c6c6c6,#a2a2a2,#b3b3b3,#a6a6a6,#8e8e8e,#989898,#999999,#b4b4b4,#838383,#f7f7f7,#9c9c9c,#686868,#b1b1b1,#858585,#aeaeae,#d7d7d7,#a4a4a4,#cacaca,#8d8d8d,#c2c2c2,#c3c3c3,#c2c2c2,#a0a0a0,#9f9f9f,#cbcbcb,#a8a8a8,#a0a0a0,#8c8c8c,#a3a3a3,#a0a0a0,#e0e0e0,#b5b5b5,#a5a5a5,#c8c8c8,#979797,#929292,#808080,#7c7c7c,#7c7c7c)"></i><i style="background:linear-gradient(90deg,#b6b6b6,#b6b6b6,#b5b5b5,#a5a5a5,#c4c4c4,#808080,#8c8c8c,#e5e5e5,#cbcbcb,#a4a4a4,#d9d9d9,#d0d0d0,#9b9b9b,#b7b7b7,#b2b2b2,#797979,#787878,#c4c4c4,#adadad,#9d9d9d,#898989,#8b8b8b,#ebebeb,#bdbdbd,#a9a9a9,#ababab,#bebebe,#959595,#454545,#9c9c9c,#adadad,#b2b2b2,#acacac,#757575,#bebebe,#c5c5c5,#d5d5d5,#7a7a7a,#b9b9b9,#979797,#dedede,#ababab,#a9a9a9,#cacaca,#b2b2b2,#cbcbcb,#8a8a8a,#bcbcbc,#afafaf,#777777,#a2a2a2,#969696,#ababab,#b9b9b9,#bcbcbc,#8a8a8a,#8b8b8b,#e1e1e1,#d3d3d3,#aaaaaa,#808080,#ffffff,#999999,#afafaf,#cacaca,#cacaca)"></i><i style="background:linear-gradient(90deg,#c1c1c1,#c1c1c1,#b5b5b5,#a4a4a4,#949494,#c7c7c7,#a3a3a3,#b0b0b0,#a2a2a2,#ababab,#707070,#a3a3a3,#dfdfdf,#cecece,#c1c1c1,#b3b3b3,#a5a5a5,#c1c1c1,#898989,#9f9f9f,#b6b6b6,#959595,#b3b3b3,#d9d9d9,#6e6e6e,#a4a4a4,#7d7d7d,#969696,#b2b2b2,#a4a4a4,#a8a8a8,#b0b0b0,#757575,#b6b6b6,#919191,#707070,#c5c5c5,#d6d6d6,#7b7b7b,#a1a1a1,#808080,#d6d6d6,#9a9a9a,#e3e3e3,#c1c1c1,#aeaeae,#c1c1c1,#a3a3a3,#b4b4b4,#adadad,#a6a6a6,#989898,#bababa,#6d6d6d,#b4b4b4,#787878,#a9a9a9,#a4a4a4,#b5b5b5,#bdbdbd,#cccccc,#939393,#6f6f6f,#9b9b9b,#adadad,#adadad)"></i><i style="background:linear-gradient(90deg,#d8d8d8,#d8d8d8,#d6d6d6,#959595,#999999,#a9a9a9,#bcbcbc,#8d8d8d,#bbbbbb,#b3b3b3,#a5a5a5,#acacac,#c5c5c5,#cacaca,#d7d7d7,#787878,#cecece,#a0a0a0,#7d7d7d,#6d6d6d,#a0a0a0,#949494,#838383,#cccccc,#828282,#808080,#d4d4d4,#dadada,#8b8b8b,#979797,#acacac,#a7a7a7,#7f7f7f,#e5e5e5,#c0c0c0,#939393,#bfbfbf,#a6a6a6,#efefef,#bfbfbf,#cccccc,#808080,#aeaeae,#9e9e9e,#cacaca,#c9c9c9,#858585,#9d9d9d,#cbcbcb,#c6c6c6,#b6b6b6,#8e8e8e,#939393,#aeaeae,#858585,#888888,#a9a9a9,#a1a1a1,#f6f6f6,#c6c6c6,#a9a9a9,#d7d7d7,#a3a3a3,#cecece,#d2d2d2,#d2d2d2)"></i><i style="background:linear-gradient(90deg,#8d8d8d,#8d8d8d,#d6d6d6,#7d7d7d,#979797,#d5d5d5,#a6a6a6,#bebebe,#f2f2f2,#eaeaea,#bcbcbc,#8c8c8c,#a0a0a0,#cecece,#989898,#a6a6a6,#898989,#cbcbcb,#a5a5a5,#969696,#656565,#999999,#6a6a6a,#7a7a7a,#cdcdcd,#8b8b8b,#9c9c9c,#b5b5b5,#b6b6b6,#cfcfcf,#a6a6a6,#878787,#a5a5a5,#dddddd,#a2a2a2,#bababa,#404040,#c2c2c2,#999999,#b5b5b5,#ffffff,#b0b0b0,#a3a3a3,#a3a3a3,#6b6b6b,#959595,#adadad,#8b8b8b,#bababa,#9a9a9a,#c5c5c5,#8b8b8b,#a4a4a4,#d8d8d8,#c2c2c2,#b0b0b0,#b5b5b5,#c0c0c0,#cccccc,#8a8a8a,#a6a6a6,#a2a2a2,#c2c2c2,#838383,#a8a8a8,#a8a8a8)"></i><i style="background:linear-gradient(90deg,#7e7e7e,#7e7e7e,#dadada,#8e8e8e,#929292,#bdbdbd,#aaaaaa,#d5d5d5,#7b7b7b,#c2c2c2,#adadad,#858585,#f2f2f2,#a2a2a2,#c4c4c4,#efefef,#8d8d8d,#a1a1a1,#ababab,#878787,#d7d7d7,#c2c2c2,#f5f5f5,#909090,#717171,#ebebeb,#bababa,#a3a3a3,#cccccc,#c2c2c2,#949494,#e0e0e0,#7e7e7e,#cbcbcb,#d9d9d9,#565656,#b5b5b5,#aeaeae,#b3b3b3,#c2c2c2,#9e9e9e,#aeaeae,#d2d2d2,#7c7c7c,#d0d0d0,#a3a3a3,#cfcfcf,#cbcbcb,#f7f7f7,#f0f0f0,#a6a6a6,#b0b0b0,#b0b0b0,#828282,#acacac,#b1b1b1,#aeaeae,#c6c6c6,#a8a8a8,#8c8c8c,#9c9c9c,#a6a6a6,#b9b9b9,#dddddd,#8e8e8e,#8e8e8e)"></i><i style="background:linear-gradient(90deg,#a1a1a1,#a1a1a1,#adadad,#a4a4a4,#aeaeae,#bfbfbf,#f0f0f0,#ffffff,#afafaf,#acacac,#b6b6b6,#a3a3a3,#bababa,#a1a1a1,#c1c1c1,#a6a6a6,#afafaf,#bdbdbd,#a2a2a2,#b9b9b9,#cacaca,#939393,#b3b3b3,#858585,#8e8e8e,#b9b9b9,#828282,#9a9a9a,#bebebe,#c4c4c4,#b4b4b4,#dbdbdb,#c1c1c1,#adadad,#909090,#bebebe,#979797,#b6b6b6,#c9c9c9,#b8b8b8,#dddddd,#acacac,#464646,#b6b6b6,#afafaf,#c7c7c7,#939393,#aaaaaa,#a1a1a1,#828282,#999999,#dcdcdc,#656565,#9e9e9e,#ababab,#dddddd,#a7a7a7,#afafaf,#dedede,#7e7e7e,#acacac,#707070,#bbbbbb,#bababa,#7a7a7a,#7a7a7a)"></i><i style="background:linear-gradient(90deg,#858585,#858585,#a1a1a1,#b0b0b0,#696969,#9f9f9f,#aaaaaa,#a1a1a1,#f5f5f5,#7c7c7c,#979797,#e0e0e0,#c8c8c8,#c0c0c0,#949494,#c3c3c3,#8f8f8f,#b4b4b4,#a7a7a7,#c5c5c5,#b5b5b5,#dbdbdb,#c9c9c9,#ababab,#c0c0c0,#ffffff,#b2b2b2,#929292,#989898,#a6a6a6,#717171,#cacaca,#a5a5a5,#b5b5b5,#ababab,#b8b8b8,#ababab,#ffffff,#9f9f9f,#a7a7a7,#a9a9a9,#a0a0a0,#fcfcfc,#afafaf,#a7a7a7,#b8b8b8,#a0a0a0,#ebebeb,#a5a5a5,#c2c2c2,#b1b1b1,#9a9a9a,#858585,#ababab,#c3c3c3,#a7a7a7,#d9d9d9,#9e9e9e,#b2b2b2,#d0d0d0,#909090,#bcbcbc,#b0b0b0,#8b8b8b,#dddddd,#dddddd)"></i><i style="background:linear-gradient(90deg,#b8b8b8,#b8b8b8,#bbbbbb,#e0e0e0,#868686,#b5b5b5,#a3a3a3,#dbdbdb,#8d8d8d,#999999,#9f9f9f,#818181,#9c9c9c,#d8d8d8,#d6d6d6,#cacaca,#9f9f9f,#8a8a8a,#dfdfdf,#cccccc,#989898,#bababa,#8b8b8b,#a8a8a8,#8d8d8d,#e8e8e8,#7a7a7a,#b1b1b1,#6b6b6b,#c0c0c0,#9f9f9f,#9c9c9c,#7c7c7c,#c6c6c6,#c0c0c0,#8f8f8f,#959595,#787878,#999999,#a7a7a7,#a6a6a6,#bababa,#7d7d7d,#969696,#c7c7c7,#929292,#888888,#7d7d7d,#959595,#909090,#c9c9c9,#cfcfcf,#959595,#a1a1a1,#a9a9a9,#a7a7a7,#ebebeb,#e3e3e3,#797979,#b3b3b3,#797979,#d3d3d3,#9c9c9c,#a3a3a3,#8c8c8c,#8c8c8c)"></i><i style="background:linear-gradient(90deg,#818181,#818181,#b0b0b0,#b1b1b1,#b9b9b9,#9f9f9f,#9e9e9e,#d7d7d7,#9a9a9a,#575757,#dedede,#8f8f8f,#acacac,#eaeaea,#cbcbcb,#a1a1a1,#b8b8b8,#ebebeb,#5a5a5a,#b9b9b9,#9f9f9f,#c6c6c6,#5c5c5c,#aeaeae,#a5a5a5,#dbdbdb,#a5a5a5,#ffffff,#dadada,#aeaeae,#aaaaaa,#dbdbdb,#bebebe,#868686,#cbcbcb,#c6c6c6,#b5b5b5,#dfdfdf,#8e8e8e,#8f8f8f,#c1c1c1,#b4b4b4,#999999,#b4b4b4,#a3a3a3,#e1e1e1,#b8b8b8,#929292,#ececec,#888888,#8a8a8a,#d7d7d7,#9f9f9f,#b0b0b0,#c7c7c7,#a6a6a6,#595959,#a6a6a6,#dddddd,#919191,#e1e1e1,#b4b4b4,#949494,#b6b6b6,#909090,#909090)"></i><i style="background:linear-gradient(90deg,#c5c5c5,#c5c5c5,#f5f5f5,#b7b7b7,#a4a4a4,#949494,#9d9d9d,#c9c9c9,#cacaca,#d0d0d0,#e3e3e3,#e0e0e0,#666666,#c8c8c8,#888888,#aaaaaa,#c3c3c3,#cdcdcd,#afafaf,#989898,#909090,#cccccc,#909090,#ababab,#e2e2e2,#919191,#d8d8d8,#a5a5a5,#878787,#c8c8c8,#bbbbbb,#cacaca,#acacac,#a3a3a3,#878787,#737373,#a5a5a5,#bdbdbd,#a6a6a6,#b5b5b5,#9d9d9d,#8f8f8f,#8e8e8e,#808080,#8c8c8c,#b1b1b1,#767676,#b1b1b1,#bebebe,#a4a4a4,#e4e4e4,#545454,#b3b3b3,#848484,#9a9a9a,#787878,#8e8e8e,#cccccc,#949494,#969696,#afafaf,#d1d1d1,#aaaaaa,#b5b5b5,#767676,#767676)"></i><i style="background:linear-gradient(90deg,#c8c8c8,#c8c8c8,#fafafa,#bebebe,#888888,#bbbbbb,#757575,#868686,#c4c4c4,#b9b9b9,#919191,#a1a1a1,#9a9a9a,#bcbcbc,#d7d7d7,#939393,#c6c6c6,#b1b1b1,#cbcbcb,#c9c9c9,#ababab,#c0c0c0,#b2b2b2,#bfbfbf,#7f7f7f,#b7b7b7,#c7c7c7,#a0a0a0,#868686,#949494,#c1c1c1,#9d9d9d,#aaaaaa,#e4e4e4,#808080,#9f9f9f,#999999,#a0a0a0,#a5a5a5,#dcdcdc,#919191,#898989,#b7b7b7,#b8b8b8,#b0b0b0,#ababab,#a8a8a8,#bdbdbd,#7f7f7f,#eeeeee,#d0d0d0,#b7b7b7,#e0e0e0,#9b9b9b,#b7b7b7,#e2e2e2,#bcbcbc,#cbcbcb,#cbcbcb,#ababab,#959595,#8a8a8a,#bdbdbd,#c8c8c8,#959595,#959595)"></i><i style="background:linear-gradient(90deg,#c1c1c1,#c1c1c1,#cfcfcf,#dcdcdc,#9c9c9c,#868686,#a5a5a5,#989898,#989898,#a6a6a6,#d5d5d5,#9d9d9d,#adadad,#cccccc,#909090,#f6f6f6,#b4b4b4,#7c7c7c,#919191,#a5a5a5,#a2a2a2,#9f9f9f,#cacaca,#b9b9b9,#fdfdfd,#868686,#eaeaea,#ffffff,#9c9c9c,#f8f8f8,#dcdcdc,#b8b8b8,#ffffff,#c2c2c2,#969696,#c6c6c6,#d0d0d0,#b9b9b9,#c7c7c7,#929292,#959595,#bebebe,#909090,#868686,#6d6d6d,#acacac,#939393,#a7a7a7,#b6b6b6,#bcbcbc,#a9a9a9,#b5b5b5,#8b8b8b,#bcbcbc,#cacaca,#afafaf,#9b9b9b,#cfcfcf,#b6b6b6,#909090,#fbfbfb,#a8a8a8,#b8b8b8,#bdbdbd,#919191,#919191)"></i><i style="background:linear-gradient(90deg,#989898,#989898,#9d9d9d,#a0a0a0,#c8c8c8,#e4e4e4,#8c8c8c,#c4c4c4,#d0d0d0,#cdcdcd,#a6a6a6,#acacac,#8a8a8a,#9b9b9b,#979797,#aeaeae,#a4a4a4,#d5d5d5,#b6b6b6,#b8b8b8,#8f8f8f,#cdcdcd,#b2b2b2,#ababab,#858585,#b7b7b7,#b7b7b7,#dddddd,#adadad,#7e7e7e,#8a8a8a,#b1b1b1,#dedede,#a8a8a8,#a2a2a2,#e6e6e6,#c2c2c2,#767676,#585858,#929292,#a3a3a3,#a3a3a3,#a2a2a2,#9d9d9d,#969696,#d5d5d5,#8b8b8b,#d8d8d8,#a8a8a8,#aaaaaa,#525252,#9c9c9c,#9a9a9a,#aeaeae,#676767,#a7a7a7,#959595,#cfcfcf,#b3b3b3,#707070,#d3d3d3,#bababa,#767676,#d2d2d2,#aeaeae,#aeaeae)"></i><i style="background:linear-gradient(90deg,#a6a6a6,#a6a6a6,#8d8d8d,#939393,#cfcfcf,#cccccc,#c3c3c3,#959595,#ececec,#9c9c9c,#8b8b8b,#e2e2e2,#919191,#b2b2b2,#8d8d8d,#878787,#dddddd,#777777,#999999,#c6c6c6,#9f9f9f,#c6c6c6,#c2c2c2,#8a8a8a,#979797,#8b8b8b,#aeaeae,#bababa,#a9a9a9,#a2a2a2,#bebebe,#e8e8e8,#9e9e9e,#ababab,#dcdcdc,#b7b7b7,#8d8d8d,#949494,#9e9e9e,#bcbcbc,#9d9d9d,#949494,#b1b1b1,#a6a6a6,#a1a1a1,#939393,#afafaf,#a5a5a5,#b5b5b5,#c1c1c1,#9d9d9d,#c1c1c1,#c7c7c7,#9a9a9a,#8f8f8f,#a0a0a0,#c7c7c7,#c7c7c7,#a1a1a1,#888888,#909090,#7f7f7f,#a7a7a7,#a2a2a2,#a7a7a7,#a7a7a7)"></i><i style="background:linear-gradient(90deg,#bbbbbb,#bbbbbb,#bfbfbf,#e5e5e5,#ededed,#c7c7c7,#c2c2c2,#cacaca,#909090,#979797,#fcfcfc,#868686,#8c8c8c,#d1d1d1,#ffffff,#a1a1a1,#aaaaaa,#b9b9b9,#959595,#f6f6f6,#a8a8a8,#e1e1e1,#959595,#8a8a8a,#c0c0c0,#919191,#9c9c9c,#aaaaaa,#9b9b9b,#bebebe,#a1a1a1,#6b6b6b,#7e7e7e,#e8e8e8,#bebebe,#858585,#a5a5a5,#b1b1b1,#b5b5b5,#c6c6c6,#989898,#cbcbcb,#a3a3a3,#c9c9c9,#9d9d9d,#bfbfbf,#9a9a9a,#c5c5c5,#f8f8f8,#b4b4b4,#828282,#c9c9c9,#d9d9d9,#696969,#c7c7c7,#cccccc,#a9a9a9,#cecece,#ffffff,#b4b4b4,#939393,#afafaf,#cecece,#9e9e9e,#7c7c7c,#7c7c7c)"></i><i style="background:linear-gradient(90deg,#a7a7a7,#a7a7a7,#bdbdbd,#c1c1c1,#b2b2b2,#d2d2d2,#888888,#b1b1b1,#999999,#989898,#b3b3b3,#c3c3c3,#cecece,#b0b0b0,#c4c4c4,#b1b1b1,#a3a3a3,#c2c2c2,#c4c4c4,#cfcfcf,#a6a6a6,#b1b1b1,#efefef,#a8a8a8,#ffffff,#999999,#898989,#767676,#818181,#ffffff,#9d9d9d,#7e7e7e,#959595,#a1a1a1,#d6d6d6,#b7b7b7,#808080,#cbcbcb,#959595,#8b8b8b,#dddddd,#b8b8b8,#858585,#858585,#8e8e8e,#8c8c8c,#e3e3e3,#b7b7b7,#bcbcbc,#bababa,#b6b6b6,#c6c6c6,#b2b2b2,#c4c4c4,#c1c1c1,#bababa,#a8a8a8,#7d7d7d,#ececec,#f8f8f8,#9f9f9f,#c3c3c3,#b2b2b2,#bcbcbc,#a0a0a0,#a0a0a0)"></i><i style="background:linear-gradient(90deg,#bfbfbf,#bfbfbf,#acacac,#d4d4d4,#b8b8b8,#bfbfbf,#a0a0a0,#aaaaaa,#9c9c9c,#f2f2f2,#dfdfdf,#b4b4b4,#bfbfbf,#8f8f8f,#cccccc,#cecece,#8b8b8b,#969696,#b1b1b1,#cfcfcf,#8f8f8f,#8a8a8a,#aeaeae,#b8b8b8,#b5b5b5,#8a8a8a,#9a9a9a,#f5f5f5,#888888,#b7b7b7,#b5b5b5,#9e9e9e,#c5c5c5,#cccccc,#b3b3b3,#969696,#c7c7c7,#c7c7c7,#828282,#aeaeae,#afafaf,#ffffff,#e0e0e0,#dddddd,#dcdcdc,#6b6b6b,#b9b9b9,#bababa,#bebebe,#ebebeb,#a8a8a8,#c2c2c2,#818181,#8d8d8d,#aaaaaa,#909090,#cccccc,#818181,#a0a0a0,#b3b3b3,#aeaeae,#cfcfcf,#cdcdcd,#888888,#4c4c4c,#4c4c4c)"></i><i style="background:linear-gradient(90deg,#8c8c8c,#8c8c8c,#d6d6d6,#b5b5b5,#dfdfdf,#cccccc,#dedede,#b1b1b1,#757575,#b6b6b6,#929292,#d3d3d3,#777777,#a9a9a9,#d0d0d0,#c6c6c6,#989898,#969696,#a9a9a9,#b7b7b7,#888888,#a0a0a0,#acacac,#acacac,#cdcdcd,#aeaeae,#9c9c9c,#dfdfdf,#bbbbbb,#a8a8a8,#a8a8a8,#a6a6a6,#b2b2b2,#b6b6b6,#a6a6a6,#7b7b7b,#505050,#818181,#e6e6e6,#a0a0a0,#757575,#b7b7b7,#cccccc,#919191,#dcdcdc,#626262,#bababa,#8f8f8f,#bbbbbb,#c1c1c1,#9c9c9c,#bababa,#a5a5a5,#979797,#ffffff,#acacac,#b2b2b2,#b1b1b1,#e7e7e7,#a0a0a0,#919191,#b1b1b1,#4d4d4d,#818181,#ebebeb,#ebebeb)"></i><i style="background:linear-gradient(90deg,#bbbbbb,#bbbbbb,#afafaf,#fbfbfb,#d4d4d4,#989898,#afafaf,#eeeeee,#d0d0d0,#bebebe,#a9a9a9,#dddddd,#979797,#bbbbbb,#bfbfbf,#a3a3a3,#a5a5a5,#c3c3c3,#b2b2b2,#c1c1c1,#c3c3c3,#bfbfbf,#b7b7b7,#adadad,#b6b6b6,#b9b9b9,#d7d7d7,#838383,#c2c2c2,#808080,#a1a1a1,#b6b6b6,#b8b8b8,#d0d0d0,#bdbdbd,#909090,#dbdbdb,#ababab,#e1e1e1,#b7b7b7,#b4b4b4,#6e6e6e,#a8a8a8,#b6b6b6,#aaaaaa,#b0b0b0,#e0e0e0,#909090,#cfcfcf,#e3e3e3,#aaaaaa,#bababa,#bababa,#c9c9c9,#595959,#979797,#797979,#979797,#a0a0a0,#b2b2b2,#848484,#b5b5b5,#c8c8c8,#e1e1e1,#a9a9a9,#a9a9a9)"></i><i style="background:linear-gradient(90deg,#828282,#828282,#aeaeae,#e8e8e8,#d5d5d5,#9c9c9c,#b0b0b0,#9c9c9c,#f8f8f8,#8c8c8c,#b7b7b7,#a8a8a8,#acacac,#888888,#a3a3a3,#676767,#e7e7e7,#686868,#909090,#949494,#959595,#ababab,#a5a5a5,#dcdcdc,#7e7e7e,#9b9b9b,#717171,#989898,#dfdfdf,#898989,#ffffff,#a2a2a2,#a7a7a7,#a1a1a1,#9a9a9a,#a5a5a5,#c1c1c1,#cecece,#b0b0b0,#a3a3a3,#cdcdcd,#aaaaaa,#bbbbbb,#a1a1a1,#9e9e9e,#aaaaaa,#e6e6e6,#8f8f8f,#cbcbcb,#dedede,#c7c7c7,#a0a0a0,#d4d4d4,#cdcdcd,#cbcbcb,#ffffff,#7c7c7c,#a4a4a4,#575757,#b5b5b5,#b7b7b7,#c8c8c8,#959595,#eeeeee,#c6c6c6,#c6c6c6)"></i><i style="background:linear-gradient(90deg,#a3a3a3,#a3a3a3,#a7a7a7,#a1a1a1,#a0a0a0,#a2a2a2,#595959,#888888,#afafaf,#ececec,#bfbfbf,#8c8c8c,#808080,#acacac,#b9b9b9,#a2a2a2,#b4b4b4,#b8b8b8,#b9b9b9,#d6d6d6,#b8b8b8,#b1b1b1,#b9b9b9,#c7c7c7,#cccccc,#c2c2c2,#b8b8b8,#8c8c8c,#969696,#999999,#8c8c8c,#bebebe,#939393,#888888,#b2b2b2,#e6e6e6,#ebebeb,#a2a2a2,#c5c5c5,#e6e6e6,#a5a5a5,#9b9b9b,#a2a2a2,#a5a5a5,#a6a6a6,#bababa,#a0a0a0,#787878,#878787,#aaaaaa,#5e5e5e,#9a9a9a,#b2b2b2,#b9b9b9,#b8b8b8,#b2b2b2,#c2c2c2,#9d9d9d,#e6e6e6,#545454,#8c8c8c,#adadad,#a1a1a1,#e1e1e1,#939393,#939393)"></i><i style="background:linear-gradient(90deg,#a6a6a6,#a6a6a6,#afafaf,#909090,#b0b0b0,#b5b5b5,#c6c6c6,#b6b6b6,#9e9e9e,#b8b8b8,#c3c3c3,#a8a8a8,#b7b7b7,#f7f7f7,#a1a1a1,#858585,#a5a5a5,#939393,#868686,#c2c2c2,#979797,#939393,#c9c9c9,#b4b4b4,#aeaeae,#aaaaaa,#c5c5c5,#b8b8b8,#d9d9d9,#d1d1d1,#c6c6c6,#c8c8c8,#b2b2b2,#b9b9b9,#848484,#b2b2b2,#aeaeae,#a1a1a1,#d3d3d3,#989898,#a4a4a4,#a5a5a5,#858585,#b2b2b2,#bfbfbf,#8f8f8f,#9d9d9d,#989898,#696969,#dfdfdf,#a2a2a2,#818181,#bababa,#ababab,#858585,#d6d6d6,#949494,#d0d0d0,#b6b6b6,#c0c0c0,#7e7e7e,#c3c3c3,#e1e1e1,#848484,#fafafa,#fafafa)"></i><i style="background:linear-gradient(90deg,#dadada,#dadada,#b6b6b6,#b5b5b5,#dfdfdf,#e3e3e3,#cacaca,#c8c8c8,#a9a9a9,#8d8d8d,#7e7e7e,#e9e9e9,#dedede,#d4d4d4,#bbbbbb,#a6a6a6,#f3f3f3,#bfbfbf,#d6d6d6,#dddddd,#7d7d7d,#8d8d8d,#cdcdcd,#828282,#7f7f7f,#c2c2c2,#bababa,#a0a0a0,#bababa,#b2b2b2,#cdcdcd,#c7c7c7,#dadada,#ababab,#c0c0c0,#bbbbbb,#a3a3a3,#868686,#a4a4a4,#cacaca,#c0c0c0,#8a8a8a,#838383,#bdbdbd,#868686,#f8f8f8,#7e7e7e,#eaeaea,#979797,#ffffff,#cecece,#b4b4b4,#c8c8c8,#d3d3d3,#a3a3a3,#9d9d9d,#9b9b9b,#b5b5b5,#b9b9b9,#d7d7d7,#d5d5d5,#bababa,#9f9f9f,#efefef,#d6d6d6,#d6d6d6)"></i><i style="background:linear-gradient(90deg,#727272,#727272,#777777,#6b6b6b,#e0e0e0,#a9a9a9,#9c9c9c,#c6c6c6,#aeaeae,#a3a3a3,#a2a2a2,#939393,#8d8d8d,#bdbdbd,#c9c9c9,#a9a9a9,#979797,#f3f3f3,#cecece,#d5d5d5,#a8a8a8,#8e8e8e,#959595,#777777,#b8b8b8,#b1b1b1,#cacaca,#afafaf,#a0a0a0,#b1b1b1,#b4b4b4,#9d9d9d,#b0b0b0,#828282,#d2d2d2,#858585,#b7b7b7,#5d5d5d,#bbbbbb,#acacac,#a9a9a9,#5d5d5d,#959595,#aeaeae,#8f8f8f,#a0a0a0,#818181,#949494,#c4c4c4,#dbdbdb,#979797,#9a9a9a,#b5b5b5,#afafaf,#a4a4a4,#ababab,#8f8f8f,#a0a0a0,#aaaaaa,#c6c6c6,#9a9a9a,#959595,#a3a3a3,#787878,#d4d4d4,#d4d4d4)"></i><i style="background:linear-gradient(90deg,#c3c3c3,#c3c3c3,#b0b0b0,#d0d0d0,#616161,#b7b7b7,#999999,#ababab,#c5c5c5,#bbbbbb,#b3b3b3,#ebebeb,#949494,#c3c3c3,#8e8e8e,#c4c4c4,#9e9e9e,#b1b1b1,#c5c5c5,#a3a3a3,#c3c3c3,#cacaca,#b1b1b1,#e2e2e2,#9f9f9f,#838383,#c7c7c7,#949494,#adadad,#d5d5d5,#d2d2d2,#a7a7a7,#878787,#909090,#d9d9d9,#9d9d9d,#b5b5b5,#b1b1b1,#adadad,#767676,#cdcdcd,#b0b0b0,#a7a7a7,#afafaf,#aeaeae,#8b8b8b,#727272,#9e9e9e,#979797,#afafaf,#d0d0d0,#747474,#b7b7b7,#a2a2a2,#acacac,#e4e4e4,#a6a6a6,#8d8d8d,#a3a3a3,#d3d3d3,#7a7a7a,#747474,#9b9b9b,#8e8e8e,#b3b3b3,#b3b3b3)"></i><i style="background:linear-gradient(90deg,#b5b5b5,#b5b5b5,#9e9e9e,#dddddd,#bebebe,#878787,#c2c2c2,#c4c4c4,#a6a6a6,#bfbfbf,#a8a8a8,#b6b6b6,#c9c9c9,#ababab,#e9e9e9,#b5b5b5,#a0a0a0,#a4a4a4,#c1c1c1,#c9c9c9,#a0a0a0,#919191,#979797,#fefefe,#b6b6b6,#e7e7e7,#a6a6a6,#aeaeae,#9a9a9a,#979797,#919191,#8d8d8d,#c9c9c9,#b7b7b7,#878787,#fafafa,#cbcbcb,#929292,#9b9b9b,#d3d3d3,#b1b1b1,#b0b0b0,#b0b0b0,#d9d9d9,#acacac,#b8b8b8,#a0a0a0,#979797,#d2d2d2,#a8a8a8,#b2b2b2,#a6a6a6,#989898,#b0b0b0,#a2a2a2,#c1c1c1,#aeaeae,#898989,#d8d8d8,#adadad,#c2c2c2,#afafaf,#969696,#b9b9b9,#b0b0b0,#b0b0b0)"></i><i style="background:linear-gradient(90deg,#b7b7b7,#b7b7b7,#959595,#9f9f9f,#d9d9d9,#9e9e9e,#e4e4e4,#999999,#8d8d8d,#bababa,#adadad,#bfbfbf,#fefefe,#b2b2b2,#d1d1d1,#b3b3b3,#b1b1b1,#999999,#b5b5b5,#f8f8f8,#9a9a9a,#c2c2c2,#fefefe,#929292,#787878,#8b8b8b,#a7a7a7,#a7a7a7,#a8a8a8,#bbbbbb,#aeaeae,#f0f0f0,#bababa,#b9b9b9,#bababa,#6a6a6a,#b2b2b2,#c3c3c3,#c8c8c8,#8b8b8b,#b9b9b9,#ababab,#a2a2a2,#c4c4c4,#a0a0a0,#e7e7e7,#aeaeae,#c5c5c5,#c3c3c3,#bbbbbb,#999999,#979797,#adadad,#bbbbbb,#8f8f8f,#9f9f9f,#a2a2a2,#a1a1a1,#a4a4a4,#939393,#b2b2b2,#b7b7b7,#a4a4a4,#3f3f3f,#d2d2d2,#d2d2d2)"></i><i style="background:linear-gradient(90deg,#ffffff,#ffffff,#b5b5b5,#a1a1a1,#a6a6a6,#969696,#cdcdcd,#989898,#b5b5b5,#bfbfbf,#a2a2a2,#bdbdbd,#dddddd,#818181,#c6c6c6,#c3c3c3,#9c9c9c,#aaaaaa,#cfcfcf,#acacac,#a1a1a1,#979797,#9c9c9c,#dedede,#bfbfbf,#9e9e9e,#c9c9c9,#c1c1c1,#a3a3a3,#a3a3a3,#b6b6b6,#b7b7b7,#6f6f6f,#adadad,#898989,#d0d0d0,#bbbbbb,#a5a5a5,#cfcfcf,#9f9f9f,#9d9d9d,#9e9e9e,#a6a6a6,#7d7d7d,#adadad,#ababab,#b4b4b4,#b2b2b2,#6e6e6e,#bebebe,#a1a1a1,#b7b7b7,#dadada,#cccccc,#d0d0d0,#8d8d8d,#a5a5a5,#a9a9a9,#686868,#6b6b6b,#848484,#c8c8c8,#b5b5b5,#999999,#979797,#979797)"></i><i style="background:linear-gradient(90deg,#f9f9f9,#f9f9f9,#e9e9e9,#cecece,#888888,#c7c7c7,#c6c6c6,#6e6e6e,#898989,#b8b8b8,#9a9a9a,#818181,#b9b9b9,#c7c7c7,#adadad,#d8d8d8,#cacaca,#a1a1a1,#858585,#c7c7c7,#eaeaea,#999999,#c7c7c7,#b9b9b9,#ababab,#858585,#9d9d9d,#b1b1b1,#aaaaaa,#d7d7d7,#c7c7c7,#cfcfcf,#cbcbcb,#989898,#cecece,#989898,#949494,#cacaca,#bbbbbb,#aaaaaa,#646464,#949494,#b2b2b2,#8d8d8d,#cbcbcb,#ffffff,#707070,#959595,#8a8a8a,#6a6a6a,#d8d8d8,#a9a9a9,#999999,#838383,#9e9e9e,#ffffff,#e3e3e3,#8a8a8a,#949494,#b8b8b8,#b0b0b0,#d4d4d4,#767676,#a3a3a3,#c3c3c3,#c3c3c3)"></i><i style="background:linear-gradient(90deg,#4c4c4c,#4c4c4c,#ababab,#909090,#a2a2a2,#c3c3c3,#a9a9a9,#e0e0e0,#848484,#838383,#c3c3c3,#d1d1d1,#c0c0c0,#bdbdbd,#a3a3a3,#a4a4a4,#9a9a9a,#9c9c9c,#848484,#bababa,#989898,#aaaaaa,#9a9a9a,#c6c6c6,#cecece,#9a9a9a,#a1a1a1,#9c9c9c,#8f8f8f,#8a8a8a,#c0c0c0,#8c8c8c,#c1c1c1,#bdbdbd,#bfbfbf,#9c9c9c,#a3a3a3,#acacac,#a5a5a5,#858585,#cbcbcb,#cbcbcb,#afafaf,#aeaeae,#cfcfcf,#969696,#e2e2e2,#8d8d8d,#a0a0a0,#c0c0c0,#c6c6c6,#626262,#afafaf,#a0a0a0,#737373,#9d9d9d,#dadada,#b1b1b1,#909090,#c8c8c8,#b4b4b4,#aaaaaa,#b5b5b5,#aaaaaa,#959595,#959595)"></i><i style="background:linear-gradient(90deg,#f4f4f4,#f4f4f4,#c5c5c5,#c5c5c5,#898989,#949494,#b2b2b2,#d1d1d1,#ababab,#e4e4e4,#373737,#f3f3f3,#9f9f9f,#676767,#b4b4b4,#a9a9a9,#8c8c8c,#939393,#d4d4d4,#e0e0e0,#a1a1a1,#aeaeae,#838383,#bdbdbd,#a3a3a3,#aeaeae,#d5d5d5,#bdbdbd,#868686,#cdcdcd,#707070,#8e8e8e,#cccccc,#737373,#b8b8b8,#e1e1e1,#8c8c8c,#d0d0d0,#929292,#969696,#a6a6a6,#ffffff,#aeaeae,#929292,#cfcfcf,#616161,#cbcbcb,#b6b6b6,#b1b1b1,#cdcdcd,#949494,#a5a5a5,#d3d3d3,#b9b9b9,#bebebe,#f3f3f3,#b0b0b0,#a2a2a2,#909090,#ababab,#717171,#a6a6a6,#4c4c4c,#aaaaaa,#adadad,#adadad)"></i><i style="background:linear-gradient(90deg,#cfcfcf,#cfcfcf,#9f9f9f,#d3d3d3,#d9d9d9,#b4b4b4,#c5c5c5,#bbbbbb,#bdbdbd,#bdbdbd,#bebebe,#b1b1b1,#a4a4a4,#e8e8e8,#a7a7a7,#b9b9b9,#f2f2f2,#b3b3b3,#b7b7b7,#a7a7a7,#afafaf,#9e9e9e,#979797,#aeaeae,#989898,#b8b8b8,#989898,#919191,#a6a6a6,#dedede,#9d9d9d,#b7b7b7,#d8d8d8,#888888,#bdbdbd,#b1b1b1,#b3b3b3,#c4c4c4,#acacac,#909090,#bcbcbc,#adadad,#d9d9d9,#b0b0b0,#a6a6a6,#bababa,#bababa,#959595,#979797,#c3c3c3,#a3a3a3,#a2a2a2,#bababa,#b5b5b5,#a5a5a5,#a4a4a4,#6c6c6c,#a1a1a1,#9c9c9c,#8f8f8f,#9d9d9d,#dbdbdb,#9f9f9f,#b8b8b8,#b8b8b8,#b8b8b8)"></i><i style="background:linear-gradient(90deg,#c0c0c0,#c0c0c0,#b4b4b4,#ababab,#808080,#969696,#c2c2c2,#bdbdbd,#b4b4b4,#cacaca,#767676,#7e7e7e,#d0d0d0,#dedede,#b9b9b9,#c0c0c0,#cacaca,#d0d0d0,#b7b7b7,#d6d6d6,#bfbfbf,#909090,#888888,#a4a4a4,#a7a7a7,#bababa,#8d8d8d,#cbcbcb,#9b9b9b,#d8d8d8,#d1d1d1,#dfdfdf,#969696,#bcbcbc,#b9b9b9,#9f9f9f,#828282,#aeaeae,#5e5e5e,#b8b8b8,#a2a2a2,#c7c7c7,#7f7f7f,#9b9b9b,#9b9b9b,#8d8d8d,#bababa,#b6b6b6,#cccccc,#a7a7a7,#9f9f9f,#646464,#9a9a9a,#b8b8b8,#bebebe,#c3c3c3,#fafafa,#c0c0c0,#9b9b9b,#f0f0f0,#b7b7b7,#a1a1a1,#b0b0b0,#b9b9b9,#ababab,#ababab)"></i><i style="background:linear-gradient(90deg,#7f7f7f,#7f7f7f,#a9a9a9,#989898,#a6a6a6,#b0b0b0,#bfbfbf,#cccccc,#9e9e9e,#9f9f9f,#cccccc,#c6c6c6,#9e9e9e,#afafaf,#b3b3b3,#858585,#bfbfbf,#9c9c9c,#9c9c9c,#fefefe,#e0e0e0,#767676,#898989,#acacac,#b7b7b7,#acacac,#929292,#bfbfbf,#989898,#848484,#8b8b8b,#757575,#c8c8c8,#c0c0c0,#c5c5c5,#b0b0b0,#dcdcdc,#a9a9a9,#bfbfbf,#ababab,#b4b4b4,#919191,#6d6d6d,#929292,#aaaaaa,#d6d6d6,#b5b5b5,#c6c6c6,#ececec,#9e9e9e,#9e9e9e,#979797,#e6e6e6,#bbbbbb,#b2b2b2,#ffffff,#aaaaaa,#949494,#cdcdcd,#adadad,#afafaf,#bababa,#747474,#9a9a9a,#9b9b9b,#9b9b9b)"></i><i style="background:linear-gradient(90deg,#adadad,#adadad,#dfdfdf,#eaeaea,#ececec,#929292,#f1f1f1,#e9e9e9,#d9d9d9,#cacaca,#b3b3b3,#d9d9d9,#aeaeae,#797979,#bbbbbb,#727272,#a9a9a9,#aeaeae,#818181,#cacaca,#a6a6a6,#8a8a8a,#9d9d9d,#a0a0a0,#adadad,#999999,#acacac,#bababa,#aaaaaa,#dddddd,#adadad,#a3a3a3,#b7b7b7,#a8a8a8,#6e6e6e,#b5b5b5,#aeaeae,#bfbfbf,#959595,#7c7c7c,#606060,#bcbcbc,#b3b3b3,#b5b5b5,#ffffff,#a4a4a4,#929292,#cfcfcf,#888888,#959595,#fafafa,#b2b2b2,#aaaaaa,#bbbbbb,#919191,#dadada,#787878,#9b9b9b,#7d7d7d,#a7a7a7,#e6e6e6,#d3d3d3,#c4c4c4,#adadad,#4c4c4c,#4c4c4c)"></i><i style="background:linear-gradient(90deg,#a3a3a3,#a3a3a3,#9d9d9d,#b2b2b2,#a8a8a8,#eeeeee,#929292,#c7c7c7,#e2e2e2,#a5a5a5,#929292,#cacaca,#737373,#8d8d8d,#a4a4a4,#8b8b8b,#7d7d7d,#898989,#ffffff,#d8d8d8,#cfcfcf,#e7e7e7,#a1a1a1,#7b7b7b,#949494,#b6b6b6,#ababab,#c0c0c0,#bbbbbb,#7e7e7e,#a3a3a3,#707070,#b6b6b6,#626262,#c6c6c6,#a8a8a8,#8e8e8e,#c9c9c9,#8e8e8e,#acacac,#e2e2e2,#969696,#676767,#858585,#aeaeae,#adadad,#a5a5a5,#9f9f9f,#b0b0b0,#cdcdcd,#9b9b9b,#b3b3b3,#808080,#777777,#dcdcdc,#949494,#717171,#a4a4a4,#a3a3a3,#969696,#c8c8c8,#e4e4e4,#9b9b9b,#a6a6a6,#bdbdbd,#bdbdbd)"></i><i style="background:linear-gradient(90deg,#a1a1a1,#a1a1a1,#666666,#929292,#a2a2a2,#f6f6f6,#7a7a7a,#c4c4c4,#8b8b8b,#c8c8c8,#959595,#c5c5c5,#eeeeee,#8a8a8a,#9d9d9d,#9a9a9a,#afafaf,#c6c6c6,#b3b3b3,#848484,#a6a6a6,#afafaf,#dcdcdc,#8e8e8e,#c6c6c6,#8f8f8f,#b7b7b7,#dcdcdc,#bebebe,#8b8b8b,#ebebeb,#b5b5b5,#8b8b8b,#a1a1a1,#9f9f9f,#c8c8c8,#d2d2d2,#828282,#b7b7b7,#939393,#c0c0c0,#797979,#b2b2b2,#c3c3c3,#c7c7c7,#c3c3c3,#dadada,#b2b2b2,#8c8c8c,#8b8b8b,#999999,#a3a3a3,#7c7c7c,#a2a2a2,#b4b4b4,#f3f3f3,#828282,#a5a5a5,#cacaca,#aeaeae,#d3d3d3,#acacac,#a5a5a5,#e1e1e1,#bfbfbf,#bfbfbf)"></i><i style="background:linear-gradient(90deg,#626262,#626262,#dedede,#a4a4a4,#878787,#d0d0d0,#e7e7e7,#c6c6c6,#8b8b8b,#a1a1a1,#acacac,#7e7e7e,#939393,#a6a6a6,#8c8c8c,#bbbbbb,#acacac,#a0a0a0,#a2a2a2,#b8b8b8,#a1a1a1,#9a9a9a,#8f8f8f,#959595,#c1c1c1,#bbbbbb,#a1a1a1,#ababab,#a2a2a2,#a3a3a3,#a6a6a6,#d5d5d5,#dadada,#828282,#afafaf,#7f7f7f,#bababa,#686868,#a6a6a6,#8a8a8a,#a7a7a7,#cdcdcd,#848484,#bdbdbd,#9c9c9c,#d3d3d3,#bfbfbf,#d7d7d7,#ebebeb,#919191,#cccccc,#9a9a9a,#c4c4c4,#f1f1f1,#939393,#747474,#888888,#959595,#a8a8a8,#bbbbbb,#d9d9d9,#a5a5a5,#a1a1a1,#c8c8c8,#757575,#757575)"></i><i style="background:linear-gradient(90deg,#dddddd,#dddddd,#b0b0b0,#b4b4b4,#b4b4b4,#ffffff,#bcbcbc,#888888,#c8c8c8,#808080,#b8b8b8,#a5a5a5,#949494,#a4a4a4,#868686,#d7d7d7,#bababa,#d6d6d6,#b8b8b8,#888888,#a7a7a7,#a1a1a1,#9c9c9c,#c5c5c5,#989898,#ababab,#a4a4a4,#adadad,#bdbdbd,#ececec,#bdbdbd,#818181,#898989,#848484,#a7a7a7,#afafaf,#a1a1a1,#c8c8c8,#c2c2c2,#878787,#8d8d8d,#bbbbbb,#e2e2e2,#c0c0c0,#b4b4b4,#d0d0d0,#949494,#959595,#707070,#a3a3a3,#b2b2b2,#656565,#a3a3a3,#d7d7d7,#ebebeb,#898989,#bdbdbd,#bcbcbc,#9b9b9b,#919191,#a5a5a5,#a3a3a3,#c5c5c5,#a2a2a2,#4c4c4c,#4c4c4c)"></i><i style="background:linear-gradient(90deg,#929292,#929292,#e5e5e5,#9b9b9b,#d0d0d0,#d9d9d9,#979797,#c3c3c3,#9a9a9a,#b2b2b2,#a9a9a9,#989898,#cdcdcd,#969696,#a3a3a3,#ababab,#969696,#989898,#595959,#a7a7a7,#bababa,#8f8f8f,#d4d4d4,#8b8b8b,#ffffff,#848484,#b7b7b7,#b0b0b0,#b1b1b1,#919191,#777777,#838383,#9f9f9f,#818181,#c8c8c8,#7a7a7a,#b8b8b8,#a6a6a6,#8f8f8f,#acacac,#dddddd,#939393,#cccccc,#9c9c9c,#afafaf,#b6b6b6,#767676,#959595,#909090,#9f9f9f,#acacac,#888888,#bcbcbc,#bbbbbb,#8a8a8a,#b6b6b6,#b7b7b7,#a5a5a5,#868686,#d7d7d7,#cdcdcd,#818181,#b4b4b4,#bcbcbc,#afafaf,#afafaf)"></i><i style="background:linear-gradient(90deg,#787878,#787878,#8a8a8a,#c0c0c0,#e4e4e4,#c9c9c9,#717171,#9d9d9d,#aeaeae,#c4c4c4,#b1b1b1,#b8b8b8,#f3f3f3,#8b8b8b,#808080,#cacaca,#b9b9b9,#888888,#8c8c8c,#b5b5b5,#c9c9c9,#e6e6e6,#b7b7b7,#848484,#949494,#898989,#efefef,#c5c5c5,#9f9f9f,#9f9f9f,#a5a5a5,#848484,#848484,#b1b1b1,#696969,#d6d6d6,#f8f8f8,#aaaaaa,#878787,#777777,#bebebe,#e5e5e5,#bfbfbf,#adadad,#bcbcbc,#d5d5d5,#a7a7a7,#a6a6a6,#acacac,#a2a2a2,#a4a4a4,#8d8d8d,#b1b1b1,#aeaeae,#979797,#7f7f7f,#acacac,#b1b1b1,#898989,#525252,#c6c6c6,#a8a8a8,#cfcfcf,#c2c2c2,#c6c6c6,#c6c6c6)"></i><i style="background:linear-gradient(90deg,#727272,#727272,#c3c3c3,#979797,#c9c9c9,#cbcbcb,#aaaaaa,#bababa,#dfdfdf,#a7a7a7,#9e9e9e,#ababab,#919191,#c8c8c8,#c7c7c7,#a1a1a1,#cfcfcf,#e3e3e3,#989898,#dfdfdf,#5a5a5a,#8e8e8e,#9c9c9c,#b6b6b6,#999999,#525252,#9b9b9b,#c9c9c9,#979797,#969696,#949494,#ababab,#acacac,#a3a3a3,#bababa,#6f6f6f,#a6a6a6,#767676,#a9a9a9,#8f8f8f,#cdcdcd,#9f9f9f,#989898,#8f8f8f,#7a7a7a,#a7a7a7,#e6e6e6,#979797,#cdcdcd,#939393,#fdfdfd,#8b8b8b,#cfcfcf,#f9f9f9,#c3c3c3,#969696,#e0e0e0,#a0a0a0,#8d8d8d,#e7e7e7,#9f9f9f,#c9c9c9,#b6b6b6,#b9b9b9,#b4b4b4,#b4b4b4)"></i><i style="background:linear-gradient(90deg,#262626,#262626,#898989,#7b7b7b,#c5c5c5,#d6d6d6,#aeaeae,#b0b0b0,#b3b3b3,#939393,#a0a0a0,#b6b6b6,#d6d6d6,#d1d1d1,#a5a5a5,#818181,#c3c3c3,#e3e3e3,#a3a3a3,#cbcbcb,#989898,#afafaf,#cfcfcf,#969696,#a2a2a2,#7e7e7e,#a3a3a3,#ececec,#9b9b9b,#b7b7b7,#848484,#9d9d9d,#a9a9a9,#989898,#a0a0a0,#a4a4a4,#aaaaaa,#a3a3a3,#8f8f8f,#9c9c9c,#929292,#929292,#a7a7a7,#959595,#dcdcdc,#9d9d9d,#c3c3c3,#c1c1c1,#d5d5d5,#868686,#808080,#d5d5d5,#a0a0a0,#777777,#c9c9c9,#d7d7d7,#fcfcfc,#d8d8d8,#b3b3b3,#a7a7a7,#b8b8b8,#989898,#d8d8d8,#a1a1a1,#c7c7c7,#c7c7c7)"></i><i style="background:linear-gradient(90deg,#b6b6b6,#b6b6b6,#707070,#a6a6a6,#949494,#a0a0a0,#b1b1b1,#ababab,#9c9c9c,#9e9e9e,#a5a5a5,#bfbfbf,#b0b0b0,#a4a4a4,#909090,#d2d2d2,#c9c9c9,#c3c3c3,#a2a2a2,#acacac,#9c9c9c,#959595,#d4d4d4,#919191,#878787,#adadad,#b0b0b0,#a3a3a3,#d2d2d2,#c6c6c6,#707070,#979797,#6d6d6d,#d1d1d1,#6a6a6a,#b6b6b6,#aeaeae,#626262,#b1b1b1,#bcbcbc,#9a9a9a,#9e9e9e,#b8b8b8,#c9c9c9,#adadad,#c7c7c7,#9c9c9c,#b4b4b4,#a1a1a1,#6b6b6b,#e5e5e5,#8c8c8c,#bbbbbb,#aeaeae,#c3c3c3,#808080,#afafaf,#bcbcbc,#a0a0a0,#b4b4b4,#7e7e7e,#c5c5c5,#b9b9b9,#a9a9a9,#929292,#929292)"></i><i style="background:linear-gradient(90deg,#bfbfbf,#bfbfbf,#dbdbdb,#c2c2c2,#a9a9a9,#919191,#b3b3b3,#c3c3c3,#7e7e7e,#979797,#bdbdbd,#cfcfcf,#ffffff,#cccccc,#b0b0b0,#cfcfcf,#828282,#b3b3b3,#a1a1a1,#979797,#c2c2c2,#979797,#5e5e5e,#8f8f8f,#cfcfcf,#7f7f7f,#b3b3b3,#979797,#adadad,#9f9f9f,#b5b5b5,#8f8f8f,#a2a2a2,#ffffff,#7a7a7a,#a6a6a6,#cecece,#838383,#e1e1e1,#9d9d9d,#a6a6a6,#7d7d7d,#d3d3d3,#b0b0b0,#c5c5c5,#dcdcdc,#b6b6b6,#f1f1f1,#aeaeae,#bbbbbb,#c6c6c6,#a8a8a8,#c0c0c0,#bababa,#969696,#e8e8e8,#dcdcdc,#bcbcbc,#d3d3d3,#b0b0b0,#cfcfcf,#747474,#d3d3d3,#b8b8b8,#c9c9c9,#c9c9c9)"></i><i style="background:linear-gradient(90deg,#efefef,#efefef,#c0c0c0,#acacac,#b1b1b1,#adadad,#9d9d9d,#797979,#a2a2a2,#8e8e8e,#d4d4d4,#818181,#c8c8c8,#8d8d8d,#bebebe,#adadad,#c5c5c5,#9d9d9d,#bdbdbd,#989898,#dbdbdb,#bebebe,#9f9f9f,#bbbbbb,#a7a7a7,#a2a2a2,#9f9f9f,#a0a0a0,#c8c8c8,#484848,#919191,#a9a9a9,#a2a2a2,#afafaf,#969696,#a9a9a9,#b5b5b5,#878787,#a1a1a1,#dadada,#6b6b6b,#999999,#8d8d8d,#a7a7a7,#909090,#cfcfcf,#a0a0a0,#a5a5a5,#a8a8a8,#e5e5e5,#cbcbcb,#a0a0a0,#858585,#999999,#dadada,#dddddd,#727272,#b4b4b4,#a5a5a5,#9d9d9d,#acacac,#afafaf,#d1d1d1,#a2a2a2,#adadad,#adadad)"></i><i style="background:linear-gradient(90deg,#4c4c4c,#4c4c4c,#858585,#878787,#898989,#858585,#898989,#b6b6b6,#9c9c9c,#a6a6a6,#bababa,#959595,#a8a8a8,#a9a9a9,#818181,#a1a1a1,#b8b8b8,#898989,#c1c1c1,#ffffff,#7e7e7e,#e5e5e5,#9e9e9e,#e6e6e6,#b9b9b9,#adadad,#d6d6d6,#aeaeae,#cacaca,#929292,#989898,#999999,#949494,#b0b0b0,#a5a5a5,#999999,#cfcfcf,#c1c1c1,#c9c9c9,#b8b8b8,#b2b2b2,#696969,#9e9e9e,#ffffff,#7c7c7c,#9d9d9d,#8f8f8f,#7a7a7a,#d4d4d4,#999999,#979797,#929292,#9e9e9e,#c4c4c4,#d0d0d0,#a6a6a6,#ffffff,#b9b9b9,#c1c1c1,#c6c6c6,#717171,#a6a6a6,#9f9f9f,#a7a7a7,#838383,#838383)"></i><i style="background:linear-gradient(90deg,#a7a7a7,#a7a7a7,#bababa,#c1c1c1,#969696,#b4b4b4,#858585,#bfbfbf,#c3c3c3,#dbdbdb,#bebebe,#dcdcdc,#d6d6d6,#8d8d8d,#909090,#d7d7d7,#888888,#bdbdbd,#b8b8b8,#818181,#9b9b9b,#7b7b7b,#a3a3a3,#929292,#c3c3c3,#8d8d8d,#c9c9c9,#a5a5a5,#8a8a8a,#bababa,#8e8e8e,#a7a7a7,#bdbdbd,#717171,#808080,#9c9c9c,#9b9b9b,#9c9c9c,#b1b1b1,#a3a3a3,#9f9f9f,#a5a5a5,#d2d2d2,#c7c7c7,#777777,#777777,#ffffff,#8e8e8e,#9d9d9d,#a3a3a3,#bebebe,#d4d4d4,#8d8d8d,#b4b4b4,#b5b5b5,#a5a5a5,#878787,#bcbcbc,#919191,#7c7c7c,#b1b1b1,#9d9d9d,#9a9a9a,#a7a7a7,#bdbdbd,#bdbdbd)"></i><i style="background:linear-gradient(90deg,#a3a3a3,#a3a3a3,#b4b4b4,#bcbcbc,#eaeaea,#9e9e9e,#6d6d6d,#b0b0b0,#9c9c9c,#dbdbdb,#eaeaea,#d3d3d3,#9d9d9d,#a1a1a1,#b1b1b1,#999999,#757575,#bcbcbc,#c0c0c0,#afafaf,#747474,#b8b8b8,#949494,#8c8c8c,#868686,#777777,#a0a0a0,#6f6f6f,#eeeeee,#6d6d6d,#a2a2a2,#a0a0a0,#b8b8b8,#d7d7d7,#cdcdcd,#8a8a8a,#c1c1c1,#c7c7c7,#dadada,#ffffff,#dbdbdb,#c4c4c4,#909090,#999999,#969696,#b5b5b5,#9a9a9a,#858585,#aaaaaa,#adadad,#bcbcbc,#b0b0b0,#a0a0a0,#979797,#a9a9a9,#e9e9e9,#9f9f9f,#c3c3c3,#d5d5d5,#989898,#afafaf,#b0b0b0,#eeeeee,#bbbbbb,#bbbbbb,#bbbbbb)"></i><i style="background:linear-gradient(90deg,#b8b8b8,#b8b8b8,#b0b0b0,#e6e6e6,#8e8e8e,#8d8d8d,#acacac,#bbbbbb,#969696,#b0b0b0,#ababab,#808080,#b0b0b0,#979797,#efefef,#f5f5f5,#8c8c8c,#bdbdbd,#808080,#a6a6a6,#a8a8a8,#b6b6b6,#a3a3a3,#797979,#b8b8b8,#9e9e9e,#858585,#a7a7a7,#959595,#ededed,#8a8a8a,#ababab,#e7e7e7,#727272,#a6a6a6,#919191,#a6a6a6,#f0f0f0,#969696,#adadad,#a8a8a8,#929292,#868686,#c0c0c0,#9d9d9d,#7e7e7e,#a3a3a3,#b2b2b2,#b9b9b9,#828282,#787878,#9d9d9d,#878787,#b1b1b1,#787878,#b3b3b3,#b0b0b0,#a8a8a8,#adadad,#afafaf,#c2c2c2,#ababab,#767676,#f2f2f2,#a2a2a2,#a2a2a2)"></i><i style="background:linear-gradient(90deg,#c9c9c9,#c9c9c9,#818181,#cfcfcf,#cccccc,#aeaeae,#bebebe,#a9a9a9,#888888,#cecece,#cfcfcf,#acacac,#9f9f9f,#bababa,#b3b3b3,#dbdbdb,#b2b2b2,#bababa,#9d9d9d,#959595,#a0a0a0,#fdfdfd,#b3b3b3,#bcbcbc,#9b9b9b,#bababa,#929292,#878787,#979797,#d9d9d9,#efefef,#b5b5b5,#9f9f9f,#a3a3a3,#7d7d7d,#8e8e8e,#909090,#bababa,#aeaeae,#9f9f9f,#9f9f9f,#d3d3d3,#d8d8d8,#acacac,#a3a3a3,#e3e3e3,#bfbfbf,#ababab,#ededed,#999999,#737373,#a3a3a3,#e2e2e2,#8d8d8d,#bfbfbf,#c6c6c6,#8f8f8f,#c5c5c5,#adadad,#bfbfbf,#a3a3a3,#a2a2a2,#9b9b9b,#acacac,#9e9e9e,#9e9e9e)"></i><i style="background:linear-gradient(90deg,#a5a5a5,#a5a5a5,#c3c3c3,#888888,#dbdbdb,#8f8f8f,#bababa,#d5d5d5,#f0f0f0,#b0b0b0,#afafaf,#dbdbdb,#7d7d7d,#bbbbbb,#bdbdbd,#a8a8a8,#ffffff,#dbdbdb,#9a9a9a,#9a9a9a,#f1f1f1,#bababa,#9f9f9f,#adadad,#c2c2c2,#979797,#a8a8a8,#9e9e9e,#cdcdcd,#bdbdbd,#c7c7c7,#cccccc,#a3a3a3,#dadada,#c7c7c7,#c0c0c0,#8e8e8e,#989898,#b9b9b9,#a3a3a3,#959595,#adadad,#919191,#aaaaaa,#b6b6b6,#a1a1a1,#a1a1a1,#707070,#bfbfbf,#d5d5d5,#cfcfcf,#9f9f9f,#bdbdbd,#e4e4e4,#e1e1e1,#c3c3c3,#a8a8a8,#d1d1d1,#cccccc,#ededed,#cacaca,#e4e4e4,#c9c9c9,#b9b9b9,#949494,#949494)"></i><i style="background:linear-gradient(90deg,#8f8f8f,#8f8f8f,#dfdfdf,#a8a8a8,#bcbcbc,#9a9a9a,#cdcdcd,#aeaeae,#898989,#a3a3a3,#d8d8d8,#919191,#b4b4b4,#808080,#a3a3a3,#959595,#bbbbbb,#999999,#bbbbbb,#a2a2a2,#8b8b8b,#c2c2c2,#858585,#bcbcbc,#838383,#858585,#7e7e7e,#aaaaaa,#8f8f8f,#c0c0c0,#838383,#828282,#9d9d9d,#d7d7d7,#b0b0b0,#b5b5b5,#b9b9b9,#989898,#999999,#9c9c9c,#656565,#959595,#c1c1c1,#7a7a7a,#d1d1d1,#b5b5b5,#b4b4b4,#b4b4b4,#cacaca,#dedede,#b9b9b9,#9b9b9b,#afafaf,#aeaeae,#cacaca,#d3d3d3,#b7b7b7,#dcdcdc,#808080,#dedede,#7e7e7e,#bfbfbf,#ababab,#d7d7d7,#b8b8b8,#b8b8b8)"></i><i style="background:linear-gradient(90deg,#b8b8b8,#b8b8b8,#dadada,#9c9c9c,#8d8d8d,#919191,#c7c7c7,#919191,#b9b9b9,#8e8e8e,#a8a8a8,#9a9a9a,#d3d3d3,#adadad,#6d6d6d,#d1d1d1,#ababab,#a7a7a7,#dadada,#b0b0b0,#aaaaaa,#ababab,#939393,#979797,#c6c6c6,#8c8c8c,#d6d6d6,#eeeeee,#7f7f7f,#a6a6a6,#d6d6d6,#bfbfbf,#b4b4b4,#a6a6a6,#999999,#999999,#8e8e8e,#959595,#c2c2c2,#e5e5e5,#9c9c9c,#898989,#b5b5b5,#acacac,#979797,#dbdbdb,#a7a7a7,#ababab,#848484,#aeaeae,#b5b5b5,#a2a2a2,#7e7e7e,#cdcdcd,#bbbbbb,#bcbcbc,#a8a8a8,#8c8c8c,#a3a3a3,#6a6a6a,#cacaca,#a4a4a4,#929292,#a6a6a6,#dfdfdf,#dfdfdf)"></i><i style="background:linear-gradient(90deg,#b5b5b5,#b5b5b5,#b9b9b9,#e6e6e6,#bebebe,#dedede,#acacac,#919191,#adadad,#c4c4c4,#a7a7a7,#8c8c8c,#c7c7c7,#808080,#c6c6c6,#ababab,#aeaeae,#8b8b8b,#b2b2b2,#a7a7a7,#a9a9a9,#b6b6b6,#a8a8a8,#6a6a6a,#bebebe,#c1c1c1,#a1a1a1,#939393,#a9a9a9,#c8c8c8,#868686,#9e9e9e,#898989,#9a9a9a,#b1b1b1,#828282,#b0b0b0,#a4a4a4,#a8a8a8,#cccccc,#9b9b9b,#8f8f8f,#a9a9a9,#b0b0b0,#a6a6a6,#a2a2a2,#8d8d8d,#9e9e9e,#b7b7b7,#696969,#dbdbdb,#999999,#d0d0d0,#999999,#b4b4b4,#b3b3b3,#e1e1e1,#c9c9c9,#a2a2a2,#b8b8b8,#bbbbbb,#b6b6b6,#808080,#919191,#acacac,#acacac)"></i><i style="background:linear-gradient(90deg,#929292,#929292,#a8a8a8,#a4a4a4,#d7d7d7,#818181,#c0c0c0,#848484,#a0a0a0,#b8b8b8,#a2a2a2,#898989,#c8c8c8,#bbbbbb,#b8b8b8,#c2c2c2,#d1d1d1,#b0b0b0,#b8b8b8,#9e9e9e,#939393,#acacac,#b0b0b0,#a5a5a5,#bbbbbb,#a2a2a2,#bababa,#b0b0b0,#848484,#888888,#acacac,#898989,#9d9d9d,#c0c0c0,#a1a1a1,#a0a0a0,#afafaf,#969696,#c3c3c3,#bababa,#9a9a9a,#ababab,#acacac,#888888,#b6b6b6,#777777,#818181,#a9a9a9,#a6a6a6,#9e9e9e,#ffffff,#a7a7a7,#9e9e9e,#b7b7b7,#666666,#9b9b9b,#ffffff,#c1c1c1,#c6c6c6,#545454,#797979,#b0b0b0,#cbcbcb,#a5a5a5,#a2a2a2,#a2a2a2)"></i><i style="background:linear-gradient(90deg,#acacac,#acacac,#a4a4a4,#939393,#bbbbbb,#cccccc,#cdcdcd,#b8b8b8,#949494,#ececec,#777777,#9b9b9b,#c0c0c0,#999999,#adadad,#868686,#b9b9b9,#8b8b8b,#a4a4a4,#c2c2c2,#cbcbcb,#c7c7c7,#b8b8b8,#a3a3a3,#e6e6e6,#d0d0d0,#acacac,#818181,#a7a7a7,#767676,#c5c5c5,#d7d7d7,#636363,#8c8c8c,#999999,#bfbfbf,#a0a0a0,#a4a4a4,#919191,#b5b5b5,#e4e4e4,#a2a2a2,#b7b7b7,#a6a6a6,#a5a5a5,#b2b2b2,#efefef,#aeaeae,#b0b0b0,#b9b9b9,#a2a2a2,#848484,#9d9d9d,#fafafa,#c9c9c9,#8b8b8b,#808080,#b7b7b7,#dedede,#909090,#b2b2b2,#d2d2d2,#ababab,#dcdcdc,#a7a7a7,#a7a7a7)"></i><i style="background:linear-gradient(90deg,#8b8b8b,#8b8b8b,#afafaf,#d9d9d9,#c3c3c3,#bfbfbf,#bdbdbd,#b1b1b1,#ffffff,#9e9e9e,#e7e7e7,#a4a4a4,#959595,#dcdcdc,#c1c1c1,#d0d0d0,#ababab,#f9f9f9,#9a9a9a,#7d7d7d,#9f9f9f,#808080,#9c9c9c,#6f6f6f,#8d8d8d,#a5a5a5,#dedede,#d1d1d1,#fdfdfd,#b4b4b4,#adadad,#909090,#747474,#d9d9d9,#979797,#aeaeae,#8f8f8f,#d2d2d2,#e9e9e9,#a2a2a2,#929292,#bbbbbb,#a4a4a4,#dcdcdc,#d5d5d5,#c0c0c0,#888888,#d1d1d1,#9b9b9b,#a3a3a3,#d0d0d0,#cecece,#979797,#f5f5f5,#e9e9e9,#afafaf,#cacaca,#a4a4a4,#a5a5a5,#949494,#a5a5a5,#9f9f9f,#767676,#dcdcdc,#adadad,#adadad)"></i><i style="background:linear-gradient(90deg,#a3a3a3,#a3a3a3,#c3c3c3,#a5a5a5,#d0d0d0,#b1b1b1,#aaaaaa,#939393,#d5d5d5,#adadad,#b1b1b1,#969696,#b8b8b8,#898989,#a0a0a0,#818181,#888888,#a2a2a2,#a2a2a2,#c8c8c8,#bcbcbc,#969696,#c0c0c0,#c6c6c6,#cecece,#d6d6d6,#6e6e6e,#737373,#bdbdbd,#9f9f9f,#a6a6a6,#686868,#bebebe,#e0e0e0,#cbcbcb,#ffffff,#bbbbbb,#9b9b9b,#b7b7b7,#939393,#afafaf,#9c9c9c,#ffffff,#9c9c9c,#bfbfbf,#9a9a9a,#c4c4c4,#cccccc,#bdbdbd,#c8c8c8,#c4c4c4,#8e8e8e,#bdbdbd,#a4a4a4,#cecece,#9b9b9b,#8c8c8c,#a8a8a8,#a9a9a9,#bababa,#b8b8b8,#fcfcfc,#c8c8c8,#cccccc,#c7c7c7,#c7c7c7)"></i><i style="background:linear-gradient(90deg,#cecece,#cecece,#acacac,#9f9f9f,#989898,#e9e9e9,#9b9b9b,#a1a1a1,#f7f7f7,#848484,#afafaf,#c7c7c7,#a5a5a5,#b0b0b0,#d8d8d8,#a4a4a4,#afafaf,#a0a0a0,#dddddd,#b2b2b2,#cecece,#c0c0c0,#8d8d8d,#acacac,#9a9a9a,#ffffff,#eaeaea,#c1c1c1,#828282,#858585,#c9c9c9,#999999,#e9e9e9,#9b9b9b,#979797,#d6d6d6,#b4b4b4,#919191,#bdbdbd,#aeaeae,#bababa,#787878,#838383,#9e9e9e,#a6a6a6,#c1c1c1,#9b9b9b,#8b8b8b,#e7e7e7,#c0c0c0,#b4b4b4,#a5a5a5,#e6e6e6,#939393,#919191,#c5c5c5,#ececec,#b7b7b7,#989898,#969696,#d8d8d8,#c5c5c5,#b9b9b9,#c5c5c5,#a5a5a5,#a5a5a5)"></i><i style="background:linear-gradient(90deg,#7a7a7a,#7a7a7a,#a5a5a5,#a1a1a1,#b1b1b1,#f5f5f5,#a4a4a4,#b2b2b2,#b3b3b3,#939393,#bbbbbb,#bdbdbd,#b3b3b3,#ababab,#e4e4e4,#a7a7a7,#8c8c8c,#9e9e9e,#9e9e9e,#9a9a9a,#999999,#a3a3a3,#919191,#8f8f8f,#a6a6a6,#a9a9a9,#a5a5a5,#b7b7b7,#d3d3d3,#cacaca,#acacac,#9b9b9b,#e8e8e8,#8a8a8a,#d8d8d8,#9f9f9f,#b1b1b1,#959595,#979797,#b4b4b4,#888888,#cacaca,#bdbdbd,#a7a7a7,#989898,#c1c1c1,#a1a1a1,#757575,#cecece,#b7b7b7,#d0d0d0,#a6a6a6,#999999,#c7c7c7,#a1a1a1,#a0a0a0,#9b9b9b,#a3a3a3,#b0b0b0,#818181,#e8e8e8,#9d9d9d,#b5b5b5,#9a9a9a,#939393,#939393)"></i><i style="background:linear-gradient(90deg,#7a7a7a,#7a7a7a,#a5a5a5,#a1a1a1,#b1b1b1,#f5f5f5,#a4a4a4,#b2b2b2,#b3b3b3,#939393,#bbbbbb,#bdbdbd,#b3b3b3,#ababab,#e4e4e4,#a7a7a7,#8c8c8c,#9e9e9e,#9e9e9e,#9a9a9a,#999999,#a3a3a3,#919191,#8f8f8f,#a6a6a6,#a9a9a9,#a5a5a5,#b7b7b7,#d3d3d3,#cacaca,#acacac,#9b9b9b,#e8e8e8,#8a8a8a,#d8d8d8,#9f9f9f,#b1b1b1,#959595,#979797,#b4b4b4,#888888,#cacaca,#bdbdbd,#a7a7a7,#989898,#c1c1c1,#a1a1a1,#757575,#cecece,#b7b7b7,#d0d0d0,#a6a6a6,#999999,#c7c7c7,#a1a1a1,#a0a0a0,#9b9b9b,#a3a3a3,#b0b0b0,#818181,#e8e8e8,#9d9d9d,#b5b5b5,#9a9a9a,#939393,#939393)"></i></div><div class="o" style="left:167px;top:45px;width:14px;height:8px;background:#053061"></div><div class="o" style="left:160px;top:52px;width:9px;height:21px;background:#053061"></div><div class="o" style="left:168px;top:52px;width:13px;height:21px;background:#67001f"></div><div class="o" style="left:309px;top:152px;width:14px;height:14px;background:#053061"></div><div class="o" style="left:301px;top:144px;width:15px;height:15px;background:#67001f;border-radius:0 0 7px 0"></div><div class="o" style="left:323px;top:152px;width:21px;height:10px;background:#67001f"></div><div class="o" style="left:323px;top:160px;width:7px;height:6px;background:#67001f"></div><div class="o" style="left:330px;top:162px;width:14px;height:11px;background:#053061"></div><div class="o" style="left:231px;top:31px;width:14px;height:14px;background:#67001f"></div><div class="o" style="left:131px;top:116px;width:14px;height:14px;background:#67001f"></div><div class="o" style="left:82px;top:137px;width:14px;height:15px;background:#67001f"></div><div class="o" style="left:238px;top:201px;width:14px;height:14px;background:#67001f"></div><div class="o" style="left:330px;top:180px;width:14px;height:14px;background:#67001f"></div><div class="o" style="left:153px;top:308px;width:14px;height:14px;background:#053061"></div><div class="o" style="left:344px;top:322px;width:14px;height:14px;background:#053061"></div><div class="o" style="left:96px;top:442px;width:14px;height:12px;background:#67001f"></div><div class="o" style="left:174px;top:442px;width:14px;height:12px;background:#053061"></div><div class="o" style="left:273px;top:442px;width:14px;height:12px;background:#67001f"></div></div>
<div class="p" style="left:2397px"><div class="g" style="filter:url(#c4)"><i style="background:linear-gradient(90deg,#5d5d5d,#5d5d5d,#797979,#898989,#404040,#868686,#858585,#979797,#8e8e8e,#949494,#d5d5d5,#bababa,#828282,#9e9e9e,#636363,#5c5c5c,#767676,#808080,#575757,#868686,#8d8d8d,#515151,#6f6f6f,#424242,#212121,#1a1a1a,#1a1a1a,#212121,#333333,#6d6d6d,#989898,#4f4f4f,#909090,#8f8f8f,#888888,#545454,#9e9e9e,#a5a5a5,#808080,#8b8b8b,#696969,#666666,#878787,#acacac,#929292,#262626,#858585,#969696,#535353,#5c5c5c,#858585,#c9c9c9,#2f2f2f,#787878,#838383,#797979,#929292,#979797,#333333,#5a5a5a,#777777,#bbbbbb,#646464,#666666,#9b9b9b,#9b9b9b)"></i><i style="background:linear-gradient(90deg,#5d5d5d,#5d5d5d,#797979,#898989,#404040,#868686,#858585,#979797,#8e8e8e,#949494,#d5d5d5,#bababa,#828282,#9e9e9e,#636363,#5c5c5c,#767676,#808080,#575757,#868686,#8d8d8d,#515151,#6f6f6f,#424242,#212121,#1a1a1a,#1a1a1a,#212121,#333333,#6d6d6d,#989898,#4f4f4f,#909090,#8f8f8f,#888888,#545454,#9e9e9e,#a5a5a5,#808080,#8b8b8b,#696969,#666666,#878787,#acacac,#929292,#262626,#858585,#969696,#535353,#5c5c5c,#858585,#c9c9c9,#2f2f2f,#787878,#838383,#797979,#929292,#979797,#333333,#5a5a5a,#777777,#bbbbbb,#646464,#666666,#9b9b9b,#9b9b9b)"></i><i style="background:linear-gradient(90deg,#2b2b2b,#2b2b2b,#7a7a7a,#898989,#939393,#919191,#777777,#a8a8a8,#a0a0a0,#9a9a9a,#929292,#737373,#7a7a7a,#818181,#7c7c7c,#7d7d7d,#5d5d5d,#757575,#727272,#a6a6a6,#707070,#616161,#8d8d8d,#414141,#737373,#646464,#b4b4b4,#787878,#4d4d4d,#8e8e8e,#767676,#7b7b7b,#7d7d7d,#5b5b5b,#4c4c4c,#717171,#939393,#838383,#797979,#7a7a7a,#8d8d8d,#535353,#ababab,#b2b2b2,#a7a7a7,#8b8b8b,#838383,#848484,#8c8c8c,#5c5c5c,#5c5c5c,#5f5f5f,#4a4a4a,#8d8d8d,#656565,#929292,#787878,#9b9b9b,#b2b2b2,#777777,#606060,#414141,#8e8e8e,#8b8b8b,#4a4a4a,#4a4a4a)"></i><i style="background:linear-gradient(90deg,#d9d9d9,#d9d9d9,#454545,#686868,#737373,#646464,#8d8d8d,#737373,#a3a3a3,#4d4d4d,#5d5d5d,#c4c4c4,#747474,#3c3c3c,#505050,#3e3e3e,#838383,#949494,#383838,#828282,#858585,#959595,#848484,#8f8f8f,#4b4b4b,#727272,#7d7d7d,#303030,#a3a3a3,#a3a3a3,#7a7a7a,#a6a6a6,#b0b0b0,#a0a0a0,#696969,#767676,#808080,#5c5c5c,#6e6e6e,#717171,#646464,#787878,#606060,#959595,#636363,#858585,#787878,#717171,#626262,#969696,#666666,#828282,#6c6c6c,#525252,#808080,#656565,#8f8f8f,#8b8b8b,#5b5b5b,#6b6b6b,#636363,#5b5b5b,#7e7e7e,#535353,#797979,#797979)"></i><i style="background:linear-gradient(90deg,#505050,#505050,#606060,#565656,#515151,#818181,#888888,#858585,#929292,#8d8d8d,#bbbbbb,#c6c6c6,#8e8e8e,#9f9f9f,#3e3e3e,#979797,#767676,#888888,#4f4f4f,#7f7f7f,#8e8e8e,#9c9c9c,#9c9c9c,#606060,#585858,#727272,#626262,#737373,#6e6e6e,#737373,#ababab,#8b8b8b,#999999,#a5a5a5,#6e6e6e,#929292,#6a6a6a,#b2b2b2,#b2b2b2,#727272,#c2c2c2,#a6a6a6,#878787,#7c7c7c,#858585,#515151,#8c8c8c,#959595,#5d5d5d,#595959,#7b7b7b,#828282,#909090,#8f8f8f,#818181,#828282,#707070,#3f3f3f,#656565,#ababab,#e2e2e2,#686868,#5f5f5f,#616161,#6d6d6d,#6d6d6d)"></i><i style="background:linear-gradient(90deg,#555555,#555555,#787878,#5e5e5e,#797979,#5d5d5d,#989898,#a6a6a6,#838383,#7c7c7c,#4e4e4e,#818181,#737373,#8c8c8c,#7c7c7c,#939393,#797979,#6e6e6e,#7e7e7e,#5b5b5b,#939393,#838383,#b4b4b4,#d1d1d1,#8e8e8e,#bababa,#666666,#888888,#5d5d5d,#7d7d7d,#959595,#c0c0c0,#a8a8a8,#7e7e7e,#b4b4b4,#848484,#9a9a9a,#868686,#dedede,#a9a9a9,#7c7c7c,#929292,#7f7f7f,#898989,#5d5d5d,#5c5c5c,#7d7d7d,#7c7c7c,#606060,#848484,#8f8f8f,#8b8b8b,#777777,#949494,#a2a2a2,#636363,#6c6c6c,#343434,#4f4f4f,#757575,#7b7b7b,#979797,#c7c7c7,#8e8e8e,#6d6d6d,#6d6d6d)"></i><i style="background:linear-gradient(90deg,#ffffff,#ffffff,#535353,#828282,#666666,#696969,#414141,#929292,#6c6c6c,#4e4e4e,#8d8d8d,#a6a6a6,#9e9e9e,#7b7b7b,#969696,#727272,#747474,#6f6f6f,#494949,#797979,#676767,#898989,#919191,#757575,#797979,#7c7c7c,#858585,#949494,#aeaeae,#5f5f5f,#050505,#868686,#858585,#a7a7a7,#777777,#2b2b2b,#d9d9d9,#a2a2a2,#6b6b6b,#acacac,#6f6f6f,#a5a5a5,#9b9b9b,#898989,#808080,#a0a0a0,#808080,#7e7e7e,#707070,#888888,#3f3f3f,#828282,#606060,#787878,#808080,#c1c1c1,#868686,#757575,#757575,#868686,#767676,#898989,#9c9c9c,#575757,#7e7e7e,#7e7e7e)"></i><i style="background:linear-gradient(90deg,#909090,#909090,#9d9d9d,#8a8a8a,#3d3d3d,#545454,#c6c6c6,#6a6a6a,#838383,#5a5a5a,#525252,#848484,#888888,#9d9d9d,#787878,#767676,#7a7a7a,#656565,#626262,#777777,#8e8e8e,#8f8f8f,#979797,#a3a3a3,#878787,#7f7f7f,#838383,#696969,#e6e6e6,#6b6b6b,#5c5c5c,#b9b9b9,#8d8d8d,#a9a9a9,#929292,#6f6f6f,#c5c5c5,#878787,#7a7a7a,#8d8d8d,#898989,#616161,#777777,#707070,#676767,#404040,#717171,#686868,#6b6b6b,#7d7d7d,#7e7e7e,#666666,#717171,#737373,#b4b4b4,#a9a9a9,#6e6e6e,#a1a1a1,#818181,#898989,#575757,#5e5e5e,#898989,#949494,#818181,#818181)"></i><i style="background:linear-gradient(90deg,#262626,#262626,#727272,#797979,#7d7d7d,#838383,#424242,#818181,#8c8c8c,#858585,#717171,#767676,#9d9d9d,#b2b2b2,#666666,#a2a2a2,#909090,#545454,#848484,#898989,#888888,#8b8b8b,#a9a9a9,#575757,#b0b0b0,#6d6d6d,#767676,#989898,#868686,#5d5d5d,#9a9a9a,#838383,#565656,#9b9b9b,#717171,#6a6a6a,#747474,#505050,#777777,#777777,#777777,#717171,#949494,#5b5b5b,#797979,#909090,#7b7b7b,#9e9e9e,#bbbbbb,#797979,#878787,#666666,#696969,#4e4e4e,#aeaeae,#989898,#9f9f9f,#565656,#777777,#838383,#808080,#6d6d6d,#979797,#858585,#333333,#333333)"></i><i style="background:linear-gradient(90deg,#7d7d7d,#7d7d7d,#a4a4a4,#636363,#636363,#adadad,#555555,#888888,#6e6e6e,#8b8b8b,#8b8b8b,#8a8a8a,#b6b6b6,#b1b1b1,#676767,#545454,#a7a7a7,#888888,#8a8a8a,#898989,#717171,#696969,#575757,#8a8a8a,#7f7f7f,#717171,#a2a2a2,#626262,#767676,#727272,#575757,#6b6b6b,#7a7a7a,#636363,#636363,#707070,#737373,#444444,#525252,#6f6f6f,#6f6f6f,#707070,#4a4a4a,#616161,#868686,#6c6c6c,#7b7b7b,#a5a5a5,#7e7e7e,#909090,#9f9f9f,#666666,#9b9b9b,#9e9e9e,#6e6e6e,#a2a2a2,#cbcbcb,#8c8c8c,#616161,#717171,#878787,#8a8a8a,#969696,#686868,#636363,#636363)"></i><i style="background:linear-gradient(90deg,#8e8e8e,#8e8e8e,#6c6c6c,#a9a9a9,#656565,#757575,#8d8d8d,#838383,#666666,#767676,#6f6f6f,#6a6a6a,#646464,#5f5f5f,#9c9c9c,#8d8d8d,#7d7d7d,#727272,#939393,#898989,#646464,#7a7a7a,#adadad,#999999,#757575,#888888,#515151,#9e9e9e,#797979,#858585,#9e9e9e,#828282,#616161,#4d4d4d,#545454,#666666,#838383,#a3a3a3,#9e9e9e,#8f8f8f,#8c8c8c,#7f7f7f,#6d6d6d,#797979,#838383,#767676,#818181,#7e7e7e,#9c9c9c,#a3a3a3,#7b7b7b,#333333,#585858,#767676,#313131,#ababab,#a4a4a4,#d9d9d9,#686868,#8c8c8c,#8c8c8c,#949494,#6f6f6f,#aaaaaa,#707070,#707070)"></i><i style="background:linear-gradient(90deg,#636363,#636363,#7a7a7a,#808080,#858585,#8a8a8a,#7c7c7c,#757575,#636363,#6d6d6d,#676767,#5f5f5f,#a6a6a6,#727272,#4c4c4c,#888888,#7e7e7e,#7e7e7e,#888888,#bdbdbd,#4f4f4f,#666666,#bcbcbc,#3e3e3e,#828282,#a2a2a2,#636363,#999999,#595959,#999999,#6d6d6d,#7c7c7c,#666666,#5e5e5e,#555555,#707070,#787878,#989898,#727272,#8c8c8c,#787878,#7d7d7d,#bababa,#868686,#b5b5b5,#686868,#717171,#666666,#676767,#bababa,#828282,#676767,#434343,#5f5f5f,#717171,#989898,#484848,#6f6f6f,#525252,#a1a1a1,#909090,#999999,#a2a2a2,#6b6b6b,#545454,#545454)"></i><i style="background:linear-gradient(90deg,#707070,#707070,#6b6b6b,#808080,#989898,#979797,#9c9c9c,#686868,#7e7e7e,#555555,#888888,#787878,#949494,#969696,#8f8f8f,#6f6f6f,#adadad,#5f5f5f,#808080,#868686,#8e8e8e,#909090,#bbbbbb,#7c7c7c,#aeaeae,#949494,#878787,#727272,#868686,#8a8a8a,#7e7e7e,#4e4e4e,#878787,#353535,#707070,#414141,#818181,#b2b2b2,#707070,#878787,#898989,#808080,#626262,#a8a8a8,#999999,#7c7c7c,#5c5c5c,#646464,#9c9c9c,#949494,#777777,#aaaaaa,#888888,#909090,#9e9e9e,#929292,#797979,#797979,#535353,#4d4d4d,#5f5f5f,#787878,#595959,#6b6b6b,#868686,#868686)"></i><i style="background:linear-gradient(90deg,#818181,#818181,#818181,#8b8b8b,#7e7e7e,#858585,#7f7f7f,#9d9d9d,#a2a2a2,#7c7c7c,#7b7b7b,#646464,#666666,#717171,#545454,#555555,#b6b6b6,#939393,#6b6b6b,#515151,#3c3c3c,#727272,#7a7a7a,#939393,#979797,#868686,#6e6e6e,#494949,#7b7b7b,#4b4b4b,#7b7b7b,#7a7a7a,#9a9a9a,#aeaeae,#838383,#999999,#a8a8a8,#919191,#d3d3d3,#727272,#888888,#666666,#c1c1c1,#919191,#a1a1a1,#747474,#878787,#6a6a6a,#424242,#848484,#6d6d6d,#767676,#717171,#b0b0b0,#6f6f6f,#969696,#434343,#707070,#272727,#aaaaaa,#8a8a8a,#787878,#a0a0a0,#636363,#9f9f9f,#9f9f9f)"></i><i style="background:linear-gradient(90deg,#454545,#454545,#454545,#949494,#8f8f8f,#8f8f8f,#838383,#989898,#838383,#636363,#4c4c4c,#747474,#818181,#454545,#777777,#3b3b3b,#6a6a6a,#e6e6e6,#545454,#808080,#979797,#9b9b9b,#717171,#545454,#5a5a5a,#949494,#767676,#747474,#8d8d8d,#979797,#676767,#5d5d5d,#878787,#a4a4a4,#818181,#c3c3c3,#838383,#595959,#262626,#bcbcbc,#858585,#6e6e6e,#d9d9d9,#4b4b4b,#5b5b5b,#838383,#474747,#535353,#515151,#686868,#a8a8a8,#9a9a9a,#a0a0a0,#7a7a7a,#7b7b7b,#8a8a8a,#5b5b5b,#494949,#757575,#848484,#545454,#8a8a8a,#818181,#6b6b6b,#5a5a5a,#5a5a5a)"></i><i style="background:linear-gradient(90deg,#404040,#404040,#717171,#777777,#a8a8a8,#7d7d7d,#9d9d9d,#999999,#6a6a6a,#606060,#7c7c7c,#777777,#737373,#8d8d8d,#7c7c7c,#969696,#878787,#464646,#a9a9a9,#6a6a6a,#333333,#7e7e7e,#676767,#6e6e6e,#3b3b3b,#525252,#6e6e6e,#4e4e4e,#656565,#8d8d8d,#6c6c6c,#767676,#686868,#979797,#595959,#afafaf,#b3b3b3,#747474,#8c8c8c,#575757,#656565,#4d4d4d,#565656,#5d5d5d,#3b3b3b,#444444,#7f7f7f,#575757,#5b5b5b,#909090,#757575,#737373,#505050,#6a6a6a,#5b5b5b,#7d7d7d,#a1a1a1,#767676,#8e8e8e,#9a9a9a,#7c7c7c,#757575,#7c7c7c,#535353,#696969,#696969)"></i><i style="background:linear-gradient(90deg,#4c4c4c,#4c4c4c,#b6b6b6,#8e8e8e,#a1a1a1,#636363,#7a7a7a,#b5b5b5,#656565,#ababab,#bebebe,#747474,#5a5a5a,#6e6e6e,#6a6a6a,#919191,#989898,#828282,#808080,#5f5f5f,#5e5e5e,#b5b5b5,#9a9a9a,#6b6b6b,#686868,#6a6a6a,#a5a5a5,#7c7c7c,#919191,#888888,#5f5f5f,#b6b6b6,#787878,#aaaaaa,#7c7c7c,#616161,#7a7a7a,#737373,#626262,#565656,#646464,#626262,#6a6a6a,#5b5b5b,#6c6c6c,#757575,#797979,#606060,#595959,#8d8d8d,#919191,#aeaeae,#444444,#888888,#6d6d6d,#767676,#949494,#969696,#888888,#7f7f7f,#888888,#9c9c9c,#6b6b6b,#747474,#757575,#757575)"></i><i style="background:linear-gradient(90deg,#343434,#343434,#3a3a3a,#818181,#737373,#7c7c7c,#666666,#9b9b9b,#a1a1a1,#949494,#797979,#7e7e7e,#818181,#434343,#525252,#747474,#878787,#838383,#414141,#272727,#838383,#949494,#a8a8a8,#4c4c4c,#717171,#828282,#7b7b7b,#535353,#bbbbbb,#909090,#a7a7a7,#6b6b6b,#868686,#9c9c9c,#d5d5d5,#717171,#616161,#616161,#a3a3a3,#909090,#707070,#696969,#656565,#3d3d3d,#6d6d6d,#9a9a9a,#858585,#656565,#787878,#5c5c5c,#969696,#afafaf,#898989,#838383,#545454,#717171,#8a8a8a,#757575,#767676,#979797,#9f9f9f,#6c6c6c,#737373,#828282,#6d6d6d,#6d6d6d)"></i><i style="background:linear-gradient(90deg,#5b5b5b,#5b5b5b,#808080,#969696,#858585,#7a7a7a,#8f8f8f,#717171,#888888,#999999,#686868,#777777,#717171,#626262,#a8a8a8,#a1a1a1,#959595,#919191,#656565,#a1a1a1,#7c7c7c,#898989,#666666,#959595,#828282,#6e6e6e,#757575,#929292,#898989,#909090,#9b9b9b,#757575,#9e9e9e,#7f7f7f,#7b7b7b,#898989,#353535,#7a7a7a,#5b5b5b,#a0a0a0,#858585,#f2f2f2,#868686,#9a9a9a,#868686,#868686,#9d9d9d,#7e7e7e,#6a6a6a,#8c8c8c,#9d9d9d,#797979,#aaaaaa,#9b9b9b,#7d7d7d,#4a4a4a,#757575,#797979,#777777,#b4b4b4,#5f5f5f,#868686,#595959,#7c7c7c,#b6b6b6,#b6b6b6)"></i><i style="background:linear-gradient(90deg,#383838,#383838,#9f9f9f,#767676,#bebebe,#707070,#9a9a9a,#707070,#434343,#4f4f4f,#5c5c5c,#959595,#797979,#b3b3b3,#b0b0b0,#6a6a6a,#868686,#d9d9d9,#a1a1a1,#818181,#a1a1a1,#8d8d8d,#cccccc,#a1a1a1,#8c8c8c,#909090,#606060,#676767,#737373,#8d8d8d,#717171,#484848,#8c8c8c,#4c4c4c,#d1d1d1,#a7a7a7,#616161,#5b5b5b,#535353,#979797,#5e5e5e,#787878,#767676,#8e8e8e,#666666,#6e6e6e,#848484,#858585,#8e8e8e,#8e8e8e,#4b4b4b,#b6b6b6,#999999,#919191,#727272,#6e6e6e,#151515,#676767,#757575,#5f5f5f,#4d4d4d,#9e9e9e,#8d8d8d,#7b7b7b,#696969,#696969)"></i><i style="background:linear-gradient(90deg,#5d5d5d,#5d5d5d,#7f7f7f,#8f8f8f,#7c7c7c,#888888,#4e4e4e,#848484,#444444,#767676,#7e7e7e,#808080,#959595,#404040,#a4a4a4,#a8a8a8,#818181,#a4a4a4,#b9b9b9,#828282,#a6a6a6,#909090,#737373,#6c6c6c,#7c7c7c,#969696,#696969,#818181,#888888,#6e6e6e,#a3a3a3,#4b4b4b,#919191,#797979,#848484,#767676,#6b6b6b,#777777,#666666,#696969,#939393,#aeaeae,#545454,#7a7a7a,#545454,#989898,#7c7c7c,#656565,#5d5d5d,#6b6b6b,#9a9a9a,#959595,#979797,#d6d6d6,#979797,#7d7d7d,#5f5f5f,#3a3a3a,#424242,#070707,#9f9f9f,#5a5a5a,#464646,#9e9e9e,#808080,#808080)"></i><i style="background:linear-gradient(90deg,#d9d9d9,#d9d9d9,#9f9f9f,#9e9e9e,#b7b7b7,#696969,#a9a9a9,#848484,#787878,#5d5d5d,#b5b5b5,#8e8e8e,#8e8e8e,#9d9d9d,#a7a7a7,#6e6e6e,#acacac,#555555,#6f6f6f,#828282,#909090,#7c7c7c,#7d7d7d,#717171,#d9d9d9,#606060,#9a9a9a,#7f7f7f,#b9b9b9,#9d9d9d,#6f6f6f,#9b9b9b,#404040,#939393,#b8b8b8,#929292,#8f8f8f,#5a5a5a,#6f6f6f,#adadad,#9f9f9f,#8b8b8b,#a7a7a7,#b2b2b2,#959595,#616161,#6b6b6b,#979797,#757575,#646464,#777777,#818181,#888888,#979797,#5b5b5b,#5a5a5a,#969696,#515151,#d9d9d9,#4f4f4f,#717171,#5d5d5d,#7d7d7d,#5a5a5a,#d9d9d9,#d9d9d9)"></i><i style="background:linear-gradient(90deg,#606060,#606060,#757575,#595959,#6b6b6b,#484848,#8b8b8b,#878787,#878787,#797979,#919191,#909090,#7f7f7f,#8b8b8b,#686868,#717171,#878787,#464646,#828282,#919191,#9a9a9a,#828282,#8b8b8b,#727272,#707070,#7e7e7e,#a8a8a8,#515151,#bababa,#878787,#505050,#767676,#939393,#787878,#a2a2a2,#8e8e8e,#929292,#8f8f8f,#bbbbbb,#606060,#868686,#b5b5b5,#858585,#6d6d6d,#5f5f5f,#868686,#afafaf,#535353,#7f7f7f,#8b8b8b,#959595,#b3b3b3,#858585,#838383,#797979,#a0a0a0,#a6a6a6,#343434,#636363,#868686,#747474,#777777,#575757,#a3a3a3,#d9d9d9,#d9d9d9)"></i><i style="background:linear-gradient(90deg,#8f8f8f,#8f8f8f,#727272,#b6b6b6,#656565,#797979,#7e7e7e,#9b9b9b,#b9b9b9,#656565,#cccccc,#696969,#555555,#545454,#515151,#8d8d8d,#858585,#949494,#939393,#606060,#9a9a9a,#7b7b7b,#868686,#ababab,#737373,#606060,#868686,#5c5c5c,#787878,#696969,#616161,#5d5d5d,#9c9c9c,#a7a7a7,#767676,#818181,#878787,#989898,#7e7e7e,#808080,#595959,#6a6a6a,#939393,#9a9a9a,#878787,#a1a1a1,#646464,#989898,#979797,#8c8c8c,#848484,#a4a4a4,#707070,#969696,#a8a8a8,#424242,#3b3b3b,#6d6d6d,#6a6a6a,#474747,#878787,#636363,#414141,#555555,#cccccc,#cccccc)"></i><i style="background:linear-gradient(90deg,#d9d9d9,#d9d9d9,#535353,#797979,#696969,#797979,#646464,#6e6e6e,#d9d9d9,#8a8a8a,#727272,#787878,#757575,#7f7f7f,#6c6c6c,#8c8c8c,#6c6c6c,#555555,#bfbfbf,#696969,#565656,#909090,#525252,#aaaaaa,#4e4e4e,#6f6f6f,#757575,#757575,#979797,#7a7a7a,#838383,#7d7d7d,#595959,#848484,#888888,#6a6a6a,#848484,#7d7d7d,#909090,#929292,#646464,#898989,#9a9a9a,#434343,#9d9d9d,#7b7b7b,#999999,#9a9a9a,#4d4d4d,#777777,#999999,#747474,#9c9c9c,#545454,#2a2a2a,#7a7a7a,#595959,#737373,#5f5f5f,#aeaeae,#696969,#8f8f8f,#7e7e7e,#969696,#d9d9d9,#d9d9d9)"></i><i style="background:linear-gradient(90deg,#353535,#353535,#5f5f5f,#969696,#a9a9a9,#989898,#838383,#737373,#5d5d5d,#5c5c5c,#4d4d4d,#5c5c5c,#505050,#747474,#6a6a6a,#737373,#7d7d7d,#adadad,#6c6c6c,#b2b2b2,#797979,#838383,#747474,#4e4e4e,#777777,#7a7a7a,#878787,#515151,#4f4f4f,#818181,#777777,#505050,#707070,#404040,#aeaeae,#737373,#737373,#767676,#777777,#888888,#8c8c8c,#7b7b7b,#6c6c6c,#5e5e5e,#7f7f7f,#9b9b9b,#646464,#898989,#b6b6b6,#797979,#848484,#7d7d7d,#5f5f5f,#343434,#717171,#c0c0c0,#7d7d7d,#8b8b8b,#727272,#585858,#888888,#6c6c6c,#a2a2a2,#aeaeae,#838383,#838383)"></i><i style="background:linear-gradient(90deg,#858585,#858585,#6a6a6a,#6d6d6d,#898989,#6f6f6f,#919191,#929292,#646464,#5e5e5e,#828282,#757575,#838383,#939393,#7d7d7d,#6d6d6d,#7c7c7c,#535353,#939393,#797979,#6a6a6a,#575757,#868686,#5d5d5d,#5f5f5f,#656565,#626262,#7c7c7c,#6e6e6e,#7b7b7b,#777777,#828282,#b0b0b0,#9c9c9c,#8e8e8e,#919191,#585858,#696969,#636363,#5c5c5c,#929292,#5d5d5d,#4a4a4a,#6f6f6f,#8e8e8e,#757575,#8d8d8d,#838383,#767676,#6d6d6d,#adadad,#303030,#606060,#3c3c3c,#272727,#626262,#7d7d7d,#8d8d8d,#9e9e9e,#474747,#7c7c7c,#999999,#a9a9a9,#4c4c4c,#8d8d8d,#8d8d8d)"></i><i style="background:linear-gradient(90deg,#656565,#656565,#767676,#848484,#727272,#585858,#6b6b6b,#494949,#2b2b2b,#424242,#868686,#626262,#cacaca,#767676,#9c9c9c,#a2a2a2,#999999,#7b7b7b,#b0b0b0,#909090,#6a6a6a,#c6c6c6,#797979,#838383,#494949,#646464,#484848,#686868,#858585,#808080,#888888,#717171,#949494,#7d7d7d,#acacac,#7a7a7a,#aeaeae,#9c9c9c,#6b6b6b,#7d7d7d,#686868,#2e2e2e,#484848,#484848,#9f9f9f,#9b9b9b,#8a8a8a,#7d7d7d,#707070,#777777,#7d7d7d,#6d6d6d,#7c7c7c,#4f4f4f,#727272,#4b4b4b,#484848,#515151,#8c8c8c,#868686,#686868,#818181,#6e6e6e,#929292,#8d8d8d,#8d8d8d)"></i><i style="background:linear-gradient(90deg,#333333,#333333,#757575,#606060,#717171,#767676,#6f6f6f,#8f8f8f,#606060,#979797,#707070,#9b9b9b,#a3a3a3,#999999,#727272,#8c8c8c,#737373,#b3b3b3,#858585,#747474,#909090,#9f9f9f,#646464,#7e7e7e,#616161,#474747,#4b4b4b,#7a7a7a,#7f7f7f,#434343,#8a8a8a,#696969,#a6a6a6,#989898,#6d6d6d,#444444,#9d9d9d,#8f8f8f,#818181,#7b7b7b,#3e3e3e,#545454,#353535,#787878,#bbbbbb,#9b9b9b,#878787,#818181,#676767,#949494,#808080,#949494,#262626,#808080,#717171,#676767,#696969,#828282,#7b7b7b,#6a6a6a,#676767,#777777,#a3a3a3,#2d2d2d,#777777,#777777)"></i><i style="background:linear-gradient(90deg,#a3a3a3,#a3a3a3,#696969,#575757,#6f6f6f,#777777,#757575,#878787,#696969,#888888,#868686,#797979,#5a5a5a,#888888,#8e8e8e,#262626,#a3a3a3,#959595,#898989,#828282,#545454,#a7a7a7,#959595,#7b7b7b,#777777,#4b4b4b,#6e6e6e,#444444,#888888,#c7c7c7,#848484,#a2a2a2,#717171,#bfbfbf,#5c5c5c,#737373,#7a7a7a,#8c8c8c,#929292,#9f9f9f,#d2d2d2,#8b8b8b,#757575,#626262,#adadad,#686868,#b1b1b1,#7a7a7a,#818181,#e6e6e6,#5e5e5e,#838383,#8a8a8a,#6f6f6f,#7e7e7e,#646464,#888888,#6b6b6b,#656565,#767676,#5d5d5d,#535353,#646464,#818181,#adadad,#adadad)"></i><i style="background:linear-gradient(90deg,#5b5b5b,#5b5b5b,#737373,#999999,#868686,#828282,#888888,#acacac,#8b8b8b,#6d6d6d,#707070,#5f5f5f,#9d9d9d,#909090,#a2a2a2,#d9d9d9,#898989,#8a8a8a,#8b8b8b,#0f0f0f,#5e5e5e,#9e9e9e,#bcbcbc,#9c9c9c,#393939,#747474,#aaaaaa,#4f4f4f,#707070,#838383,#505050,#7e7e7e,#7d7d7d,#5e5e5e,#7a7a7a,#979797,#7c7c7c,#9b9b9b,#cccccc,#727272,#797979,#747474,#575757,#606060,#868686,#7d7d7d,#8d8d8d,#979797,#adadad,#5d5d5d,#7d7d7d,#828282,#6b6b6b,#2b2b2b,#9a9a9a,#ababab,#929292,#535353,#969696,#939393,#909090,#7e7e7e,#717171,#6f6f6f,#bababa,#bababa)"></i><i style="background:linear-gradient(90deg,#8b8b8b,#8b8b8b,#595959,#8e8e8e,#696969,#636363,#7a7a7a,#767676,#656565,#9c9c9c,#3d3d3d,#676767,#4c4c4c,#b8b8b8,#616161,#6e6e6e,#858585,#9c9c9c,#6f6f6f,#6c6c6c,#818181,#737373,#898989,#898989,#9d9d9d,#747474,#727272,#666666,#7a7a7a,#858585,#636363,#4c4c4c,#717171,#7b7b7b,#757575,#6b6b6b,#686868,#767676,#474747,#424242,#6f6f6f,#747474,#4a4a4a,#7b7b7b,#7d7d7d,#858585,#797979,#525252,#888888,#616161,#9b9b9b,#9c9c9c,#808080,#585858,#8c8c8c,#888888,#8b8b8b,#878787,#7e7e7e,#8a8a8a,#afafaf,#a0a0a0,#7a7a7a,#767676,#c9c9c9,#c9c9c9)"></i><i style="background:linear-gradient(90deg,#272727,#272727,#575757,#747474,#959595,#9b9b9b,#919191,#848484,#a0a0a0,#757575,#555555,#6a6a6a,#4c4c4c,#1a1a1a,#6a6a6a,#919191,#a6a6a6,#a2a2a2,#8e8e8e,#838383,#bebebe,#7a7a7a,#aaaaaa,#717171,#656565,#7d7d7d,#7a7a7a,#949494,#bfbfbf,#999999,#9e9e9e,#c6c6c6,#6b6b6b,#525252,#4b4b4b,#868686,#5e5e5e,#8b8b8b,#696969,#8e8e8e,#a9a9a9,#7f7f7f,#737373,#818181,#868686,#9b9b9b,#bababa,#949494,#828282,#5d5d5d,#555555,#535353,#777777,#999999,#5a5a5a,#505050,#595959,#747474,#898989,#757575,#b0b0b0,#666666,#767676,#858585,#333333,#333333)"></i><i style="background:linear-gradient(90deg,#656565,#656565,#4b4b4b,#525252,#777777,#909090,#838383,#7c7c7c,#7b7b7b,#919191,#888888,#7d7d7d,#6d6d6d,#828282,#838383,#7f7f7f,#9c9c9c,#797979,#6f6f6f,#727272,#b8b8b8,#989898,#4c4c4c,#b1b1b1,#454545,#5c5c5c,#9a9a9a,#717171,#939393,#838383,#9c9c9c,#5f5f5f,#a0a0a0,#777777,#858585,#818181,#9e9e9e,#7d7d7d,#6e6e6e,#a4a4a4,#606060,#9c9c9c,#868686,#6c6c6c,#787878,#676767,#515151,#9d9d9d,#7b7b7b,#9a9a9a,#7b7b7b,#565656,#f2f2f2,#f2f2f2,#848484,#717171,#999999,#535353,#4a4a4a,#787878,#8b8b8b,#6e6e6e,#6d6d6d,#464646,#848484,#848484)"></i><i style="background:linear-gradient(90deg,#7d7d7d,#7d7d7d,#949494,#474747,#afafaf,#898989,#8d8d8d,#505050,#a3a3a3,#919191,#909090,#ababab,#525252,#adadad,#7d7d7d,#3c3c3c,#676767,#cacaca,#7f7f7f,#717171,#6b6b6b,#737373,#909090,#a0a0a0,#959595,#727272,#848484,#b4b4b4,#b4b4b4,#a6a6a6,#787878,#686868,#7b7b7b,#999999,#7d7d7d,#4c4c4c,#aaaaaa,#666666,#9b9b9b,#898989,#b5b5b5,#606060,#3a3a3a,#5d5d5d,#838383,#6e6e6e,#9b9b9b,#404040,#7b7b7b,#7a7a7a,#6d6d6d,#6c6c6c,#7e7e7e,#e6e6e6,#a7a7a7,#787878,#a8a8a8,#6c6c6c,#868686,#828282,#959595,#484848,#878787,#848484,#a9a9a9,#a9a9a9)"></i><i style="background:linear-gradient(90deg,#333333,#333333,#828282,#a1a1a1,#747474,#c2c2c2,#6d6d6d,#ababab,#909090,#9c9c9c,#737373,#636363,#9a9a9a,#a5a5a5,#535353,#8a8a8a,#424242,#bebebe,#888888,#7e7e7e,#4d4d4d,#969696,#4a4a4a,#727272,#b2b2b2,#848484,#696969,#a1a1a1,#8c8c8c,#8b8b8b,#727272,#7e7e7e,#848484,#868686,#7c7c7c,#a7a7a7,#b0b0b0,#b4b4b4,#3f3f3f,#656565,#6b6b6b,#5c5c5c,#989898,#d9d9d9,#878787,#737373,#afafaf,#a9a9a9,#676767,#757575,#666666,#707070,#626262,#959595,#5a5a5a,#606060,#6f6f6f,#737373,#6c6c6c,#8f8f8f,#4b4b4b,#808080,#6c6c6c,#aaaaaa,#bebebe,#bebebe)"></i><i style="background:linear-gradient(90deg,#4e4e4e,#4e4e4e,#7c7c7c,#929292,#b5b5b5,#787878,#676767,#a8a8a8,#676767,#707070,#7f7f7f,#7b7b7b,#4d4d4d,#a8a8a8,#777777,#aeaeae,#777777,#727272,#727272,#414141,#7c7c7c,#a6a6a6,#8f8f8f,#6b6b6b,#9f9f9f,#868686,#646464,#747474,#707070,#808080,#7b7b7b,#838383,#606060,#525252,#858585,#494949,#747474,#959595,#444444,#838383,#8f8f8f,#a2a2a2,#7a7a7a,#7b7b7b,#898989,#808080,#808080,#797979,#808080,#737373,#818181,#717171,#777777,#555555,#767676,#919191,#b3b3b3,#7f7f7f,#8e8e8e,#7a7a7a,#545454,#8a8a8a,#9d9d9d,#b9b9b9,#0d0d0d,#0d0d0d)"></i><i style="background:linear-gradient(90deg,#5f5f5f,#5f5f5f,#4b4b4b,#878787,#898989,#757575,#7c7c7c,#9b9b9b,#838383,#e6e6e6,#4f4f4f,#888888,#3e3e3e,#9b9b9b,#373737,#606060,#9b9b9b,#717171,#979797,#656565,#6c6c6c,#646464,#8c8c8c,#707070,#b5b5b5,#626262,#7a7a7a,#888888,#848484,#8d8d8d,#7e7e7e,#999999,#858585,#7e7e7e,#555555,#939393,#ababab,#9d9d9d,#626262,#686868,#6e6e6e,#7d7d7d,#949494,#757575,#8c8c8c,#999999,#7d7d7d,#b9b9b9,#959595,#363636,#969696,#828282,#636363,#5b5b5b,#939393,#6f6f6f,#9b9b9b,#848484,#6f6f6f,#5d5d5d,#373737,#8f8f8f,#373737,#858585,#7b7b7b,#7b7b7b)"></i><i style="background:linear-gradient(90deg,#5c5c5c,#5c5c5c,#828282,#777777,#6f6f6f,#8a8a8a,#484848,#8d8d8d,#a9a9a9,#7d7d7d,#4a4a4a,#a5a5a5,#9e9e9e,#b4b4b4,#909090,#949494,#828282,#b1b1b1,#b9b9b9,#8a8a8a,#838383,#3c3c3c,#5d5d5d,#878787,#6d6d6d,#7b7b7b,#7a7a7a,#9b9b9b,#5e5e5e,#5b5b5b,#666666,#5a5a5a,#a1a1a1,#808080,#606060,#5a5a5a,#7a7a7a,#676767,#898989,#7d7d7d,#6a6a6a,#646464,#666666,#b3b3b3,#cccccc,#717171,#7c7c7c,#858585,#858585,#717171,#8f8f8f,#484848,#606060,#9a9a9a,#737373,#5c5c5c,#727272,#515151,#4f4f4f,#888888,#969696,#919191,#8b8b8b,#787878,#696969,#696969)"></i><i style="background:linear-gradient(90deg,#aaaaaa,#aaaaaa,#626262,#6e6e6e,#5c5c5c,#878787,#717171,#626262,#848484,#acacac,#3b3b3b,#676767,#646464,#929292,#636363,#787878,#cfcfcf,#656565,#979797,#787878,#a3a3a3,#858585,#9a9a9a,#8c8c8c,#484848,#969696,#757575,#5e5e5e,#aaaaaa,#949494,#7a7a7a,#707070,#848484,#6e6e6e,#7a7a7a,#a2a2a2,#737373,#868686,#b4b4b4,#737373,#505050,#7c7c7c,#757575,#636363,#bebebe,#a3a3a3,#919191,#484848,#858585,#6b6b6b,#656565,#8b8b8b,#7d7d7d,#525252,#9d9d9d,#676767,#5f5f5f,#555555,#cfcfcf,#7a7a7a,#626262,#7c7c7c,#797979,#7b7b7b,#a8a8a8,#a8a8a8)"></i><i style="background:linear-gradient(90deg,#c9c9c9,#c9c9c9,#838383,#393939,#7f7f7f,#5f5f5f,#cccccc,#5e5e5e,#636363,#5f5f5f,#909090,#838383,#777777,#666666,#474747,#9d9d9d,#7b7b7b,#5d5d5d,#7c7c7c,#858585,#959595,#787878,#757575,#909090,#787878,#464646,#949494,#8a8a8a,#d2d2d2,#7c7c7c,#505050,#585858,#727272,#767676,#696969,#8d8d8d,#686868,#7f7f7f,#848484,#6d6d6d,#494949,#737373,#7e7e7e,#828282,#8b8b8b,#646464,#9a9a9a,#7c7c7c,#696969,#888888,#707070,#bbbbbb,#9a9a9a,#5a5a5a,#9f9f9f,#878787,#838383,#6e6e6e,#7e7e7e,#acacac,#999999,#868686,#686868,#666666,#767676,#767676)"></i><i style="background:linear-gradient(90deg,#949494,#949494,#7c7c7c,#8c8c8c,#717171,#bebebe,#7a7a7a,#444444,#9c9c9c,#808080,#6c6c6c,#8c8c8c,#919191,#888888,#6d6d6d,#606060,#5c5c5c,#8f8f8f,#424242,#8a8a8a,#4c4c4c,#434343,#2d2d2d,#a2a2a2,#767676,#7a7a7a,#808080,#646464,#a7a7a7,#727272,#b3b3b3,#666666,#5b5b5b,#858585,#727272,#737373,#707070,#b4b4b4,#434343,#686868,#747474,#6f6f6f,#808080,#878787,#707070,#7f7f7f,#5f5f5f,#8c8c8c,#6c6c6c,#6c6c6c,#767676,#a2a2a2,#878787,#717171,#797979,#bdbdbd,#5d5d5d,#848484,#898989,#888888,#7b7b7b,#9a9a9a,#5d5d5d,#717171,#878787,#878787)"></i><i style="background:linear-gradient(90deg,#d9d9d9,#d9d9d9,#585858,#a3a3a3,#666666,#7f7f7f,#b7b7b7,#7c7c7c,#898989,#a2a2a2,#5a5a5a,#8b8b8b,#959595,#797979,#717171,#a8a8a8,#5e5e5e,#8d8d8d,#707070,#6a6a6a,#505050,#737373,#7e7e7e,#707070,#565656,#8f8f8f,#7a7a7a,#717171,#7c7c7c,#adadad,#4e4e4e,#6b6b6b,#6d6d6d,#616161,#999999,#6a6a6a,#666666,#797979,#5b5b5b,#777777,#909090,#939393,#8d8d8d,#6b6b6b,#5b5b5b,#747474,#7b7b7b,#8e8e8e,#5d5d5d,#5b5b5b,#404040,#6b6b6b,#858585,#8d8d8d,#545454,#838383,#a8a8a8,#525252,#424242,#7d7d7d,#777777,#8a8a8a,#5a5a5a,#929292,#848484,#848484)"></i><i style="background:linear-gradient(90deg,#838383,#838383,#6e6e6e,#a8a8a8,#727272,#8a8a8a,#b7b7b7,#a0a0a0,#787878,#6c6c6c,#676767,#7d7d7d,#a4a4a4,#6e6e6e,#464646,#6e6e6e,#868686,#939393,#707070,#616161,#6c6c6c,#7d7d7d,#848484,#7b7b7b,#8c8c8c,#8b8b8b,#646464,#878787,#949494,#717171,#939393,#646464,#b6b6b6,#adadad,#d0d0d0,#6c6c6c,#7d7d7d,#787878,#6b6b6b,#b7b7b7,#888888,#b5b5b5,#7a7a7a,#7f7f7f,#8c8c8c,#7a7a7a,#707070,#484848,#737373,#717171,#303030,#525252,#797979,#969696,#a3a3a3,#979797,#656565,#656565,#818181,#959595,#646464,#6b6b6b,#666666,#595959,#5f5f5f,#5f5f5f)"></i><i style="background:linear-gradient(90deg,#585858,#585858,#777777,#808080,#565656,#666666,#acacac,#919191,#767676,#696969,#737373,#9e9e9e,#7d7d7d,#393939,#878787,#8c8c8c,#989898,#9c9c9c,#9d9d9d,#878787,#636363,#7b7b7b,#6b6b6b,#616161,#797979,#9c9c9c,#7b7b7b,#7b7b7b,#545454,#9a9a9a,#9c9c9c,#909090,#9b9b9b,#7c7c7c,#8d8d8d,#767676,#646464,#838383,#868686,#868686,#959595,#7b7b7b,#838383,#696969,#606060,#a7a7a7,#757575,#919191,#8c8c8c,#a7a7a7,#404040,#6a6a6a,#888888,#9a9a9a,#bcbcbc,#606060,#898989,#5f5f5f,#696969,#5a5a5a,#717171,#727272,#696969,#848484,#666666,#666666)"></i><i style="background:linear-gradient(90deg,#0d0d0d,#0d0d0d,#343434,#939393,#727272,#929292,#1f1f1f,#aeaeae,#727272,#808080,#7f7f7f,#8f8f8f,#6b6b6b,#909090,#535353,#727272,#909090,#9d9d9d,#929292,#868686,#404040,#848484,#858585,#797979,#848484,#848484,#696969,#787878,#989898,#979797,#9a9a9a,#7d7d7d,#777777,#b7b7b7,#7f7f7f,#7d7d7d,#979797,#8a8a8a,#919191,#939393,#909090,#626262,#7c7c7c,#555555,#828282,#8c8c8c,#a9a9a9,#909090,#969696,#dadada,#818181,#525252,#474747,#7b7b7b,#7e7e7e,#6f6f6f,#7b7b7b,#676767,#707070,#a4a4a4,#686868,#7a7a7a,#737373,#797979,#8d8d8d,#8d8d8d)"></i><i style="background:linear-gradient(90deg,#7f7f7f,#7f7f7f,#777777,#595959,#6a6a6a,#6e6e6e,#7d7d7d,#979797,#959595,#6f6f6f,#838383,#b0b0b0,#787878,#898989,#434343,#7d7d7d,#6d6d6d,#929292,#888888,#878787,#808080,#808080,#646464,#9d9d9d,#686868,#939393,#7a7a7a,#5d5d5d,#585858,#727272,#515151,#939393,#515151,#4e4e4e,#666666,#b5b5b5,#737373,#9c9c9c,#6e6e6e,#7b7b7b,#808080,#3c3c3c,#787878,#9f9f9f,#5c5c5c,#515151,#7c7c7c,#939393,#aaaaaa,#858585,#868686,#2c2c2c,#5b5b5b,#808080,#818181,#838383,#838383,#929292,#828282,#575757,#565656,#919191,#7e7e7e,#a7a7a7,#858585,#858585)"></i><i style="background:linear-gradient(90deg,#9e9e9e,#9e9e9e,#6d6d6d,#747474,#7a7a7a,#515151,#676767,#838383,#656565,#929292,#575757,#878787,#818181,#aeaeae,#818181,#7f7f7f,#888888,#454545,#585858,#878787,#5f5f5f,#929292,#929292,#1a1a1a,#676767,#828282,#8c8c8c,#616161,#656565,#6d6d6d,#878787,#a0a0a0,#727272,#767676,#5a5a5a,#a1a1a1,#b8b8b8,#858585,#888888,#9c9c9c,#9e9e9e,#929292,#929292,#8a8a8a,#838383,#b2b2b2,#5b5b5b,#626262,#676767,#6c6c6c,#868686,#5c5c5c,#666666,#767676,#6f6f6f,#787878,#484848,#7c7c7c,#959595,#b8b8b8,#8e8e8e,#8d8d8d,#878787,#4b4b4b,#d9d9d9,#d9d9d9)"></i><i style="background:linear-gradient(90deg,#b8b8b8,#b8b8b8,#9b9b9b,#7c7c7c,#aaaaaa,#3f3f3f,#5b5b5b,#565656,#4c4c4c,#858585,#7e7e7e,#a9a9a9,#8b8b8b,#7e7e7e,#d4d4d4,#757575,#7b7b7b,#787878,#949494,#8a8a8a,#878787,#7a7a7a,#686868,#adadad,#979797,#262626,#666666,#656565,#595959,#6d6d6d,#656565,#cacaca,#646464,#919191,#8c8c8c,#a9a9a9,#999999,#6d6d6d,#afafaf,#6c6c6c,#9b9b9b,#626262,#949494,#8e8e8e,#6f6f6f,#666666,#6b6b6b,#7b7b7b,#777777,#5c5c5c,#4a4a4a,#a8a8a8,#3d3d3d,#585858,#9c9c9c,#7f7f7f,#656565,#838383,#a8a8a8,#646464,#747474,#969696,#737373,#868686,#727272,#727272)"></i><i style="background:linear-gradient(90deg,#1a1a1a,#1a1a1a,#979797,#949494,#4c4c4c,#4b4b4b,#888888,#797979,#878787,#646464,#b6b6b6,#a4a4a4,#6f6f6f,#868686,#6c6c6c,#9c9c9c,#848484,#919191,#7e7e7e,#707070,#808080,#7c7c7c,#919191,#868686,#646464,#949494,#7d7d7d,#808080,#616161,#949494,#878787,#a3a3a3,#7b7b7b,#afafaf,#7e7e7e,#7c7c7c,#606060,#979797,#5f5f5f,#656565,#7c7c7c,#878787,#8e8e8e,#595959,#5f5f5f,#aeaeae,#a3a3a3,#828282,#656565,#757575,#626262,#a8a8a8,#636363,#707070,#656565,#686868,#7f7f7f,#6a6a6a,#7e7e7e,#9e9e9e,#9b9b9b,#818181,#a0a0a0,#696969,#8c8c8c,#8c8c8c)"></i><i style="background:linear-gradient(90deg,#e6e6e6,#e6e6e6,#939393,#909090,#a0a0a0,#7a7a7a,#646464,#787878,#898989,#6d6d6d,#5e5e5e,#959595,#999999,#5a5a5a,#494949,#a4a4a4,#9f9f9f,#969696,#a8a8a8,#777777,#909090,#797979,#d9d9d9,#676767,#686868,#888888,#999999,#838383,#939393,#727272,#7b7b7b,#727272,#5f5f5f,#6b6b6b,#5c5c5c,#848484,#aaaaaa,#c7c7c7,#505050,#535353,#696969,#595959,#9b9b9b,#5e5e5e,#b2b2b2,#656565,#484848,#343434,#656565,#7f7f7f,#9c9c9c,#5a5a5a,#5f5f5f,#707070,#717171,#676767,#919191,#919191,#999999,#575757,#9a9a9a,#7f7f7f,#828282,#727272,#acacac,#acacac)"></i><i style="background:linear-gradient(90deg,#7b7b7b,#7b7b7b,#adadad,#a7a7a7,#acacac,#9b9b9b,#808080,#525252,#404040,#616161,#676767,#878787,#888888,#7e7e7e,#5c5c5c,#8d8d8d,#7d7d7d,#595959,#9b9b9b,#8e8e8e,#7b7b7b,#a2a2a2,#848484,#626262,#6c6c6c,#7a7a7a,#818181,#414141,#6c6c6c,#5c5c5c,#9e9e9e,#616161,#616161,#7e7e7e,#555555,#5f5f5f,#8a8a8a,#8b8b8b,#868686,#888888,#8c8c8c,#6f6f6f,#656565,#7a7a7a,#a7a7a7,#8c8c8c,#424242,#494949,#5f5f5f,#7b7b7b,#c3c3c3,#666666,#9c9c9c,#6a6a6a,#8d8d8d,#646464,#797979,#a7a7a7,#9d9d9d,#9a9a9a,#8b8b8b,#6d6d6d,#525252,#b6b6b6,#8c8c8c,#8c8c8c)"></i><i style="background:linear-gradient(90deg,#575757,#575757,#868686,#8a8a8a,#838383,#a2a2a2,#7e7e7e,#797979,#363636,#626262,#767676,#606060,#c0c0c0,#8c8c8c,#adadad,#a1a1a1,#4a4a4a,#676767,#a1a1a1,#6b6b6b,#6c6c6c,#7f7f7f,#8c8c8c,#777777,#b6b6b6,#4e4e4e,#6a6a6a,#7b7b7b,#777777,#bebebe,#828282,#afafaf,#7d7d7d,#838383,#909090,#acacac,#757575,#6d6d6d,#898989,#858585,#7a7a7a,#5a5a5a,#777777,#a8a8a8,#636363,#909090,#9b9b9b,#757575,#7c7c7c,#767676,#989898,#787878,#1a1a1a,#b3b3b3,#909090,#9a9a9a,#737373,#a6a6a6,#939393,#949494,#555555,#535353,#656565,#979797,#676767,#676767)"></i><i style="background:linear-gradient(90deg,#7f7f7f,#7f7f7f,#8f8f8f,#696969,#9e9e9e,#6b6b6b,#2e2e2e,#959595,#6e6e6e,#808080,#6f6f6f,#a9a9a9,#6d6d6d,#595959,#7e7e7e,#747474,#787878,#777777,#666666,#626262,#787878,#a7a7a7,#939393,#b7b7b7,#8d8d8d,#494949,#8d8d8d,#a0a0a0,#868686,#696969,#b1b1b1,#7a7a7a,#a0a0a0,#797979,#686868,#717171,#acacac,#656565,#747474,#bbbbbb,#a2a2a2,#737373,#888888,#999999,#959595,#969696,#9a9a9a,#a3a3a3,#7b7b7b,#979797,#686868,#636363,#949494,#9f9f9f,#777777,#8a8a8a,#979797,#969696,#bebebe,#979797,#6f6f6f,#7a7a7a,#979797,#b7b7b7,#6c6c6c,#6c6c6c)"></i><i style="background:linear-gradient(90deg,#797979,#797979,#6a6a6a,#686868,#a1a1a1,#787878,#5e5e5e,#606060,#888888,#656565,#6a6a6a,#898989,#545454,#7f7f7f,#838383,#5f5f5f,#919191,#6c6c6c,#4d4d4d,#7a7a7a,#7b7b7b,#838383,#8e8e8e,#646464,#787878,#6b6b6b,#565656,#757575,#797979,#8c8c8c,#aaaaaa,#a6a6a6,#575757,#afafaf,#878787,#6b6b6b,#545454,#777777,#6e6e6e,#686868,#777777,#646464,#686868,#7f7f7f,#7a7a7a,#717171,#9f9f9f,#969696,#bfbfbf,#616161,#656565,#d9d9d9,#626262,#5e5e5e,#757575,#aeaeae,#ababab,#b7b7b7,#989898,#969696,#989898,#878787,#777777,#5b5b5b,#7a7a7a,#7a7a7a)"></i><i style="background:linear-gradient(90deg,#767676,#767676,#585858,#848484,#7d7d7d,#747474,#929292,#6b6b6b,#545454,#3d3d3d,#676767,#6a6a6a,#888888,#4e4e4e,#616161,#7f7f7f,#717171,#6a6a6a,#8c8c8c,#9b9b9b,#888888,#686868,#7e7e7e,#616161,#949494,#585858,#858585,#8c8c8c,#5f5f5f,#696969,#4e4e4e,#868686,#7c7c7c,#686868,#7a7a7a,#7c7c7c,#828282,#7a7a7a,#616161,#4d4d4d,#414141,#909090,#767676,#7d7d7d,#868686,#7f7f7f,#949494,#9c9c9c,#909090,#676767,#808080,#7c7c7c,#727272,#6b6b6b,#747474,#6b6b6b,#717171,#8b8b8b,#8b8b8b,#d4d4d4,#a1a1a1,#5f5f5f,#a7a7a7,#707070,#6f6f6f,#6f6f6f)"></i><i style="background:linear-gradient(90deg,#0d0d0d,#0d0d0d,#737373,#7a7a7a,#767676,#888888,#b1b1b1,#d7d7d7,#979797,#3e3e3e,#919191,#5a5a5a,#6f6f6f,#a1a1a1,#8d8d8d,#909090,#676767,#606060,#797979,#636363,#383838,#585858,#5c5c5c,#666666,#6c6c6c,#707070,#494949,#6f6f6f,#474747,#888888,#858585,#9c9c9c,#949494,#7d7d7d,#404040,#5c5c5c,#737373,#6a6a6a,#b1b1b1,#686868,#9a9a9a,#646464,#4d4d4d,#8d8d8d,#8f8f8f,#8e8e8e,#9f9f9f,#9e9e9e,#454545,#7a7a7a,#626262,#4e4e4e,#757575,#474747,#696969,#888888,#6e6e6e,#777777,#a4a4a4,#767676,#959595,#9d9d9d,#898989,#838383,#525252,#525252)"></i><i style="background:linear-gradient(90deg,#0d0d0d,#0d0d0d,#979797,#878787,#636363,#717171,#707070,#8a8a8a,#7f7f7f,#646464,#797979,#9b9b9b,#c2c2c2,#6c6c6c,#929292,#7b7b7b,#979797,#949494,#7b7b7b,#828282,#7a7a7a,#808080,#9b9b9b,#aaaaaa,#686868,#505050,#4e4e4e,#757575,#919191,#888888,#acacac,#656565,#acacac,#797979,#9c9c9c,#959595,#696969,#686868,#4f4f4f,#909090,#5a5a5a,#525252,#878787,#c1c1c1,#4f4f4f,#8f8f8f,#8f8f8f,#a9a9a9,#8b8b8b,#727272,#7e7e7e,#6b6b6b,#5a5a5a,#777777,#4d4d4d,#717171,#717171,#474747,#989898,#989898,#666666,#8d8d8d,#aeaeae,#616161,#555555,#555555)"></i><i style="background:linear-gradient(90deg,#1a1a1a,#1a1a1a,#7c7c7c,#a3a3a3,#757575,#b6b6b6,#6d6d6d,#888888,#6c6c6c,#5a5a5a,#919191,#686868,#7a7a7a,#d1d1d1,#bebebe,#838383,#868686,#a0a0a0,#9b9b9b,#828282,#959595,#b5b5b5,#707070,#9f9f9f,#828282,#737373,#7e7e7e,#666666,#8a8a8a,#636363,#868686,#b4b4b4,#919191,#555555,#6c6c6c,#a9a9a9,#6c6c6c,#919191,#878787,#747474,#888888,#9b9b9b,#bdbdbd,#878787,#898989,#999999,#7f7f7f,#5f5f5f,#7b7b7b,#7a7a7a,#727272,#909090,#747474,#959595,#656565,#949494,#6d6d6d,#757575,#4e4e4e,#9b9b9b,#afafaf,#535353,#8d8d8d,#757575,#8d8d8d,#8d8d8d)"></i><i style="background:linear-gradient(90deg,#5d5d5d,#5d5d5d,#7c7c7c,#777777,#9d9d9d,#9a9a9a,#878787,#979797,#666666,#7b7b7b,#979797,#595959,#747474,#a1a1a1,#5c5c5c,#aaaaaa,#777777,#a6a6a6,#969696,#999999,#8b8b8b,#525252,#888888,#959595,#bbbbbb,#a3a3a3,#b0b0b0,#9a9a9a,#7c7c7c,#929292,#a2a2a2,#a0a0a0,#696969,#606060,#afafaf,#5c5c5c,#676767,#656565,#b1b1b1,#868686,#868686,#8f8f8f,#bebebe,#7e7e7e,#3e3e3e,#878787,#868686,#595959,#747474,#929292,#828282,#626262,#676767,#9c9c9c,#717171,#8e8e8e,#626262,#7d7d7d,#727272,#646464,#939393,#878787,#c9c9c9,#545454,#717171,#717171)"></i><i style="background:linear-gradient(90deg,#868686,#868686,#888888,#515151,#4e4e4e,#666666,#828282,#8b8b8b,#616161,#5a5a5a,#7b7b7b,#7b7b7b,#8f8f8f,#888888,#949494,#646464,#757575,#949494,#828282,#6d6d6d,#8f8f8f,#626262,#9a9a9a,#727272,#8c8c8c,#b5b5b5,#595959,#909090,#999999,#9a9a9a,#8d8d8d,#6c6c6c,#727272,#9e9e9e,#919191,#595959,#747474,#808080,#7c7c7c,#606060,#7d7d7d,#818181,#808080,#777777,#777777,#565656,#676767,#b2b2b2,#5b5b5b,#828282,#777777,#555555,#747474,#888888,#727272,#7b7b7b,#a0a0a0,#808080,#747474,#979797,#5a5a5a,#939393,#676767,#787878,#7c7c7c,#7c7c7c)"></i><i style="background:linear-gradient(90deg,#333333,#333333,#9b9b9b,#6f6f6f,#545454,#636363,#565656,#848484,#6a6a6a,#9d9d9d,#9e9e9e,#909090,#7b7b7b,#676767,#8b8b8b,#565656,#9d9d9d,#6b6b6b,#7b7b7b,#7c7c7c,#484848,#878787,#6c6c6c,#858585,#8b8b8b,#878787,#8d8d8d,#707070,#4d4d4d,#919191,#939393,#9e9e9e,#6c6c6c,#a0a0a0,#868686,#adadad,#7e7e7e,#7a7a7a,#858585,#646464,#aeaeae,#9f9f9f,#787878,#7c7c7c,#7a7a7a,#525252,#7c7c7c,#a6a6a6,#8d8d8d,#919191,#828282,#7f7f7f,#747474,#828282,#959595,#818181,#8a8a8a,#6f6f6f,#868686,#585858,#949494,#7a7a7a,#939393,#626262,#6c6c6c,#6c6c6c)"></i><i style="background:linear-gradient(90deg,#787878,#787878,#4f4f4f,#d7d7d7,#c2c2c2,#acacac,#7d7d7d,#616161,#909090,#7b7b7b,#939393,#878787,#7e7e7e,#949494,#6e6e6e,#585858,#bdbdbd,#8e8e8e,#a2a2a2,#7c7c7c,#727272,#7b7b7b,#737373,#636363,#8c8c8c,#5b5b5b,#9a9a9a,#aeaeae,#696969,#8c8c8c,#797979,#7c7c7c,#959595,#747474,#666666,#898989,#929292,#9f9f9f,#878787,#797979,#9a9a9a,#818181,#5f5f5f,#8c8c8c,#979797,#9c9c9c,#7c7c7c,#ababab,#3f3f3f,#bbbbbb,#767676,#707070,#4d4d4d,#a4a4a4,#616161,#717171,#c9c9c9,#5d5d5d,#515151,#767676,#ababab,#8b8b8b,#575757,#797979,#4d4d4d,#4d4d4d)"></i><i style="background:linear-gradient(90deg,#696969,#696969,#6d6d6d,#8e8e8e,#737373,#969696,#6e6e6e,#5f5f5f,#919191,#494949,#5e5e5e,#838383,#8b8b8b,#9d9d9d,#575757,#757575,#909090,#6a6a6a,#8e8e8e,#4a4a4a,#727272,#818181,#8c8c8c,#525252,#434343,#6a6a6a,#767676,#d4d4d4,#787878,#8e8e8e,#7b7b7b,#a1a1a1,#888888,#878787,#646464,#3b3b3b,#cccccc,#9b9b9b,#848484,#7b7b7b,#4f4f4f,#646464,#3e3e3e,#6d6d6d,#808080,#a7a7a7,#737373,#8b8b8b,#7a7a7a,#898989,#6e6e6e,#aeaeae,#575757,#aaaaaa,#a6a6a6,#767676,#828282,#565656,#818181,#6d6d6d,#9b9b9b,#686868,#474747,#656565,#7b7b7b,#7b7b7b)"></i><i style="background:linear-gradient(90deg,#f2f2f2,#f2f2f2,#5f5f5f,#939393,#909090,#7f7f7f,#7e7e7e,#535353,#868686,#898989,#a1a1a1,#666666,#333333,#535353,#464646,#afafaf,#7e7e7e,#606060,#666666,#333333,#444444,#7d7d7d,#5b5b5b,#727272,#676767,#adadad,#6f6f6f,#727272,#9a9a9a,#808080,#676767,#676767,#6e6e6e,#5a5a5a,#626262,#515151,#979797,#494949,#aeaeae,#818181,#5e5e5e,#494949,#969696,#8f8f8f,#8c8c8c,#828282,#7f7f7f,#bcbcbc,#7f7f7f,#8d8d8d,#5f5f5f,#494949,#7f7f7f,#707070,#333333,#808080,#e6e6e6,#7c7c7c,#868686,#999999,#8d8d8d,#333333,#797979,#757575,#797979,#797979)"></i><i style="background:linear-gradient(90deg,#f2f2f2,#f2f2f2,#5f5f5f,#939393,#909090,#7f7f7f,#7e7e7e,#535353,#868686,#898989,#a1a1a1,#666666,#333333,#535353,#464646,#afafaf,#7e7e7e,#606060,#666666,#333333,#444444,#7d7d7d,#5b5b5b,#727272,#676767,#adadad,#6f6f6f,#727272,#9a9a9a,#808080,#676767,#676767,#6e6e6e,#5a5a5a,#626262,#515151,#979797,#494949,#aeaeae,#818181,#5e5e5e,#494949,#969696,#8f8f8f,#8c8c8c,#828282,#7f7f7f,#bcbcbc,#7f7f7f,#8d8d8d,#5f5f5f,#494949,#7f7f7f,#707070,#333333,#808080,#e6e6e6,#7c7c7c,#868686,#999999,#8d8d8d,#333333,#797979,#757575,#797979,#797979)"></i></div><div class="o" style="left:160px;top:52px;width:21px;height:21px;background:#053061"></div><div class="o" style="left:167px;top:45px;width:14px;height:8px;background:#67001f"></div><div class="o" style="left:171px;top:52px;width:10px;height:9px;background:#67001f"></div><div class="o" style="left:309px;top:152px;width:35px;height:14px;background:#67001f"></div><div class="o" style="left:330px;top:165px;width:14px;height:8px;background:#67001f"></div><div class="o" style="left:301px;top:144px;width:15px;height:15px;background:#053061;border-radius:0 0 6px 0"></div><div class="o" style="left:338px;top:152px;width:6px;height:6px;background:#053061;border-radius:0 5px 0 0"></div><div class="o" style="left:231px;top:31px;width:14px;height:14px;background:#67001f"></div><div class="o" style="left:131px;top:116px;width:14px;height:14px;background:#053061"></div><div class="o" style="left:82px;top:137px;width:14px;height:15px;background:#053061"></div><div class="o" style="left:238px;top:201px;width:14px;height:14px;background:#053061"></div><div class="o" style="left:330px;top:180px;width:14px;height:14px;background:#053061"></div><div class="o" style="left:153px;top:308px;width:14px;height:14px;background:#67001f"></div><div class="o" style="left:344px;top:322px;width:14px;height:14px;background:#67001f"></div><div class="o" style="left:96px;top:442px;width:14px;height:12px;background:#67001f"></div><div class="o" style="left:174px;top:442px;width:14px;height:12px;background:#053061"></div><div class="o" style="left:273px;top:442px;width:14px;height:12px;background:#053061"></div></div>
</body></html>
